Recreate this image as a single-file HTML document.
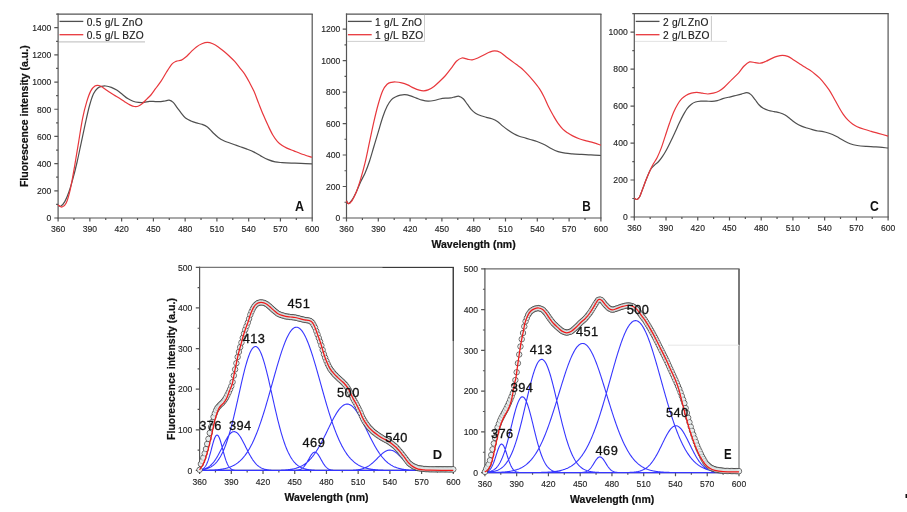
<!DOCTYPE html>
<html><head><meta charset="utf-8"><style>
html,body{margin:0;padding:0;background:#fff;}
svg{display:block;font-family:"Liberation Sans",sans-serif;filter:blur(0.3px);}
</style></head><body>
<svg width="907" height="512" viewBox="0 0 907 512">
<rect width="907" height="512" fill="#fff"/>
<path d="M57.5,14.1H312.8" stroke="#555" stroke-width="1.2"/>
<path d="M312.2,14.1V218" stroke="#555" stroke-width="1.2"/>
<path d="M58.1,13.5V218.6" stroke="#555" stroke-width="1.2"/>
<path d="M57.5,218H312.8" stroke="#555" stroke-width="1.2"/>
<path d="M58.1,218v3.6M73.98,218v2.1M89.86,218v3.6M105.74,218v2.1M121.62,218v3.6M137.51,218v2.1M153.39,218v3.6M169.27,218v2.1M185.15,218v3.6M201.03,218v2.1M216.91,218v3.6M232.79,218v2.1M248.68,218v3.6M264.56,218v2.1M280.44,218v3.6M296.32,218v2.1M312.2,218v3.6M58.1,218h-3.8M58.1,204.41h-2M58.1,190.81h-3.8M58.1,177.22h-2M58.1,163.63h-3.8M58.1,150.03h-2M58.1,136.44h-3.8M58.1,122.85h-2M58.1,109.25h-3.8M58.1,95.66h-2M58.1,82.07h-3.8M58.1,68.47h-2M58.1,54.88h-3.8M58.1,41.29h-2M58.1,27.69h-3.8M58.1,14.1h-2" stroke="#555" stroke-width="1.2"/>
<g font-size="9.4" fill="#262626" stroke="#262626" stroke-width="0.15"><text transform="translate(58.1,231.9) scale(0.915,1)" text-anchor="middle">360</text><text transform="translate(89.86,231.9) scale(0.915,1)" text-anchor="middle">390</text><text transform="translate(121.62,231.9) scale(0.915,1)" text-anchor="middle">420</text><text transform="translate(153.39,231.9) scale(0.915,1)" text-anchor="middle">450</text><text transform="translate(185.15,231.9) scale(0.915,1)" text-anchor="middle">480</text><text transform="translate(216.91,231.9) scale(0.915,1)" text-anchor="middle">510</text><text transform="translate(248.68,231.9) scale(0.915,1)" text-anchor="middle">540</text><text transform="translate(280.44,231.9) scale(0.915,1)" text-anchor="middle">570</text><text transform="translate(312.2,231.9) scale(0.915,1)" text-anchor="middle">600</text><text transform="translate(51.4,221.3) scale(0.915,1)" text-anchor="end">0</text><text transform="translate(51.4,194.11) scale(0.915,1)" text-anchor="end">200</text><text transform="translate(51.4,166.93) scale(0.915,1)" text-anchor="end">400</text><text transform="translate(51.4,139.74) scale(0.915,1)" text-anchor="end">600</text><text transform="translate(51.4,112.55) scale(0.915,1)" text-anchor="end">800</text><text transform="translate(51.4,85.37) scale(0.915,1)" text-anchor="end">1000</text><text transform="translate(51.4,58.18) scale(0.915,1)" text-anchor="end">1200</text><text transform="translate(51.4,30.99) scale(0.915,1)" text-anchor="end">1400</text></g>
<path d="M345.9,14.1H601.5" stroke="#555" stroke-width="1.2"/>
<path d="M600.9,14.1V218" stroke="#555" stroke-width="1.2"/>
<path d="M346.5,13.5V218.6" stroke="#555" stroke-width="1.2"/>
<path d="M345.9,218H601.5" stroke="#555" stroke-width="1.2"/>
<path d="M346.5,218v3.6M362.4,218v2.1M378.3,218v3.6M394.2,218v2.1M410.1,218v3.6M426,218v2.1M441.9,218v3.6M457.8,218v2.1M473.7,218v3.6M489.6,218v2.1M505.5,218v3.6M521.4,218v2.1M537.3,218v3.6M553.2,218v2.1M569.1,218v3.6M585,218v2.1M600.9,218v3.6M346.5,218h-3.8M346.5,202.25h-2M346.5,186.51h-3.8M346.5,170.76h-2M346.5,155.02h-3.8M346.5,139.27h-2M346.5,123.53h-3.8M346.5,107.78h-2M346.5,92.04h-3.8M346.5,76.29h-2M346.5,60.55h-3.8M346.5,44.8h-2M346.5,29.06h-3.8" stroke="#555" stroke-width="1.2"/>
<g font-size="9.4" fill="#262626" stroke="#262626" stroke-width="0.15"><text transform="translate(346.5,231.9) scale(0.915,1)" text-anchor="middle">360</text><text transform="translate(378.3,231.9) scale(0.915,1)" text-anchor="middle">390</text><text transform="translate(410.1,231.9) scale(0.915,1)" text-anchor="middle">420</text><text transform="translate(441.9,231.9) scale(0.915,1)" text-anchor="middle">450</text><text transform="translate(473.7,231.9) scale(0.915,1)" text-anchor="middle">480</text><text transform="translate(505.5,231.9) scale(0.915,1)" text-anchor="middle">510</text><text transform="translate(537.3,231.9) scale(0.915,1)" text-anchor="middle">540</text><text transform="translate(569.1,231.9) scale(0.915,1)" text-anchor="middle">570</text><text transform="translate(600.9,231.9) scale(0.915,1)" text-anchor="middle">600</text><text transform="translate(340.3,221.3) scale(0.915,1)" text-anchor="end">0</text><text transform="translate(340.3,189.81) scale(0.915,1)" text-anchor="end">200</text><text transform="translate(340.3,158.32) scale(0.915,1)" text-anchor="end">400</text><text transform="translate(340.3,126.83) scale(0.915,1)" text-anchor="end">600</text><text transform="translate(340.3,95.34) scale(0.915,1)" text-anchor="end">800</text><text transform="translate(340.3,63.85) scale(0.915,1)" text-anchor="end">1000</text><text transform="translate(340.3,32.36) scale(0.915,1)" text-anchor="end">1200</text></g>
<path d="M633.7,13.6H888.7" stroke="#555" stroke-width="1.2"/>
<path d="M888.1,13.6V217" stroke="#555" stroke-width="1.2"/>
<path d="M634.3,13V217.6" stroke="#555" stroke-width="1.2"/>
<path d="M633.7,217H888.7" stroke="#555" stroke-width="1.2"/>
<path d="M634.3,217v3.6M650.16,217v2.1M666.02,217v3.6M681.89,217v2.1M697.75,217v3.6M713.61,217v2.1M729.48,217v3.6M745.34,217v2.1M761.2,217v3.6M777.06,217v2.1M792.92,217v3.6M808.79,217v2.1M824.65,217v3.6M840.51,217v2.1M856.38,217v3.6M872.24,217v2.1M888.1,217v3.6M634.3,217h-3.8M634.3,198.51h-2M634.3,180.02h-3.8M634.3,161.53h-2M634.3,143.04h-3.8M634.3,124.55h-2M634.3,106.05h-3.8M634.3,87.56h-2M634.3,69.07h-3.8M634.3,50.58h-2M634.3,32.09h-3.8M634.3,13.6h-2" stroke="#555" stroke-width="1.2"/>
<g font-size="9.4" fill="#262626" stroke="#262626" stroke-width="0.15"><text transform="translate(634.3,230.9) scale(0.915,1)" text-anchor="middle">360</text><text transform="translate(666.02,230.9) scale(0.915,1)" text-anchor="middle">390</text><text transform="translate(697.75,230.9) scale(0.915,1)" text-anchor="middle">420</text><text transform="translate(729.48,230.9) scale(0.915,1)" text-anchor="middle">450</text><text transform="translate(761.2,230.9) scale(0.915,1)" text-anchor="middle">480</text><text transform="translate(792.92,230.9) scale(0.915,1)" text-anchor="middle">510</text><text transform="translate(824.65,230.9) scale(0.915,1)" text-anchor="middle">540</text><text transform="translate(856.38,230.9) scale(0.915,1)" text-anchor="middle">570</text><text transform="translate(888.1,230.9) scale(0.915,1)" text-anchor="middle">600</text><text transform="translate(627.7,220.3) scale(0.915,1)" text-anchor="end">0</text><text transform="translate(627.7,183.32) scale(0.915,1)" text-anchor="end">200</text><text transform="translate(627.7,146.34) scale(0.915,1)" text-anchor="end">400</text><text transform="translate(627.7,109.35) scale(0.915,1)" text-anchor="end">600</text><text transform="translate(627.7,72.37) scale(0.915,1)" text-anchor="end">800</text><text transform="translate(627.7,35.39) scale(0.915,1)" text-anchor="end">1000</text></g>
<path d="M199,267.3H453.9" stroke="#777" stroke-width="1.2"/>
<path d="M453.3,267.3V470.4" stroke="#6e6e6e" stroke-width="1.2"/>
<path d="M199.6,266.7V471" stroke="#555" stroke-width="1.2"/>
<path d="M199,470.4H453.9" stroke="#555" stroke-width="1.2"/>
<path d="M199.6,470.4v3.6M215.46,470.4v2.1M231.31,470.4v3.6M247.17,470.4v2.1M263.02,470.4v3.6M278.88,470.4v2.1M294.74,470.4v3.6M310.59,470.4v2.1M326.45,470.4v3.6M342.31,470.4v2.1M358.16,470.4v3.6M374.02,470.4v2.1M389.88,470.4v3.6M405.73,470.4v2.1M421.59,470.4v3.6M437.44,470.4v2.1M453.3,470.4v3.6M199.6,470.4h-3.8M199.6,450.09h-2M199.6,429.78h-3.8M199.6,409.47h-2M199.6,389.16h-3.8M199.6,368.85h-2M199.6,348.54h-3.8M199.6,328.23h-2M199.6,307.92h-3.8M199.6,287.61h-2M199.6,267.3h-3.8" stroke="#555" stroke-width="1.2"/>
<g font-size="9.4" fill="#262626" stroke="#262626" stroke-width="0.15"><text transform="translate(199.6,484.8) scale(0.915,1)" text-anchor="middle">360</text><text transform="translate(231.31,484.8) scale(0.915,1)" text-anchor="middle">390</text><text transform="translate(263.02,484.8) scale(0.915,1)" text-anchor="middle">420</text><text transform="translate(294.74,484.8) scale(0.915,1)" text-anchor="middle">450</text><text transform="translate(326.45,484.8) scale(0.915,1)" text-anchor="middle">480</text><text transform="translate(358.16,484.8) scale(0.915,1)" text-anchor="middle">510</text><text transform="translate(389.88,484.8) scale(0.915,1)" text-anchor="middle">540</text><text transform="translate(421.59,484.8) scale(0.915,1)" text-anchor="middle">570</text><text transform="translate(453.3,484.8) scale(0.915,1)" text-anchor="middle">600</text><text transform="translate(192.4,473.7) scale(0.915,1)" text-anchor="end">0</text><text transform="translate(192.4,433.08) scale(0.915,1)" text-anchor="end">100</text><text transform="translate(192.4,392.46) scale(0.915,1)" text-anchor="end">200</text><text transform="translate(192.4,351.84) scale(0.915,1)" text-anchor="end">300</text><text transform="translate(192.4,311.22) scale(0.915,1)" text-anchor="end">400</text><text transform="translate(192.4,270.6) scale(0.915,1)" text-anchor="end">500</text></g>
<path d="M382.5,267.5H453.9" stroke="#3a3a3a" stroke-width="1.2"/>
<path d="M453.3,267.3V341" stroke="#3a3a3a" stroke-width="1.2"/>
<path d="M484.3,268.9H739.6" stroke="#6a6a6a" stroke-width="1.2"/>
<path d="M739,268.9V472.6" stroke="#7a7a7a" stroke-width="1.2"/>
<path d="M484.9,268.3V473.2" stroke="#555" stroke-width="1.2"/>
<path d="M484.3,472.6H739.6" stroke="#555" stroke-width="1.2"/>
<path d="M484.9,472.6v3.6M500.78,472.6v2.1M516.66,472.6v3.6M532.54,472.6v2.1M548.42,472.6v3.6M564.31,472.6v2.1M580.19,472.6v3.6M596.07,472.6v2.1M611.95,472.6v3.6M627.83,472.6v2.1M643.71,472.6v3.6M659.59,472.6v2.1M675.48,472.6v3.6M691.36,472.6v2.1M707.24,472.6v3.6M723.12,472.6v2.1M739,472.6v3.6M484.9,472.6h-3.8M484.9,452.23h-2M484.9,431.86h-3.8M484.9,411.49h-2M484.9,391.12h-3.8M484.9,370.75h-2M484.9,350.38h-3.8M484.9,330.01h-2M484.9,309.64h-3.8M484.9,289.27h-2M484.9,268.9h-3.8" stroke="#555" stroke-width="1.2"/>
<g font-size="9.4" fill="#262626" stroke="#262626" stroke-width="0.15"><text transform="translate(484.9,486.9) scale(0.915,1)" text-anchor="middle">360</text><text transform="translate(516.66,486.9) scale(0.915,1)" text-anchor="middle">390</text><text transform="translate(548.42,486.9) scale(0.915,1)" text-anchor="middle">420</text><text transform="translate(580.19,486.9) scale(0.915,1)" text-anchor="middle">450</text><text transform="translate(611.95,486.9) scale(0.915,1)" text-anchor="middle">480</text><text transform="translate(643.71,486.9) scale(0.915,1)" text-anchor="middle">510</text><text transform="translate(675.48,486.9) scale(0.915,1)" text-anchor="middle">540</text><text transform="translate(707.24,486.9) scale(0.915,1)" text-anchor="middle">570</text><text transform="translate(739,486.9) scale(0.915,1)" text-anchor="middle">600</text><text transform="translate(478,475.9) scale(0.915,1)" text-anchor="end">0</text><text transform="translate(478,435.16) scale(0.915,1)" text-anchor="end">100</text><text transform="translate(478,394.42) scale(0.915,1)" text-anchor="end">200</text><text transform="translate(478,353.68) scale(0.915,1)" text-anchor="end">300</text><text transform="translate(478,312.94) scale(0.915,1)" text-anchor="end">400</text><text transform="translate(478,272.2) scale(0.915,1)" text-anchor="end">500</text></g>
<path d="M739,268.9V345" stroke="#5e5e5e" stroke-width="1.3"/>
<path d="M59,41.9H145" stroke="#c8c8c8" stroke-width="1.3"/>
<path d="M59.5,21.4H83.3" stroke="#4f4f4f" stroke-width="1.3"/>
<path d="M59.5,34.7H83.3" stroke="#e8373c" stroke-width="1.3"/>
<g font-size="10.2" letter-spacing="0.25" fill="#1a1a1a" stroke="#1a1a1a" stroke-width="0.15"><text x="86.7" y="25.9">0.5 g/L ZnO</text><text x="86.7" y="38.6">0.5 g/L BZO</text></g>
<path d="M347,41.4H424.5V14.8" fill="none" stroke="#cfcfcf" stroke-width="1"/>
<path d="M347.9,21.4H371.7" stroke="#4f4f4f" stroke-width="1.3"/>
<path d="M347.9,34.7H371.7" stroke="#e8373c" stroke-width="1.3"/>
<g font-size="10.2" letter-spacing="0.25" fill="#1a1a1a" stroke="#1a1a1a" stroke-width="0.15"><text x="375.1" y="25.9">1 g/L ZnO</text><text x="375.1" y="38.6">1 g/L BZO</text></g>
<path d="M635,41.4H727" stroke="#e4e4e4" stroke-width="1"/>
<path d="M711.4,16V40.8" stroke="#c8c8c8" stroke-width="1"/>
<path d="M635.7,21.4H659.5" stroke="#4f4f4f" stroke-width="1.3"/>
<path d="M635.7,34.7H659.5" stroke="#e8373c" stroke-width="1.3"/>
<g font-size="10.2" letter-spacing="0.25" fill="#1a1a1a" stroke="#1a1a1a" stroke-width="0.15"><text x="662.9" y="25.9">2 g/L<tspan dx="-1.5"> </tspan>ZnO</text><text x="662.9" y="38.6">2 g/L<tspan dx="-1.5"> </tspan>BZO</text></g>
<path d="M58,205.1C58.45,205.28 59.57,206.78 60.7,206.2C61.83,205.62 63.43,203.97 64.8,201.6C66.17,199.23 67.53,195.87 68.9,192C70.27,188.13 71.63,183.4 73,178.4C74.37,173.4 75.73,167.93 77.1,162C78.47,156.07 79.83,149.18 81.2,142.8C82.57,136.42 83.93,129.83 85.3,123.7C86.67,117.57 88.03,111 89.4,106C90.77,101 92.13,96.67 93.5,93.7C94.87,90.73 96.23,89.43 97.6,88.2C98.97,86.97 100.33,86.67 101.7,86.3C103.07,85.93 104.2,85.82 105.8,86C107.4,86.18 109.48,86.72 111.3,87.4C113.12,88.08 114.88,88.97 116.7,90.1C118.52,91.23 120.37,92.78 122.2,94.2C124.03,95.62 125.88,97.42 127.7,98.6C129.52,99.78 131.28,100.67 133.1,101.3C134.92,101.93 136.77,102.22 138.6,102.4C140.43,102.58 142.28,102.58 144.1,102.4C145.92,102.22 147.6,101.43 149.5,101.3C151.4,101.17 153.6,101.55 155.5,101.6C157.4,101.65 159.32,101.7 160.9,101.6C162.48,101.5 163.63,101.23 165,101C166.37,100.77 167.73,99.97 169.1,100.2C170.47,100.43 171.83,101.12 173.2,102.4C174.57,103.68 175.93,106.08 177.3,107.9C178.67,109.72 180.03,111.62 181.4,113.3C182.77,114.98 183.9,116.72 185.5,118C187.1,119.28 189.18,120.18 191,121C192.82,121.82 194.58,122.35 196.4,122.9C198.22,123.45 200.07,123.62 201.9,124.3C203.73,124.98 205.58,125.63 207.4,127C209.22,128.37 210.98,130.77 212.8,132.5C214.62,134.23 216.47,136.03 218.3,137.4C220.13,138.77 221.98,139.8 223.8,140.7C225.62,141.6 227.38,142.12 229.2,142.8C231.02,143.48 232.87,144.15 234.7,144.8C236.53,145.45 238.15,145.98 240.2,146.7C242.25,147.42 244.68,148.2 247,149.1C249.32,150 251.75,150.93 254.1,152.1C256.45,153.27 258.77,154.85 261.1,156.1C263.43,157.35 265.75,158.63 268.1,159.6C270.45,160.57 272.85,161.4 275.2,161.9C277.55,162.4 279.47,162.4 282.2,162.6C284.93,162.8 288.48,162.97 291.6,163.1C294.72,163.23 297.5,163.28 300.9,163.4C304.3,163.52 310.15,163.73 312,163.8" fill="none" stroke="#4f4f4f" stroke-width="1.2" stroke-linejoin="round"/>
<path d="M58,205.1C58.68,205.42 60.73,207.35 62.1,207C63.47,206.65 64.83,205.95 66.2,203C67.57,200.05 68.93,195.23 70.3,189.3C71.67,183.37 73.03,175.15 74.4,167.4C75.77,159.65 77.13,150.98 78.5,142.8C79.87,134.62 81.23,125.12 82.6,118.3C83.97,111.48 85.33,106.47 86.7,101.9C88.07,97.33 89.43,93.55 90.8,90.9C92.17,88.25 93.53,86.9 94.9,86C96.27,85.1 97.63,85.22 99,85.5C100.37,85.78 101.52,86.7 103.1,87.7C104.68,88.7 106.68,90.28 108.5,91.5C110.32,92.72 112.17,93.87 114,95C115.83,96.13 117.68,97.15 119.5,98.3C121.32,99.45 123.08,100.77 124.9,101.9C126.72,103.03 128.8,104.33 130.4,105.1C132,105.87 133.13,106.35 134.5,106.5C135.87,106.65 137.23,106.55 138.6,106C139.97,105.45 141.33,104.35 142.7,103.2C144.07,102.05 145.43,100.47 146.8,99.1C148.17,97.73 149.45,96.73 150.9,95C152.35,93.27 153.83,90.97 155.5,88.7C157.17,86.43 159.08,84.13 160.9,81.4C162.72,78.67 164.57,75.17 166.4,72.3C168.23,69.43 170.3,66.02 171.9,64.2C173.5,62.38 174.42,62.08 176,61.4C177.58,60.72 179.82,60.78 181.4,60.1C182.98,59.42 183.9,58.67 185.5,57.3C187.1,55.93 189.18,53.63 191,51.9C192.82,50.17 194.58,48.27 196.4,46.9C198.22,45.53 200.07,44.47 201.9,43.7C203.73,42.93 205.58,42.3 207.4,42.3C209.22,42.3 210.98,42.93 212.8,43.7C214.62,44.47 216.47,45.63 218.3,46.9C220.13,48.17 221.98,49.78 223.8,51.3C225.62,52.82 227.38,54.32 229.2,56C231.02,57.68 232.87,59.35 234.7,61.4C236.53,63.45 238.53,66.18 240.2,68.3C241.87,70.42 243.17,71.77 244.7,74.1C246.23,76.43 247.83,79.38 249.4,82.3C250.97,85.22 252.55,88.08 254.1,91.6C255.65,95.12 257.15,99.48 258.7,103.4C260.25,107.32 261.83,111.4 263.4,115.1C264.97,118.8 266.53,122.28 268.1,125.6C269.67,128.92 271.23,132.33 272.8,135C274.37,137.67 275.93,139.85 277.5,141.6C279.07,143.35 280.63,144.42 282.2,145.5C283.77,146.58 284.95,147.2 286.9,148.1C288.85,149 291.57,149.97 293.9,150.9C296.23,151.83 297.88,152.63 300.9,153.7C303.92,154.77 310.15,156.7 312,157.3" fill="none" stroke="#e8373c" stroke-width="1.2" stroke-linejoin="round"/>
<path d="M346.5,200.8C346.8,201.28 347.4,203.8 348.3,203.7C349.2,203.6 350.57,202.15 351.9,200.2C353.23,198.25 354.83,195.08 356.3,192C357.77,188.92 359.23,184.88 360.7,181.7C362.17,178.52 363.63,176.32 365.1,172.9C366.57,169.48 368.03,165.6 369.5,161.2C370.97,156.8 372.43,151.4 373.9,146.5C375.37,141.6 376.83,136.68 378.3,131.8C379.77,126.92 381.23,121.45 382.7,117.2C384.17,112.95 385.63,109.23 387.1,106.3C388.57,103.37 390.03,101.2 391.5,99.6C392.97,98 394.43,97.43 395.9,96.7C397.37,95.97 398.83,95.55 400.3,95.2C401.77,94.85 403,94.5 404.7,94.6C406.4,94.7 408.55,95.22 410.5,95.8C412.45,96.38 414.45,97.37 416.4,98.1C418.35,98.83 420.25,99.7 422.2,100.2C424.15,100.7 426.13,101.05 428.1,101.1C430.07,101.15 432.05,100.85 434,100.5C435.95,100.15 437.88,99.38 439.8,99C441.72,98.62 443.65,98.38 445.5,98.2C447.35,98.02 449.32,98.13 450.9,97.9C452.48,97.67 453.63,97.07 455,96.8C456.37,96.53 457.73,95.98 459.1,96.3C460.47,96.62 461.83,97.38 463.2,98.7C464.57,100.02 465.93,102.37 467.3,104.2C468.67,106.03 470.03,108.2 471.4,109.7C472.77,111.2 473.9,112.2 475.5,113.2C477.1,114.2 479.18,115.02 481,115.7C482.82,116.38 484.58,116.8 486.4,117.3C488.22,117.8 490.07,118.02 491.9,118.7C493.73,119.38 495.58,120.17 497.4,121.4C499.22,122.63 500.98,124.63 502.8,126.1C504.62,127.57 506.47,128.93 508.3,130.2C510.13,131.47 511.98,132.7 513.8,133.7C515.62,134.7 517.38,135.52 519.2,136.2C521.02,136.88 522.87,137.25 524.7,137.8C526.53,138.35 528.15,138.88 530.2,139.5C532.25,140.12 534.68,140.67 537,141.5C539.32,142.33 541.75,143.33 544.1,144.5C546.45,145.67 548.77,147.32 551.1,148.5C553.43,149.68 555.75,150.82 558.1,151.6C560.45,152.38 562.85,152.82 565.2,153.2C567.55,153.58 569.47,153.7 572.2,153.9C574.93,154.1 578.48,154.25 581.6,154.4C584.72,154.55 587.68,154.62 590.9,154.8C594.12,154.98 599.23,155.38 600.9,155.5" fill="none" stroke="#4f4f4f" stroke-width="1.2" stroke-linejoin="round"/>
<path d="M346.5,200.8C346.8,201.28 347.4,203.7 348.3,203.7C349.2,203.7 350.57,202.75 351.9,200.8C353.23,198.85 354.83,195.67 356.3,192C357.77,188.33 359.23,183.7 360.7,178.8C362.17,173.9 363.63,168.72 365.1,162.6C366.57,156.48 368.03,148.93 369.5,142.1C370.97,135.27 372.43,127.95 373.9,121.6C375.37,115.25 376.83,109.13 378.3,104C379.77,98.87 381.23,94.08 382.7,90.8C384.17,87.52 385.63,85.72 387.1,84.3C388.57,82.88 390.03,82.68 391.5,82.3C392.97,81.92 394.2,81.9 395.9,82C397.6,82.1 399.75,82.42 401.7,82.9C403.65,83.38 405.65,84.07 407.6,84.9C409.55,85.73 411.45,87.02 413.4,87.9C415.35,88.78 417.58,89.72 419.3,90.2C421.02,90.68 422.23,90.85 423.7,90.8C425.17,90.75 426.38,90.63 428.1,89.9C429.82,89.17 432.02,87.88 434,86.4C435.98,84.92 438.08,82.82 440,81C441.92,79.18 443.68,77.55 445.5,75.5C447.32,73.45 449.08,71.07 450.9,68.7C452.72,66.33 454.57,63.08 456.4,61.3C458.23,59.52 460.08,58.37 461.9,58C463.72,57.63 465.58,58.78 467.3,59.1C469.02,59.42 470.37,60.12 472.2,59.9C474.03,59.68 476.38,58.62 478.3,57.8C480.22,56.98 481.88,55.92 483.7,55C485.52,54.08 487.38,52.98 489.2,52.3C491.02,51.62 492.78,50.9 494.6,50.9C496.42,50.9 498.27,51.38 500.1,52.3C501.93,53.22 503.78,55.03 505.6,56.4C507.42,57.77 509.18,59.13 511,60.5C512.82,61.87 514.67,63.23 516.5,64.6C518.33,65.97 520.18,67.1 522,68.7C523.82,70.3 525.58,72.25 527.4,74.2C529.22,76.15 530.9,77.98 532.9,80.4C534.9,82.82 537.53,85.93 539.4,88.7C541.27,91.47 542.55,93.95 544.1,97C545.65,100.05 547.15,103.88 548.7,107C550.25,110.12 551.83,112.97 553.4,115.7C554.97,118.43 556.53,121.17 558.1,123.4C559.67,125.63 561.23,127.53 562.8,129.1C564.37,130.67 565.93,131.72 567.5,132.8C569.07,133.88 570.25,134.62 572.2,135.6C574.15,136.58 576.87,137.83 579.2,138.7C581.53,139.57 583.85,140.13 586.2,140.8C588.55,141.47 590.85,141.97 593.3,142.7C595.75,143.43 599.63,144.78 600.9,145.2" fill="none" stroke="#e8373c" stroke-width="1.2" stroke-linejoin="round"/>
<path d="M634.3,197.9C634.7,198.17 635.83,199.65 636.7,199.5C637.57,199.35 638.58,198.55 639.5,197C640.42,195.45 641.07,193.15 642.2,190.2C643.33,187.25 644.93,182.72 646.3,179.3C647.67,175.88 649.03,172.07 650.4,169.7C651.77,167.33 653.13,166.47 654.5,165.1C655.87,163.73 657.23,163 658.6,161.5C659.97,160 661.33,158.15 662.7,156.1C664.07,154.05 665.43,151.72 666.8,149.2C668.17,146.68 669.53,143.82 670.9,141C672.27,138.18 673.63,135.25 675,132.3C676.37,129.35 677.73,126.17 679.1,123.3C680.47,120.43 681.83,117.6 683.2,115.1C684.57,112.6 685.93,110.12 687.3,108.3C688.67,106.48 690.03,105.25 691.4,104.2C692.77,103.15 693.92,102.52 695.5,102C697.08,101.48 699.08,101.25 700.9,101.1C702.72,100.95 704.57,101.05 706.4,101.1C708.23,101.15 710.08,101.48 711.9,101.4C713.72,101.32 715.48,101.05 717.3,100.6C719.12,100.15 720.6,99.33 722.8,98.7C725,98.07 728.32,97.33 730.5,96.8C732.68,96.27 734.08,95.95 735.9,95.5C737.72,95.05 739.57,94.57 741.4,94.1C743.23,93.63 745.3,92.62 746.9,92.7C748.5,92.78 749.63,93.45 751,94.6C752.37,95.75 753.73,97.87 755.1,99.6C756.47,101.33 757.83,103.55 759.2,105C760.57,106.45 761.72,107.38 763.3,108.3C764.88,109.22 766.88,109.95 768.7,110.5C770.52,111.05 772.38,111.23 774.2,111.6C776.02,111.97 777.78,112.12 779.6,112.7C781.42,113.28 783.27,114.02 785.1,115.1C786.93,116.18 788.78,117.83 790.6,119.2C792.42,120.57 794.18,122.15 796,123.3C797.82,124.45 799.67,125.32 801.5,126.1C803.33,126.88 805.18,127.42 807,128C808.82,128.58 810.58,129.1 812.4,129.6C814.22,130.1 816.3,130.7 817.9,131C819.5,131.3 820.13,131.02 822,131.4C823.87,131.78 826.75,132.48 829.1,133.3C831.45,134.12 833.77,135.13 836.1,136.3C838.43,137.47 840.75,139.05 843.1,140.3C845.45,141.55 847.85,142.93 850.2,143.8C852.55,144.67 854.47,145.07 857.2,145.5C859.93,145.93 863.48,146.17 866.6,146.4C869.72,146.63 872.32,146.63 875.9,146.9C879.48,147.17 886.07,147.82 888.1,148" fill="none" stroke="#4f4f4f" stroke-width="1.2" stroke-linejoin="round"/>
<path d="M634.3,197.9C634.7,198.17 635.83,199.65 636.7,199.5C637.57,199.35 638.58,198.55 639.5,197C640.42,195.45 641.07,193.15 642.2,190.2C643.33,187.25 644.93,182.72 646.3,179.3C647.67,175.88 649.27,172.2 650.4,169.7C651.53,167.2 651.97,166.35 653.1,164.3C654.23,162.25 655.83,160.13 657.2,157.4C658.57,154.67 659.93,151.53 661.3,147.9C662.67,144.27 664.03,139.7 665.4,135.6C666.77,131.5 668.13,127.18 669.5,123.3C670.87,119.42 672.23,115.48 673.6,112.3C674.97,109.12 676.33,106.47 677.7,104.2C679.07,101.93 680.43,100.17 681.8,98.7C683.17,97.23 684.3,96.32 685.9,95.4C687.5,94.48 689.58,93.7 691.4,93.2C693.22,92.7 694.98,92.4 696.8,92.4C698.62,92.4 700.47,92.93 702.3,93.2C704.13,93.47 705.98,94 707.8,94C709.62,94 711.38,93.65 713.2,93.2C715.02,92.75 716.87,92.3 718.7,91.3C720.53,90.3 722.02,89.15 724.2,87.2C726.38,85.25 729.38,82 731.8,79.6C734.22,77.2 736.65,75.07 738.7,72.8C740.75,70.53 742.28,67.82 744.1,66C745.92,64.18 747.77,62.45 749.6,61.9C751.43,61.35 753.28,62.48 755.1,62.7C756.92,62.92 758.68,63.43 760.5,63.2C762.32,62.97 764.18,62.07 766,61.3C767.82,60.53 769.58,59.42 771.4,58.6C773.22,57.78 775.07,56.95 776.9,56.4C778.73,55.85 780.58,55.3 782.4,55.3C784.22,55.3 785.98,55.67 787.8,56.4C789.62,57.13 791.47,58.57 793.3,59.7C795.13,60.83 796.98,62.02 798.8,63.2C800.62,64.38 802.38,65.65 804.2,66.8C806.02,67.95 807.87,68.87 809.7,70.1C811.53,71.33 813.53,72.85 815.2,74.2C816.87,75.55 818.17,76.63 819.7,78.2C821.23,79.77 822.83,81.65 824.4,83.6C825.97,85.55 827.55,87.55 829.1,89.9C830.65,92.25 832.15,94.97 833.7,97.7C835.25,100.43 836.83,103.57 838.4,106.3C839.97,109.03 841.53,111.83 843.1,114.1C844.67,116.37 846.23,118.27 847.8,119.9C849.37,121.53 850.93,122.77 852.5,123.9C854.07,125.03 855.25,125.8 857.2,126.7C859.15,127.6 861.87,128.52 864.2,129.3C866.53,130.08 868.85,130.73 871.2,131.4C873.55,132.07 875.48,132.52 878.3,133.3C881.12,134.08 886.47,135.63 888.1,136.1" fill="none" stroke="#e8373c" stroke-width="1.2" stroke-linejoin="round"/>
<path d="M199.6,470.12 L200.13,470.03 L200.66,469.91 L201.19,469.76 L201.71,469.56 L202.24,469.32 L202.77,469.02 L203.3,468.65 L203.83,468.21 L204.36,467.68 L204.89,467.04 L205.41,466.3 L205.94,465.43 L206.47,464.44 L207,463.31 L207.53,462.04 L208.06,460.63 L208.59,459.09 L209.11,457.42 L209.64,455.63 L210.17,453.74 L210.7,451.78 L211.23,449.77 L211.76,447.75 L212.28,445.76 L212.81,443.82 L213.34,441.98 L213.87,440.29 L214.4,438.78 L214.93,437.49 L215.46,436.45 L215.98,435.68 L216.51,435.22 L217.04,435.06 L217.57,435.22 L218.1,435.68 L218.63,436.45 L219.16,437.49 L219.68,438.78 L220.21,440.29 L220.74,441.98 L221.27,443.82 L221.8,445.76 L222.33,447.75 L222.86,449.77 L223.38,451.78 L223.91,453.74 L224.44,455.63 L224.97,457.42 L225.5,459.09 L226.03,460.63 L226.56,462.04 L227.08,463.31 L227.61,464.44 L228.14,465.43 L228.67,466.3 L229.2,467.04 L229.73,467.68 L230.26,468.21 L230.78,468.65 L231.31,469.02 L231.84,469.32 L232.37,469.56 L232.9,469.76 L233.43,469.91 L233.96,470.03 L234.48,470.12 L235.01,470.19 L235.54,470.25 L236.07,470.29 L236.6,470.32 L237.13,470.34 L237.66,470.36 L238.18,470.37 L238.71,470.38 L239.24,470.39 L239.77,470.39 L240.3,470.39 L240.83,470.4 L241.35,470.4 L241.88,470.4 L242.41,470.4 L242.94,470.4 L243.47,470.4 L244,470.4 L244.53,470.4 L245.05,470.4 L245.58,470.4 L246.11,470.4 L246.64,470.4 L247.17,470.4 L247.7,470.4 L248.23,470.4 L248.75,470.4 L249.28,470.4 L249.81,470.4 L250.34,470.4 L250.87,470.4 L251.4,470.4 L251.93,470.4 L252.45,470.4 L252.98,470.4 L253.51,470.4 L254.04,470.4 L254.57,470.4 L255.1,470.4 L255.63,470.4 L256.15,470.4 L256.68,470.4 L257.21,470.4 L257.74,470.4 L258.27,470.4 L258.8,470.4 L259.33,470.4 L259.85,470.4 L260.38,470.4 L260.91,470.4 L261.44,470.4 L261.97,470.4 L262.5,470.4 L263.02,470.4 L263.55,470.4 L264.08,470.4 L264.61,470.4 L265.14,470.4 L265.67,470.4 L266.2,470.4 L266.72,470.4 L267.25,470.4 L267.78,470.4 L268.31,470.4 L268.84,470.4 L269.37,470.4 L269.9,470.4 L270.42,470.4 L270.95,470.4 L271.48,470.4 L272.01,470.4 L272.54,470.4 L273.07,470.4 L273.6,470.4 L274.12,470.4 L274.65,470.4 L275.18,470.4 L275.71,470.4 L276.24,470.4 L276.77,470.4 L277.3,470.4 L277.82,470.4 L278.35,470.4 L278.88,470.4 L279.41,470.4 L279.94,470.4 L280.47,470.4 L281,470.4 L281.52,470.4 L282.05,470.4 L282.58,470.4 L283.11,470.4 L283.64,470.4 L284.17,470.4 L284.7,470.4 L285.22,470.4 L285.75,470.4 L286.28,470.4 L286.81,470.4 L287.34,470.4 L287.87,470.4 L288.39,470.4 L288.92,470.4 L289.45,470.4 L289.98,470.4 L290.51,470.4 L291.04,470.4 L291.57,470.4 L292.09,470.4 L292.62,470.4 L293.15,470.4 L293.68,470.4 L294.21,470.4 L294.74,470.4 L295.27,470.4 L295.79,470.4 L296.32,470.4 L296.85,470.4 L297.38,470.4 L297.91,470.4 L298.44,470.4 L298.97,470.4 L299.49,470.4 L300.02,470.4 L300.55,470.4 L301.08,470.4 L301.61,470.4 L302.14,470.4 L302.67,470.4 L303.19,470.4 L303.72,470.4 L304.25,470.4 L304.78,470.4 L305.31,470.4 L305.84,470.4 L306.37,470.4 L306.89,470.4 L307.42,470.4 L307.95,470.4 L308.48,470.4 L309.01,470.4 L309.54,470.4 L310.07,470.4 L310.59,470.4 L311.12,470.4 L311.65,470.4 L312.18,470.4 L312.71,470.4 L313.24,470.4 L313.76,470.4 L314.29,470.4 L314.82,470.4 L315.35,470.4 L315.88,470.4 L316.41,470.4 L316.94,470.4 L317.46,470.4 L317.99,470.4 L318.52,470.4 L319.05,470.4 L319.58,470.4 L320.11,470.4 L320.64,470.4 L321.16,470.4 L321.69,470.4 L322.22,470.4 L322.75,470.4 L323.28,470.4 L323.81,470.4 L324.34,470.4 L324.86,470.4 L325.39,470.4 L325.92,470.4 L326.45,470.4 L326.98,470.4 L327.51,470.4 L328.04,470.4 L328.56,470.4 L329.09,470.4 L329.62,470.4 L330.15,470.4 L330.68,470.4 L331.21,470.4 L331.74,470.4 L332.26,470.4 L332.79,470.4 L333.32,470.4 L333.85,470.4 L334.38,470.4 L334.91,470.4 L335.44,470.4 L335.96,470.4 L336.49,470.4 L337.02,470.4 L337.55,470.4 L338.08,470.4 L338.61,470.4 L339.13,470.4 L339.66,470.4 L340.19,470.4 L340.72,470.4 L341.25,470.4 L341.78,470.4 L342.31,470.4 L342.83,470.4 L343.36,470.4 L343.89,470.4 L344.42,470.4 L344.95,470.4 L345.48,470.4 L346.01,470.4 L346.53,470.4 L347.06,470.4 L347.59,470.4 L348.12,470.4 L348.65,470.4 L349.18,470.4 L349.71,470.4 L350.23,470.4 L350.76,470.4 L351.29,470.4 L351.82,470.4 L352.35,470.4 L352.88,470.4 L353.41,470.4 L353.93,470.4 L354.46,470.4 L354.99,470.4 L355.52,470.4 L356.05,470.4 L356.58,470.4 L357.11,470.4 L357.63,470.4 L358.16,470.4 L358.69,470.4 L359.22,470.4 L359.75,470.4 L360.28,470.4 L360.81,470.4 L361.33,470.4 L361.86,470.4 L362.39,470.4 L362.92,470.4 L363.45,470.4 L363.98,470.4 L364.5,470.4 L365.03,470.4 L365.56,470.4 L366.09,470.4 L366.62,470.4 L367.15,470.4 L367.68,470.4 L368.2,470.4 L368.73,470.4 L369.26,470.4 L369.79,470.4 L370.32,470.4 L370.85,470.4 L371.38,470.4 L371.9,470.4 L372.43,470.4 L372.96,470.4 L373.49,470.4 L374.02,470.4 L374.55,470.4 L375.08,470.4 L375.6,470.4 L376.13,470.4 L376.66,470.4 L377.19,470.4 L377.72,470.4 L378.25,470.4 L378.78,470.4 L379.3,470.4 L379.83,470.4 L380.36,470.4 L380.89,470.4 L381.42,470.4 L381.95,470.4 L382.48,470.4 L383,470.4 L383.53,470.4 L384.06,470.4 L384.59,470.4 L385.12,470.4 L385.65,470.4 L386.18,470.4 L386.7,470.4 L387.23,470.4 L387.76,470.4 L388.29,470.4 L388.82,470.4 L389.35,470.4 L389.88,470.4 L390.4,470.4 L390.93,470.4 L391.46,470.4 L391.99,470.4 L392.52,470.4 L393.05,470.4 L393.57,470.4 L394.1,470.4 L394.63,470.4 L395.16,470.4 L395.69,470.4 L396.22,470.4 L396.75,470.4 L397.27,470.4 L397.8,470.4 L398.33,470.4 L398.86,470.4 L399.39,470.4 L399.92,470.4 L400.45,470.4 L400.97,470.4 L401.5,470.4 L402.03,470.4 L402.56,470.4 L403.09,470.4 L403.62,470.4 L404.15,470.4 L404.67,470.4 L405.2,470.4 L405.73,470.4 L406.26,470.4 L406.79,470.4 L407.32,470.4 L407.85,470.4 L408.37,470.4 L408.9,470.4 L409.43,470.4 L409.96,470.4 L410.49,470.4 L411.02,470.4 L411.55,470.4 L412.07,470.4 L412.6,470.4 L413.13,470.4 L413.66,470.4 L414.19,470.4 L414.72,470.4 L415.25,470.4 L415.77,470.4 L416.3,470.4 L416.83,470.4 L417.36,470.4 L417.89,470.4 L418.42,470.4 L418.94,470.4 L419.47,470.4 L420,470.4 L420.53,470.4 L421.06,470.4 L421.59,470.4 L422.12,470.4 L422.64,470.4 L423.17,470.4 L423.7,470.4 L424.23,470.4 L424.76,470.4 L425.29,470.4 L425.82,470.4 L426.34,470.4 L426.87,470.4 L427.4,470.4 L427.93,470.4 L428.46,470.4 L428.99,470.4 L429.52,470.4 L430.04,470.4 L430.57,470.4 L431.1,470.4 L431.63,470.4 L432.16,470.4 L432.69,470.4 L433.22,470.4 L433.74,470.4 L434.27,470.4 L434.8,470.4 L435.33,470.4 L435.86,470.4 L436.39,470.4 L436.92,470.4 L437.44,470.4 L437.97,470.4 L438.5,470.4 L439.03,470.4 L439.56,470.4 L440.09,470.4 L440.62,470.4 L441.14,470.4 L441.67,470.4 L442.2,470.4 L442.73,470.4 L443.26,470.4 L443.79,470.4 L444.31,470.4 L444.84,470.4 L445.37,470.4 L445.9,470.4 L446.43,470.4 L446.96,470.4 L447.49,470.4 L448.01,470.4 L448.54,470.4 L449.07,470.4 L449.6,470.4 L450.13,470.4 L450.66,470.4 L451.19,470.4 L451.71,470.4 L452.24,470.4 L452.77,470.4 L453.3,470.4M199.6,469.92 L200.13,469.85 L200.66,469.77 L201.19,469.69 L201.71,469.59 L202.24,469.48 L202.77,469.36 L203.3,469.23 L203.83,469.08 L204.36,468.92 L204.89,468.73 L205.41,468.53 L205.94,468.32 L206.47,468.08 L207,467.81 L207.53,467.53 L208.06,467.22 L208.59,466.88 L209.11,466.52 L209.64,466.12 L210.17,465.7 L210.7,465.24 L211.23,464.76 L211.76,464.24 L212.28,463.68 L212.81,463.09 L213.34,462.47 L213.87,461.81 L214.4,461.11 L214.93,460.38 L215.46,459.61 L215.98,458.81 L216.51,457.98 L217.04,457.11 L217.57,456.21 L218.1,455.28 L218.63,454.32 L219.16,453.34 L219.68,452.34 L220.21,451.31 L220.74,450.27 L221.27,449.22 L221.8,448.15 L222.33,447.09 L222.86,446.02 L223.38,444.95 L223.91,443.89 L224.44,442.85 L224.97,441.82 L225.5,440.82 L226.03,439.84 L226.56,438.9 L227.08,438 L227.61,437.14 L228.14,436.32 L228.67,435.56 L229.2,434.86 L229.73,434.21 L230.26,433.63 L230.78,433.12 L231.31,432.68 L231.84,432.31 L232.37,432.02 L232.9,431.8 L233.43,431.67 L233.96,431.61 L234.48,431.63 L235.01,431.74 L235.54,431.92 L236.07,432.18 L236.6,432.52 L237.13,432.93 L237.66,433.42 L238.18,433.97 L238.71,434.59 L239.24,435.27 L239.77,436.01 L240.3,436.81 L240.83,437.65 L241.35,438.54 L241.88,439.46 L242.41,440.43 L242.94,441.42 L243.47,442.44 L244,443.47 L244.53,444.53 L245.05,445.59 L245.58,446.66 L246.11,447.73 L246.64,448.79 L247.17,449.85 L247.7,450.9 L248.23,451.93 L248.75,452.94 L249.28,453.93 L249.81,454.9 L250.34,455.84 L250.87,456.75 L251.4,457.63 L251.93,458.48 L252.45,459.3 L252.98,460.08 L253.51,460.82 L254.04,461.53 L254.57,462.21 L255.1,462.85 L255.63,463.45 L256.15,464.02 L256.68,464.55 L257.21,465.05 L257.74,465.52 L258.27,465.96 L258.8,466.36 L259.33,466.74 L259.85,467.09 L260.38,467.41 L260.91,467.7 L261.44,467.97 L261.97,468.22 L262.5,468.45 L263.02,468.66 L263.55,468.84 L264.08,469.02 L264.61,469.17 L265.14,469.31 L265.67,469.44 L266.2,469.55 L266.72,469.65 L267.25,469.74 L267.78,469.82 L268.31,469.89 L268.84,469.96 L269.37,470.01 L269.9,470.06 L270.42,470.11 L270.95,470.15 L271.48,470.18 L272.01,470.21 L272.54,470.24 L273.07,470.26 L273.6,470.28 L274.12,470.3 L274.65,470.31 L275.18,470.33 L275.71,470.34 L276.24,470.35 L276.77,470.35 L277.3,470.36 L277.82,470.37 L278.35,470.37 L278.88,470.38 L279.41,470.38 L279.94,470.38 L280.47,470.39 L281,470.39 L281.52,470.39 L282.05,470.39 L282.58,470.39 L283.11,470.39 L283.64,470.4 L284.17,470.4 L284.7,470.4 L285.22,470.4 L285.75,470.4 L286.28,470.4 L286.81,470.4 L287.34,470.4 L287.87,470.4 L288.39,470.4 L288.92,470.4 L289.45,470.4 L289.98,470.4 L290.51,470.4 L291.04,470.4 L291.57,470.4 L292.09,470.4 L292.62,470.4 L293.15,470.4 L293.68,470.4 L294.21,470.4 L294.74,470.4 L295.27,470.4 L295.79,470.4 L296.32,470.4 L296.85,470.4 L297.38,470.4 L297.91,470.4 L298.44,470.4 L298.97,470.4 L299.49,470.4 L300.02,470.4 L300.55,470.4 L301.08,470.4 L301.61,470.4 L302.14,470.4 L302.67,470.4 L303.19,470.4 L303.72,470.4 L304.25,470.4 L304.78,470.4 L305.31,470.4 L305.84,470.4 L306.37,470.4 L306.89,470.4 L307.42,470.4 L307.95,470.4 L308.48,470.4 L309.01,470.4 L309.54,470.4 L310.07,470.4 L310.59,470.4 L311.12,470.4 L311.65,470.4 L312.18,470.4 L312.71,470.4 L313.24,470.4 L313.76,470.4 L314.29,470.4 L314.82,470.4 L315.35,470.4 L315.88,470.4 L316.41,470.4 L316.94,470.4 L317.46,470.4 L317.99,470.4 L318.52,470.4 L319.05,470.4 L319.58,470.4 L320.11,470.4 L320.64,470.4 L321.16,470.4 L321.69,470.4 L322.22,470.4 L322.75,470.4 L323.28,470.4 L323.81,470.4 L324.34,470.4 L324.86,470.4 L325.39,470.4 L325.92,470.4 L326.45,470.4 L326.98,470.4 L327.51,470.4 L328.04,470.4 L328.56,470.4 L329.09,470.4 L329.62,470.4 L330.15,470.4 L330.68,470.4 L331.21,470.4 L331.74,470.4 L332.26,470.4 L332.79,470.4 L333.32,470.4 L333.85,470.4 L334.38,470.4 L334.91,470.4 L335.44,470.4 L335.96,470.4 L336.49,470.4 L337.02,470.4 L337.55,470.4 L338.08,470.4 L338.61,470.4 L339.13,470.4 L339.66,470.4 L340.19,470.4 L340.72,470.4 L341.25,470.4 L341.78,470.4 L342.31,470.4 L342.83,470.4 L343.36,470.4 L343.89,470.4 L344.42,470.4 L344.95,470.4 L345.48,470.4 L346.01,470.4 L346.53,470.4 L347.06,470.4 L347.59,470.4 L348.12,470.4 L348.65,470.4 L349.18,470.4 L349.71,470.4 L350.23,470.4 L350.76,470.4 L351.29,470.4 L351.82,470.4 L352.35,470.4 L352.88,470.4 L353.41,470.4 L353.93,470.4 L354.46,470.4 L354.99,470.4 L355.52,470.4 L356.05,470.4 L356.58,470.4 L357.11,470.4 L357.63,470.4 L358.16,470.4 L358.69,470.4 L359.22,470.4 L359.75,470.4 L360.28,470.4 L360.81,470.4 L361.33,470.4 L361.86,470.4 L362.39,470.4 L362.92,470.4 L363.45,470.4 L363.98,470.4 L364.5,470.4 L365.03,470.4 L365.56,470.4 L366.09,470.4 L366.62,470.4 L367.15,470.4 L367.68,470.4 L368.2,470.4 L368.73,470.4 L369.26,470.4 L369.79,470.4 L370.32,470.4 L370.85,470.4 L371.38,470.4 L371.9,470.4 L372.43,470.4 L372.96,470.4 L373.49,470.4 L374.02,470.4 L374.55,470.4 L375.08,470.4 L375.6,470.4 L376.13,470.4 L376.66,470.4 L377.19,470.4 L377.72,470.4 L378.25,470.4 L378.78,470.4 L379.3,470.4 L379.83,470.4 L380.36,470.4 L380.89,470.4 L381.42,470.4 L381.95,470.4 L382.48,470.4 L383,470.4 L383.53,470.4 L384.06,470.4 L384.59,470.4 L385.12,470.4 L385.65,470.4 L386.18,470.4 L386.7,470.4 L387.23,470.4 L387.76,470.4 L388.29,470.4 L388.82,470.4 L389.35,470.4 L389.88,470.4 L390.4,470.4 L390.93,470.4 L391.46,470.4 L391.99,470.4 L392.52,470.4 L393.05,470.4 L393.57,470.4 L394.1,470.4 L394.63,470.4 L395.16,470.4 L395.69,470.4 L396.22,470.4 L396.75,470.4 L397.27,470.4 L397.8,470.4 L398.33,470.4 L398.86,470.4 L399.39,470.4 L399.92,470.4 L400.45,470.4 L400.97,470.4 L401.5,470.4 L402.03,470.4 L402.56,470.4 L403.09,470.4 L403.62,470.4 L404.15,470.4 L404.67,470.4 L405.2,470.4 L405.73,470.4 L406.26,470.4 L406.79,470.4 L407.32,470.4 L407.85,470.4 L408.37,470.4 L408.9,470.4 L409.43,470.4 L409.96,470.4 L410.49,470.4 L411.02,470.4 L411.55,470.4 L412.07,470.4 L412.6,470.4 L413.13,470.4 L413.66,470.4 L414.19,470.4 L414.72,470.4 L415.25,470.4 L415.77,470.4 L416.3,470.4 L416.83,470.4 L417.36,470.4 L417.89,470.4 L418.42,470.4 L418.94,470.4 L419.47,470.4 L420,470.4 L420.53,470.4 L421.06,470.4 L421.59,470.4 L422.12,470.4 L422.64,470.4 L423.17,470.4 L423.7,470.4 L424.23,470.4 L424.76,470.4 L425.29,470.4 L425.82,470.4 L426.34,470.4 L426.87,470.4 L427.4,470.4 L427.93,470.4 L428.46,470.4 L428.99,470.4 L429.52,470.4 L430.04,470.4 L430.57,470.4 L431.1,470.4 L431.63,470.4 L432.16,470.4 L432.69,470.4 L433.22,470.4 L433.74,470.4 L434.27,470.4 L434.8,470.4 L435.33,470.4 L435.86,470.4 L436.39,470.4 L436.92,470.4 L437.44,470.4 L437.97,470.4 L438.5,470.4 L439.03,470.4 L439.56,470.4 L440.09,470.4 L440.62,470.4 L441.14,470.4 L441.67,470.4 L442.2,470.4 L442.73,470.4 L443.26,470.4 L443.79,470.4 L444.31,470.4 L444.84,470.4 L445.37,470.4 L445.9,470.4 L446.43,470.4 L446.96,470.4 L447.49,470.4 L448.01,470.4 L448.54,470.4 L449.07,470.4 L449.6,470.4 L450.13,470.4 L450.66,470.4 L451.19,470.4 L451.71,470.4 L452.24,470.4 L452.77,470.4 L453.3,470.4M199.6,469.93 L200.13,469.88 L200.66,469.83 L201.19,469.76 L201.71,469.69 L202.24,469.62 L202.77,469.54 L203.3,469.45 L203.83,469.35 L204.36,469.24 L204.89,469.12 L205.41,469 L205.94,468.86 L206.47,468.71 L207,468.54 L207.53,468.37 L208.06,468.18 L208.59,467.97 L209.11,467.74 L209.64,467.5 L210.17,467.24 L210.7,466.96 L211.23,466.66 L211.76,466.33 L212.28,465.98 L212.81,465.61 L213.34,465.21 L213.87,464.78 L214.4,464.33 L214.93,463.84 L215.46,463.32 L215.98,462.76 L216.51,462.18 L217.04,461.55 L217.57,460.89 L218.1,460.19 L218.63,459.44 L219.16,458.66 L219.68,457.83 L220.21,456.96 L220.74,456.04 L221.27,455.07 L221.8,454.05 L222.33,452.99 L222.86,451.87 L223.38,450.7 L223.91,449.48 L224.44,448.2 L224.97,446.87 L225.5,445.49 L226.03,444.05 L226.56,442.55 L227.08,441 L227.61,439.4 L228.14,437.74 L228.67,436.02 L229.2,434.25 L229.73,432.43 L230.26,430.56 L230.78,428.64 L231.31,426.66 L231.84,424.64 L232.37,422.57 L232.9,420.47 L233.43,418.32 L233.96,416.13 L234.48,413.9 L235.01,411.65 L235.54,409.36 L236.07,407.05 L236.6,404.72 L237.13,402.37 L237.66,400.01 L238.18,397.63 L238.71,395.26 L239.24,392.88 L239.77,390.51 L240.3,388.14 L240.83,385.8 L241.35,383.47 L241.88,381.17 L242.41,378.9 L242.94,376.66 L243.47,374.47 L244,372.32 L244.53,370.23 L245.05,368.19 L245.58,366.21 L246.11,364.31 L246.64,362.48 L247.17,360.72 L247.7,359.05 L248.23,357.47 L248.75,355.98 L249.28,354.58 L249.81,353.29 L250.34,352.1 L250.87,351.01 L251.4,350.04 L251.93,349.18 L252.45,348.44 L252.98,347.81 L253.51,347.31 L254.04,346.93 L254.57,346.67 L255.1,346.53 L255.63,346.52 L256.15,346.63 L256.68,346.87 L257.21,347.22 L257.74,347.7 L258.27,348.3 L258.8,349.02 L259.33,349.86 L259.85,350.81 L260.38,351.87 L260.91,353.04 L261.44,354.31 L261.97,355.69 L262.5,357.16 L263.02,358.73 L263.55,360.38 L264.08,362.12 L264.61,363.94 L265.14,365.83 L265.67,367.79 L266.2,369.81 L266.72,371.9 L267.25,374.03 L267.78,376.22 L268.31,378.45 L268.84,380.71 L269.37,383.01 L269.9,385.33 L270.42,387.67 L270.95,390.03 L271.48,392.4 L272.01,394.78 L272.54,397.16 L273.07,399.53 L273.6,401.9 L274.12,404.25 L274.65,406.59 L275.18,408.9 L275.71,411.19 L276.24,413.45 L276.77,415.68 L277.3,417.88 L277.82,420.04 L278.35,422.16 L278.88,424.23 L279.41,426.26 L279.94,428.24 L280.47,430.18 L281,432.06 L281.52,433.89 L282.05,435.67 L282.58,437.4 L283.11,439.07 L283.64,440.69 L284.17,442.25 L284.7,443.75 L285.22,445.21 L285.75,446.6 L286.28,447.94 L286.81,449.23 L287.34,450.46 L287.87,451.64 L288.39,452.77 L288.92,453.84 L289.45,454.87 L289.98,455.85 L290.51,456.78 L291.04,457.66 L291.57,458.5 L292.09,459.29 L292.62,460.04 L293.15,460.75 L293.68,461.42 L294.21,462.05 L294.74,462.65 L295.27,463.21 L295.79,463.74 L296.32,464.23 L296.85,464.69 L297.38,465.13 L297.91,465.53 L298.44,465.91 L298.97,466.26 L299.49,466.59 L300.02,466.9 L300.55,467.19 L301.08,467.45 L301.61,467.7 L302.14,467.92 L302.67,468.14 L303.19,468.33 L303.72,468.51 L304.25,468.68 L304.78,468.83 L305.31,468.97 L305.84,469.1 L306.37,469.22 L306.89,469.33 L307.42,469.43 L307.95,469.52 L308.48,469.6 L309.01,469.68 L309.54,469.75 L310.07,469.81 L310.59,469.87 L311.12,469.92 L311.65,469.97 L312.18,470.02 L312.71,470.06 L313.24,470.09 L313.76,470.12 L314.29,470.15 L314.82,470.18 L315.35,470.2 L315.88,470.22 L316.41,470.24 L316.94,470.26 L317.46,470.28 L317.99,470.29 L318.52,470.3 L319.05,470.31 L319.58,470.32 L320.11,470.33 L320.64,470.34 L321.16,470.35 L321.69,470.35 L322.22,470.36 L322.75,470.36 L323.28,470.37 L323.81,470.37 L324.34,470.38 L324.86,470.38 L325.39,470.38 L325.92,470.38 L326.45,470.39 L326.98,470.39 L327.51,470.39 L328.04,470.39 L328.56,470.39 L329.09,470.39 L329.62,470.39 L330.15,470.39 L330.68,470.4 L331.21,470.4 L331.74,470.4 L332.26,470.4 L332.79,470.4 L333.32,470.4 L333.85,470.4 L334.38,470.4 L334.91,470.4 L335.44,470.4 L335.96,470.4 L336.49,470.4 L337.02,470.4 L337.55,470.4 L338.08,470.4 L338.61,470.4 L339.13,470.4 L339.66,470.4 L340.19,470.4 L340.72,470.4 L341.25,470.4 L341.78,470.4 L342.31,470.4 L342.83,470.4 L343.36,470.4 L343.89,470.4 L344.42,470.4 L344.95,470.4 L345.48,470.4 L346.01,470.4 L346.53,470.4 L347.06,470.4 L347.59,470.4 L348.12,470.4 L348.65,470.4 L349.18,470.4 L349.71,470.4 L350.23,470.4 L350.76,470.4 L351.29,470.4 L351.82,470.4 L352.35,470.4 L352.88,470.4 L353.41,470.4 L353.93,470.4 L354.46,470.4 L354.99,470.4 L355.52,470.4 L356.05,470.4 L356.58,470.4 L357.11,470.4 L357.63,470.4 L358.16,470.4 L358.69,470.4 L359.22,470.4 L359.75,470.4 L360.28,470.4 L360.81,470.4 L361.33,470.4 L361.86,470.4 L362.39,470.4 L362.92,470.4 L363.45,470.4 L363.98,470.4 L364.5,470.4 L365.03,470.4 L365.56,470.4 L366.09,470.4 L366.62,470.4 L367.15,470.4 L367.68,470.4 L368.2,470.4 L368.73,470.4 L369.26,470.4 L369.79,470.4 L370.32,470.4 L370.85,470.4 L371.38,470.4 L371.9,470.4 L372.43,470.4 L372.96,470.4 L373.49,470.4 L374.02,470.4 L374.55,470.4 L375.08,470.4 L375.6,470.4 L376.13,470.4 L376.66,470.4 L377.19,470.4 L377.72,470.4 L378.25,470.4 L378.78,470.4 L379.3,470.4 L379.83,470.4 L380.36,470.4 L380.89,470.4 L381.42,470.4 L381.95,470.4 L382.48,470.4 L383,470.4 L383.53,470.4 L384.06,470.4 L384.59,470.4 L385.12,470.4 L385.65,470.4 L386.18,470.4 L386.7,470.4 L387.23,470.4 L387.76,470.4 L388.29,470.4 L388.82,470.4 L389.35,470.4 L389.88,470.4 L390.4,470.4 L390.93,470.4 L391.46,470.4 L391.99,470.4 L392.52,470.4 L393.05,470.4 L393.57,470.4 L394.1,470.4 L394.63,470.4 L395.16,470.4 L395.69,470.4 L396.22,470.4 L396.75,470.4 L397.27,470.4 L397.8,470.4 L398.33,470.4 L398.86,470.4 L399.39,470.4 L399.92,470.4 L400.45,470.4 L400.97,470.4 L401.5,470.4 L402.03,470.4 L402.56,470.4 L403.09,470.4 L403.62,470.4 L404.15,470.4 L404.67,470.4 L405.2,470.4 L405.73,470.4 L406.26,470.4 L406.79,470.4 L407.32,470.4 L407.85,470.4 L408.37,470.4 L408.9,470.4 L409.43,470.4 L409.96,470.4 L410.49,470.4 L411.02,470.4 L411.55,470.4 L412.07,470.4 L412.6,470.4 L413.13,470.4 L413.66,470.4 L414.19,470.4 L414.72,470.4 L415.25,470.4 L415.77,470.4 L416.3,470.4 L416.83,470.4 L417.36,470.4 L417.89,470.4 L418.42,470.4 L418.94,470.4 L419.47,470.4 L420,470.4 L420.53,470.4 L421.06,470.4 L421.59,470.4 L422.12,470.4 L422.64,470.4 L423.17,470.4 L423.7,470.4 L424.23,470.4 L424.76,470.4 L425.29,470.4 L425.82,470.4 L426.34,470.4 L426.87,470.4 L427.4,470.4 L427.93,470.4 L428.46,470.4 L428.99,470.4 L429.52,470.4 L430.04,470.4 L430.57,470.4 L431.1,470.4 L431.63,470.4 L432.16,470.4 L432.69,470.4 L433.22,470.4 L433.74,470.4 L434.27,470.4 L434.8,470.4 L435.33,470.4 L435.86,470.4 L436.39,470.4 L436.92,470.4 L437.44,470.4 L437.97,470.4 L438.5,470.4 L439.03,470.4 L439.56,470.4 L440.09,470.4 L440.62,470.4 L441.14,470.4 L441.67,470.4 L442.2,470.4 L442.73,470.4 L443.26,470.4 L443.79,470.4 L444.31,470.4 L444.84,470.4 L445.37,470.4 L445.9,470.4 L446.43,470.4 L446.96,470.4 L447.49,470.4 L448.01,470.4 L448.54,470.4 L449.07,470.4 L449.6,470.4 L450.13,470.4 L450.66,470.4 L451.19,470.4 L451.71,470.4 L452.24,470.4 L452.77,470.4 L453.3,470.4M199.6,470.35 L200.13,470.35 L200.66,470.34 L201.19,470.34 L201.71,470.33 L202.24,470.33 L202.77,470.32 L203.3,470.31 L203.83,470.3 L204.36,470.3 L204.89,470.29 L205.41,470.28 L205.94,470.27 L206.47,470.26 L207,470.24 L207.53,470.23 L208.06,470.22 L208.59,470.2 L209.11,470.19 L209.64,470.17 L210.17,470.15 L210.7,470.13 L211.23,470.11 L211.76,470.08 L212.28,470.06 L212.81,470.03 L213.34,470 L213.87,469.97 L214.4,469.94 L214.93,469.91 L215.46,469.87 L215.98,469.83 L216.51,469.78 L217.04,469.74 L217.57,469.69 L218.1,469.64 L218.63,469.58 L219.16,469.52 L219.68,469.46 L220.21,469.39 L220.74,469.32 L221.27,469.24 L221.8,469.16 L222.33,469.08 L222.86,468.99 L223.38,468.89 L223.91,468.79 L224.44,468.68 L224.97,468.56 L225.5,468.44 L226.03,468.31 L226.56,468.18 L227.08,468.03 L227.61,467.88 L228.14,467.72 L228.67,467.55 L229.2,467.37 L229.73,467.18 L230.26,466.99 L230.78,466.78 L231.31,466.56 L231.84,466.33 L232.37,466.08 L232.9,465.83 L233.43,465.56 L233.96,465.28 L234.48,464.98 L235.01,464.67 L235.54,464.35 L236.07,464.01 L236.6,463.65 L237.13,463.28 L237.66,462.89 L238.18,462.48 L238.71,462.05 L239.24,461.61 L239.77,461.15 L240.3,460.66 L240.83,460.16 L241.35,459.64 L241.88,459.09 L242.41,458.52 L242.94,457.93 L243.47,457.32 L244,456.68 L244.53,456.02 L245.05,455.34 L245.58,454.63 L246.11,453.89 L246.64,453.13 L247.17,452.34 L247.7,451.52 L248.23,450.68 L248.75,449.81 L249.28,448.91 L249.81,447.98 L250.34,447.03 L250.87,446.04 L251.4,445.02 L251.93,443.98 L252.45,442.9 L252.98,441.8 L253.51,440.66 L254.04,439.49 L254.57,438.3 L255.1,437.07 L255.63,435.81 L256.15,434.52 L256.68,433.2 L257.21,431.86 L257.74,430.48 L258.27,429.07 L258.8,427.63 L259.33,426.17 L259.85,424.67 L260.38,423.15 L260.91,421.6 L261.44,420.02 L261.97,418.42 L262.5,416.79 L263.02,415.14 L263.55,413.46 L264.08,411.76 L264.61,410.04 L265.14,408.3 L265.67,406.54 L266.2,404.76 L266.72,402.96 L267.25,401.14 L267.78,399.31 L268.31,397.47 L268.84,395.61 L269.37,393.75 L269.9,391.87 L270.42,389.99 L270.95,388.1 L271.48,386.21 L272.01,384.31 L272.54,382.42 L273.07,380.52 L273.6,378.63 L274.12,376.74 L274.65,374.86 L275.18,372.99 L275.71,371.13 L276.24,369.28 L276.77,367.45 L277.3,365.63 L277.82,363.83 L278.35,362.05 L278.88,360.3 L279.41,358.57 L279.94,356.87 L280.47,355.19 L281,353.55 L281.52,351.94 L282.05,350.36 L282.58,348.83 L283.11,347.33 L283.64,345.87 L284.17,344.46 L284.7,343.08 L285.22,341.76 L285.75,340.49 L286.28,339.26 L286.81,338.08 L287.34,336.96 L287.87,335.9 L288.39,334.89 L288.92,333.93 L289.45,333.04 L289.98,332.21 L290.51,331.43 L291.04,330.72 L291.57,330.07 L292.09,329.49 L292.62,328.97 L293.15,328.52 L293.68,328.13 L294.21,327.82 L294.74,327.56 L295.27,327.38 L295.79,327.26 L296.32,327.22 L296.85,327.24 L297.38,327.33 L297.91,327.48 L298.44,327.71 L298.97,328 L299.49,328.36 L300.02,328.78 L300.55,329.28 L301.08,329.83 L301.61,330.46 L302.14,331.14 L302.67,331.89 L303.19,332.7 L303.72,333.57 L304.25,334.5 L304.78,335.49 L305.31,336.53 L305.84,337.63 L306.37,338.78 L306.89,339.99 L307.42,341.24 L307.95,342.55 L308.48,343.9 L309.01,345.3 L309.54,346.74 L310.07,348.22 L310.59,349.74 L311.12,351.3 L311.65,352.9 L312.18,354.53 L312.71,356.19 L313.24,357.88 L313.76,359.6 L314.29,361.35 L314.82,363.12 L315.35,364.91 L315.88,366.72 L316.41,368.54 L316.94,370.39 L317.46,372.24 L317.99,374.11 L318.52,375.99 L319.05,377.87 L319.58,379.76 L320.11,381.66 L320.64,383.55 L321.16,385.45 L321.69,387.34 L322.22,389.23 L322.75,391.12 L323.28,393 L323.81,394.87 L324.34,396.73 L324.86,398.58 L325.39,400.41 L325.92,402.23 L326.45,404.04 L326.98,405.83 L327.51,407.6 L328.04,409.35 L328.56,411.08 L329.09,412.79 L329.62,414.47 L330.15,416.13 L330.68,417.77 L331.21,419.39 L331.74,420.97 L332.26,422.53 L332.79,424.07 L333.32,425.57 L333.85,427.05 L334.38,428.5 L334.91,429.92 L335.44,431.31 L335.96,432.67 L336.49,434 L337.02,435.3 L337.55,436.57 L338.08,437.81 L338.61,439.02 L339.13,440.2 L339.66,441.34 L340.19,442.46 L340.72,443.55 L341.25,444.61 L341.78,445.64 L342.31,446.63 L342.83,447.6 L343.36,448.54 L343.89,449.45 L344.42,450.34 L344.95,451.19 L345.48,452.02 L346.01,452.82 L346.53,453.59 L347.06,454.34 L347.59,455.06 L348.12,455.75 L348.65,456.42 L349.18,457.07 L349.71,457.69 L350.23,458.29 L350.76,458.87 L351.29,459.42 L351.82,459.95 L352.35,460.47 L352.88,460.96 L353.41,461.43 L353.93,461.88 L354.46,462.31 L354.99,462.73 L355.52,463.12 L356.05,463.5 L356.58,463.86 L357.11,464.21 L357.63,464.54 L358.16,464.86 L358.69,465.16 L359.22,465.45 L359.75,465.72 L360.28,465.98 L360.81,466.23 L361.33,466.47 L361.86,466.69 L362.39,466.9 L362.92,467.11 L363.45,467.3 L363.98,467.48 L364.5,467.65 L365.03,467.82 L365.56,467.97 L366.09,468.12 L366.62,468.26 L367.15,468.39 L367.68,468.52 L368.2,468.63 L368.73,468.75 L369.26,468.85 L369.79,468.95 L370.32,469.04 L370.85,469.13 L371.38,469.21 L371.9,469.29 L372.43,469.36 L372.96,469.43 L373.49,469.5 L374.02,469.56 L374.55,469.62 L375.08,469.67 L375.6,469.72 L376.13,469.77 L376.66,469.81 L377.19,469.85 L377.72,469.89 L378.25,469.93 L378.78,469.96 L379.3,469.99 L379.83,470.02 L380.36,470.05 L380.89,470.07 L381.42,470.1 L381.95,470.12 L382.48,470.14 L383,470.16 L383.53,470.18 L384.06,470.2 L384.59,470.21 L385.12,470.23 L385.65,470.24 L386.18,470.25 L386.7,470.26 L387.23,470.27 L387.76,470.28 L388.29,470.29 L388.82,470.3 L389.35,470.31 L389.88,470.32 L390.4,470.32 L390.93,470.33 L391.46,470.34 L391.99,470.34 L392.52,470.35 L393.05,470.35 L393.57,470.35 L394.1,470.36 L394.63,470.36 L395.16,470.37 L395.69,470.37 L396.22,470.37 L396.75,470.37 L397.27,470.38 L397.8,470.38 L398.33,470.38 L398.86,470.38 L399.39,470.38 L399.92,470.38 L400.45,470.39 L400.97,470.39 L401.5,470.39 L402.03,470.39 L402.56,470.39 L403.09,470.39 L403.62,470.39 L404.15,470.39 L404.67,470.39 L405.2,470.39 L405.73,470.39 L406.26,470.4 L406.79,470.4 L407.32,470.4 L407.85,470.4 L408.37,470.4 L408.9,470.4 L409.43,470.4 L409.96,470.4 L410.49,470.4 L411.02,470.4 L411.55,470.4 L412.07,470.4 L412.6,470.4 L413.13,470.4 L413.66,470.4 L414.19,470.4 L414.72,470.4 L415.25,470.4 L415.77,470.4 L416.3,470.4 L416.83,470.4 L417.36,470.4 L417.89,470.4 L418.42,470.4 L418.94,470.4 L419.47,470.4 L420,470.4 L420.53,470.4 L421.06,470.4 L421.59,470.4 L422.12,470.4 L422.64,470.4 L423.17,470.4 L423.7,470.4 L424.23,470.4 L424.76,470.4 L425.29,470.4 L425.82,470.4 L426.34,470.4 L426.87,470.4 L427.4,470.4 L427.93,470.4 L428.46,470.4 L428.99,470.4 L429.52,470.4 L430.04,470.4 L430.57,470.4 L431.1,470.4 L431.63,470.4 L432.16,470.4 L432.69,470.4 L433.22,470.4 L433.74,470.4 L434.27,470.4 L434.8,470.4 L435.33,470.4 L435.86,470.4 L436.39,470.4 L436.92,470.4 L437.44,470.4 L437.97,470.4 L438.5,470.4 L439.03,470.4 L439.56,470.4 L440.09,470.4 L440.62,470.4 L441.14,470.4 L441.67,470.4 L442.2,470.4 L442.73,470.4 L443.26,470.4 L443.79,470.4 L444.31,470.4 L444.84,470.4 L445.37,470.4 L445.9,470.4 L446.43,470.4 L446.96,470.4 L447.49,470.4 L448.01,470.4 L448.54,470.4 L449.07,470.4 L449.6,470.4 L450.13,470.4 L450.66,470.4 L451.19,470.4 L451.71,470.4 L452.24,470.4 L452.77,470.4 L453.3,470.4M199.6,470.4 L200.13,470.4 L200.66,470.4 L201.19,470.4 L201.71,470.4 L202.24,470.4 L202.77,470.4 L203.3,470.4 L203.83,470.4 L204.36,470.4 L204.89,470.4 L205.41,470.4 L205.94,470.4 L206.47,470.4 L207,470.4 L207.53,470.4 L208.06,470.4 L208.59,470.4 L209.11,470.4 L209.64,470.4 L210.17,470.4 L210.7,470.4 L211.23,470.4 L211.76,470.4 L212.28,470.4 L212.81,470.4 L213.34,470.4 L213.87,470.4 L214.4,470.4 L214.93,470.4 L215.46,470.4 L215.98,470.4 L216.51,470.4 L217.04,470.4 L217.57,470.4 L218.1,470.4 L218.63,470.4 L219.16,470.4 L219.68,470.4 L220.21,470.4 L220.74,470.4 L221.27,470.4 L221.8,470.4 L222.33,470.4 L222.86,470.4 L223.38,470.4 L223.91,470.4 L224.44,470.4 L224.97,470.4 L225.5,470.4 L226.03,470.4 L226.56,470.4 L227.08,470.4 L227.61,470.4 L228.14,470.4 L228.67,470.4 L229.2,470.4 L229.73,470.4 L230.26,470.4 L230.78,470.4 L231.31,470.4 L231.84,470.4 L232.37,470.4 L232.9,470.4 L233.43,470.4 L233.96,470.4 L234.48,470.4 L235.01,470.4 L235.54,470.4 L236.07,470.4 L236.6,470.4 L237.13,470.4 L237.66,470.4 L238.18,470.4 L238.71,470.4 L239.24,470.4 L239.77,470.4 L240.3,470.4 L240.83,470.4 L241.35,470.4 L241.88,470.4 L242.41,470.4 L242.94,470.4 L243.47,470.4 L244,470.4 L244.53,470.4 L245.05,470.4 L245.58,470.4 L246.11,470.4 L246.64,470.4 L247.17,470.4 L247.7,470.4 L248.23,470.4 L248.75,470.4 L249.28,470.4 L249.81,470.4 L250.34,470.4 L250.87,470.4 L251.4,470.4 L251.93,470.4 L252.45,470.4 L252.98,470.4 L253.51,470.4 L254.04,470.4 L254.57,470.4 L255.1,470.4 L255.63,470.4 L256.15,470.4 L256.68,470.4 L257.21,470.4 L257.74,470.4 L258.27,470.4 L258.8,470.4 L259.33,470.4 L259.85,470.4 L260.38,470.4 L260.91,470.4 L261.44,470.4 L261.97,470.4 L262.5,470.4 L263.02,470.4 L263.55,470.4 L264.08,470.4 L264.61,470.4 L265.14,470.4 L265.67,470.4 L266.2,470.4 L266.72,470.4 L267.25,470.4 L267.78,470.4 L268.31,470.4 L268.84,470.4 L269.37,470.4 L269.9,470.4 L270.42,470.4 L270.95,470.4 L271.48,470.4 L272.01,470.4 L272.54,470.4 L273.07,470.4 L273.6,470.4 L274.12,470.4 L274.65,470.4 L275.18,470.4 L275.71,470.4 L276.24,470.4 L276.77,470.4 L277.3,470.4 L277.82,470.4 L278.35,470.4 L278.88,470.4 L279.41,470.4 L279.94,470.4 L280.47,470.4 L281,470.4 L281.52,470.4 L282.05,470.4 L282.58,470.4 L283.11,470.4 L283.64,470.4 L284.17,470.4 L284.7,470.4 L285.22,470.4 L285.75,470.4 L286.28,470.4 L286.81,470.4 L287.34,470.4 L287.87,470.4 L288.39,470.4 L288.92,470.4 L289.45,470.4 L289.98,470.4 L290.51,470.39 L291.04,470.39 L291.57,470.39 L292.09,470.38 L292.62,470.37 L293.15,470.36 L293.68,470.35 L294.21,470.34 L294.74,470.31 L295.27,470.29 L295.79,470.25 L296.32,470.21 L296.85,470.15 L297.38,470.08 L297.91,469.99 L298.44,469.89 L298.97,469.75 L299.49,469.6 L300.02,469.41 L300.55,469.18 L301.08,468.92 L301.61,468.61 L302.14,468.25 L302.67,467.84 L303.19,467.37 L303.72,466.85 L304.25,466.27 L304.78,465.62 L305.31,464.92 L305.84,464.15 L306.37,463.34 L306.89,462.48 L307.42,461.58 L307.95,460.64 L308.48,459.7 L309.01,458.74 L309.54,457.79 L310.07,456.87 L310.59,455.99 L311.12,455.16 L311.65,454.41 L312.18,453.74 L312.71,453.18 L313.24,452.72 L313.76,452.39 L314.29,452.19 L314.82,452.12 L315.35,452.19 L315.88,452.39 L316.41,452.72 L316.94,453.18 L317.46,453.74 L317.99,454.41 L318.52,455.16 L319.05,455.99 L319.58,456.87 L320.11,457.79 L320.64,458.74 L321.16,459.7 L321.69,460.64 L322.22,461.58 L322.75,462.48 L323.28,463.34 L323.81,464.15 L324.34,464.92 L324.86,465.62 L325.39,466.27 L325.92,466.85 L326.45,467.37 L326.98,467.84 L327.51,468.25 L328.04,468.61 L328.56,468.92 L329.09,469.18 L329.62,469.41 L330.15,469.6 L330.68,469.75 L331.21,469.89 L331.74,469.99 L332.26,470.08 L332.79,470.15 L333.32,470.21 L333.85,470.25 L334.38,470.29 L334.91,470.31 L335.44,470.34 L335.96,470.35 L336.49,470.36 L337.02,470.37 L337.55,470.38 L338.08,470.39 L338.61,470.39 L339.13,470.39 L339.66,470.4 L340.19,470.4 L340.72,470.4 L341.25,470.4 L341.78,470.4 L342.31,470.4 L342.83,470.4 L343.36,470.4 L343.89,470.4 L344.42,470.4 L344.95,470.4 L345.48,470.4 L346.01,470.4 L346.53,470.4 L347.06,470.4 L347.59,470.4 L348.12,470.4 L348.65,470.4 L349.18,470.4 L349.71,470.4 L350.23,470.4 L350.76,470.4 L351.29,470.4 L351.82,470.4 L352.35,470.4 L352.88,470.4 L353.41,470.4 L353.93,470.4 L354.46,470.4 L354.99,470.4 L355.52,470.4 L356.05,470.4 L356.58,470.4 L357.11,470.4 L357.63,470.4 L358.16,470.4 L358.69,470.4 L359.22,470.4 L359.75,470.4 L360.28,470.4 L360.81,470.4 L361.33,470.4 L361.86,470.4 L362.39,470.4 L362.92,470.4 L363.45,470.4 L363.98,470.4 L364.5,470.4 L365.03,470.4 L365.56,470.4 L366.09,470.4 L366.62,470.4 L367.15,470.4 L367.68,470.4 L368.2,470.4 L368.73,470.4 L369.26,470.4 L369.79,470.4 L370.32,470.4 L370.85,470.4 L371.38,470.4 L371.9,470.4 L372.43,470.4 L372.96,470.4 L373.49,470.4 L374.02,470.4 L374.55,470.4 L375.08,470.4 L375.6,470.4 L376.13,470.4 L376.66,470.4 L377.19,470.4 L377.72,470.4 L378.25,470.4 L378.78,470.4 L379.3,470.4 L379.83,470.4 L380.36,470.4 L380.89,470.4 L381.42,470.4 L381.95,470.4 L382.48,470.4 L383,470.4 L383.53,470.4 L384.06,470.4 L384.59,470.4 L385.12,470.4 L385.65,470.4 L386.18,470.4 L386.7,470.4 L387.23,470.4 L387.76,470.4 L388.29,470.4 L388.82,470.4 L389.35,470.4 L389.88,470.4 L390.4,470.4 L390.93,470.4 L391.46,470.4 L391.99,470.4 L392.52,470.4 L393.05,470.4 L393.57,470.4 L394.1,470.4 L394.63,470.4 L395.16,470.4 L395.69,470.4 L396.22,470.4 L396.75,470.4 L397.27,470.4 L397.8,470.4 L398.33,470.4 L398.86,470.4 L399.39,470.4 L399.92,470.4 L400.45,470.4 L400.97,470.4 L401.5,470.4 L402.03,470.4 L402.56,470.4 L403.09,470.4 L403.62,470.4 L404.15,470.4 L404.67,470.4 L405.2,470.4 L405.73,470.4 L406.26,470.4 L406.79,470.4 L407.32,470.4 L407.85,470.4 L408.37,470.4 L408.9,470.4 L409.43,470.4 L409.96,470.4 L410.49,470.4 L411.02,470.4 L411.55,470.4 L412.07,470.4 L412.6,470.4 L413.13,470.4 L413.66,470.4 L414.19,470.4 L414.72,470.4 L415.25,470.4 L415.77,470.4 L416.3,470.4 L416.83,470.4 L417.36,470.4 L417.89,470.4 L418.42,470.4 L418.94,470.4 L419.47,470.4 L420,470.4 L420.53,470.4 L421.06,470.4 L421.59,470.4 L422.12,470.4 L422.64,470.4 L423.17,470.4 L423.7,470.4 L424.23,470.4 L424.76,470.4 L425.29,470.4 L425.82,470.4 L426.34,470.4 L426.87,470.4 L427.4,470.4 L427.93,470.4 L428.46,470.4 L428.99,470.4 L429.52,470.4 L430.04,470.4 L430.57,470.4 L431.1,470.4 L431.63,470.4 L432.16,470.4 L432.69,470.4 L433.22,470.4 L433.74,470.4 L434.27,470.4 L434.8,470.4 L435.33,470.4 L435.86,470.4 L436.39,470.4 L436.92,470.4 L437.44,470.4 L437.97,470.4 L438.5,470.4 L439.03,470.4 L439.56,470.4 L440.09,470.4 L440.62,470.4 L441.14,470.4 L441.67,470.4 L442.2,470.4 L442.73,470.4 L443.26,470.4 L443.79,470.4 L444.31,470.4 L444.84,470.4 L445.37,470.4 L445.9,470.4 L446.43,470.4 L446.96,470.4 L447.49,470.4 L448.01,470.4 L448.54,470.4 L449.07,470.4 L449.6,470.4 L450.13,470.4 L450.66,470.4 L451.19,470.4 L451.71,470.4 L452.24,470.4 L452.77,470.4 L453.3,470.4M199.6,470.4 L200.13,470.4 L200.66,470.4 L201.19,470.4 L201.71,470.4 L202.24,470.4 L202.77,470.4 L203.3,470.4 L203.83,470.4 L204.36,470.4 L204.89,470.4 L205.41,470.4 L205.94,470.4 L206.47,470.4 L207,470.4 L207.53,470.4 L208.06,470.4 L208.59,470.4 L209.11,470.4 L209.64,470.4 L210.17,470.4 L210.7,470.4 L211.23,470.4 L211.76,470.4 L212.28,470.4 L212.81,470.4 L213.34,470.4 L213.87,470.4 L214.4,470.4 L214.93,470.4 L215.46,470.4 L215.98,470.4 L216.51,470.4 L217.04,470.4 L217.57,470.4 L218.1,470.4 L218.63,470.4 L219.16,470.4 L219.68,470.4 L220.21,470.4 L220.74,470.4 L221.27,470.4 L221.8,470.4 L222.33,470.4 L222.86,470.4 L223.38,470.4 L223.91,470.4 L224.44,470.4 L224.97,470.4 L225.5,470.4 L226.03,470.4 L226.56,470.4 L227.08,470.4 L227.61,470.4 L228.14,470.4 L228.67,470.4 L229.2,470.4 L229.73,470.4 L230.26,470.4 L230.78,470.4 L231.31,470.4 L231.84,470.4 L232.37,470.4 L232.9,470.4 L233.43,470.4 L233.96,470.4 L234.48,470.4 L235.01,470.4 L235.54,470.4 L236.07,470.4 L236.6,470.4 L237.13,470.4 L237.66,470.4 L238.18,470.4 L238.71,470.4 L239.24,470.4 L239.77,470.4 L240.3,470.4 L240.83,470.4 L241.35,470.4 L241.88,470.4 L242.41,470.4 L242.94,470.4 L243.47,470.4 L244,470.4 L244.53,470.4 L245.05,470.4 L245.58,470.4 L246.11,470.4 L246.64,470.4 L247.17,470.4 L247.7,470.4 L248.23,470.4 L248.75,470.4 L249.28,470.4 L249.81,470.4 L250.34,470.4 L250.87,470.4 L251.4,470.4 L251.93,470.4 L252.45,470.4 L252.98,470.4 L253.51,470.4 L254.04,470.4 L254.57,470.4 L255.1,470.4 L255.63,470.4 L256.15,470.4 L256.68,470.4 L257.21,470.4 L257.74,470.4 L258.27,470.4 L258.8,470.4 L259.33,470.4 L259.85,470.4 L260.38,470.4 L260.91,470.4 L261.44,470.4 L261.97,470.39 L262.5,470.39 L263.02,470.39 L263.55,470.39 L264.08,470.39 L264.61,470.39 L265.14,470.39 L265.67,470.39 L266.2,470.39 L266.72,470.39 L267.25,470.38 L267.78,470.38 L268.31,470.38 L268.84,470.38 L269.37,470.38 L269.9,470.37 L270.42,470.37 L270.95,470.37 L271.48,470.36 L272.01,470.36 L272.54,470.35 L273.07,470.35 L273.6,470.34 L274.12,470.34 L274.65,470.33 L275.18,470.32 L275.71,470.32 L276.24,470.31 L276.77,470.3 L277.3,470.29 L277.82,470.28 L278.35,470.26 L278.88,470.25 L279.41,470.24 L279.94,470.22 L280.47,470.2 L281,470.18 L281.52,470.16 L282.05,470.14 L282.58,470.12 L283.11,470.09 L283.64,470.06 L284.17,470.03 L284.7,470 L285.22,469.96 L285.75,469.92 L286.28,469.88 L286.81,469.83 L287.34,469.78 L287.87,469.73 L288.39,469.67 L288.92,469.61 L289.45,469.55 L289.98,469.48 L290.51,469.4 L291.04,469.32 L291.57,469.24 L292.09,469.14 L292.62,469.04 L293.15,468.94 L293.68,468.83 L294.21,468.7 L294.74,468.58 L295.27,468.44 L295.79,468.3 L296.32,468.14 L296.85,467.98 L297.38,467.8 L297.91,467.62 L298.44,467.43 L298.97,467.22 L299.49,467 L300.02,466.77 L300.55,466.53 L301.08,466.27 L301.61,466 L302.14,465.72 L302.67,465.42 L303.19,465.11 L303.72,464.78 L304.25,464.43 L304.78,464.07 L305.31,463.69 L305.84,463.29 L306.37,462.88 L306.89,462.44 L307.42,461.99 L307.95,461.52 L308.48,461.03 L309.01,460.52 L309.54,459.99 L310.07,459.43 L310.59,458.86 L311.12,458.27 L311.65,457.65 L312.18,457.02 L312.71,456.36 L313.24,455.68 L313.76,454.98 L314.29,454.25 L314.82,453.51 L315.35,452.74 L315.88,451.96 L316.41,451.15 L316.94,450.32 L317.46,449.47 L317.99,448.6 L318.52,447.71 L319.05,446.81 L319.58,445.88 L320.11,444.94 L320.64,443.98 L321.16,443 L321.69,442.01 L322.22,441 L322.75,439.98 L323.28,438.95 L323.81,437.9 L324.34,436.85 L324.86,435.79 L325.39,434.72 L325.92,433.64 L326.45,432.56 L326.98,431.47 L327.51,430.38 L328.04,429.3 L328.56,428.21 L329.09,427.13 L329.62,426.05 L330.15,424.98 L330.68,423.91 L331.21,422.86 L331.74,421.82 L332.26,420.79 L332.79,419.77 L333.32,418.78 L333.85,417.8 L334.38,416.84 L334.91,415.91 L335.44,414.99 L335.96,414.11 L336.49,413.25 L337.02,412.42 L337.55,411.63 L338.08,410.86 L338.61,410.13 L339.13,409.44 L339.66,408.78 L340.19,408.16 L340.72,407.58 L341.25,407.04 L341.78,406.54 L342.31,406.09 L342.83,405.68 L343.36,405.31 L343.89,404.99 L344.42,404.72 L344.95,404.49 L345.48,404.32 L346.01,404.18 L346.53,404.1 L347.06,404.07 L347.59,404.08 L348.12,404.15 L348.65,404.26 L349.18,404.42 L349.71,404.62 L350.23,404.88 L350.76,405.18 L351.29,405.53 L351.82,405.92 L352.35,406.35 L352.88,406.83 L353.41,407.36 L353.93,407.92 L354.46,408.52 L354.99,409.17 L355.52,409.85 L356.05,410.56 L356.58,411.32 L357.11,412.1 L357.63,412.92 L358.16,413.76 L358.69,414.64 L359.22,415.54 L359.75,416.46 L360.28,417.41 L360.81,418.38 L361.33,419.37 L361.86,420.38 L362.39,421.4 L362.92,422.44 L363.45,423.49 L363.98,424.55 L364.5,425.62 L365.03,426.7 L365.56,427.78 L366.09,428.86 L366.62,429.95 L367.15,431.04 L367.68,432.12 L368.2,433.21 L368.73,434.29 L369.26,435.36 L369.79,436.42 L370.32,437.48 L370.85,438.53 L371.38,439.57 L371.9,440.59 L372.43,441.61 L372.96,442.6 L373.49,443.59 L374.02,444.55 L374.55,445.5 L375.08,446.44 L375.6,447.35 L376.13,448.25 L376.66,449.13 L377.19,449.98 L377.72,450.82 L378.25,451.64 L378.78,452.43 L379.3,453.21 L379.83,453.96 L380.36,454.69 L380.89,455.4 L381.42,456.09 L381.95,456.76 L382.48,457.4 L383,458.02 L383.53,458.63 L384.06,459.21 L384.59,459.77 L385.12,460.31 L385.65,460.83 L386.18,461.33 L386.7,461.8 L387.23,462.26 L387.76,462.71 L388.29,463.13 L388.82,463.53 L389.35,463.92 L389.88,464.29 L390.4,464.64 L390.93,464.98 L391.46,465.3 L391.99,465.6 L392.52,465.89 L393.05,466.17 L393.57,466.43 L394.1,466.68 L394.63,466.91 L395.16,467.13 L395.69,467.34 L396.22,467.54 L396.75,467.73 L397.27,467.91 L397.8,468.08 L398.33,468.24 L398.86,468.38 L399.39,468.52 L399.92,468.65 L400.45,468.78 L400.97,468.89 L401.5,469 L402.03,469.1 L402.56,469.2 L403.09,469.29 L403.62,469.37 L404.15,469.45 L404.67,469.52 L405.2,469.59 L405.73,469.65 L406.26,469.71 L406.79,469.76 L407.32,469.81 L407.85,469.86 L408.37,469.9 L408.9,469.95 L409.43,469.98 L409.96,470.02 L410.49,470.05 L411.02,470.08 L411.55,470.11 L412.07,470.13 L412.6,470.15 L413.13,470.18 L413.66,470.2 L414.19,470.21 L414.72,470.23 L415.25,470.24 L415.77,470.26 L416.3,470.27 L416.83,470.28 L417.36,470.29 L417.89,470.3 L418.42,470.31 L418.94,470.32 L419.47,470.33 L420,470.34 L420.53,470.34 L421.06,470.35 L421.59,470.35 L422.12,470.36 L422.64,470.36 L423.17,470.37 L423.7,470.37 L424.23,470.37 L424.76,470.37 L425.29,470.38 L425.82,470.38 L426.34,470.38 L426.87,470.38 L427.4,470.39 L427.93,470.39 L428.46,470.39 L428.99,470.39 L429.52,470.39 L430.04,470.39 L430.57,470.39 L431.1,470.39 L431.63,470.39 L432.16,470.39 L432.69,470.4 L433.22,470.4 L433.74,470.4 L434.27,470.4 L434.8,470.4 L435.33,470.4 L435.86,470.4 L436.39,470.4 L436.92,470.4 L437.44,470.4 L437.97,470.4 L438.5,470.4 L439.03,470.4 L439.56,470.4 L440.09,470.4 L440.62,470.4 L441.14,470.4 L441.67,470.4 L442.2,470.4 L442.73,470.4 L443.26,470.4 L443.79,470.4 L444.31,470.4 L444.84,470.4 L445.37,470.4 L445.9,470.4 L446.43,470.4 L446.96,470.4 L447.49,470.4 L448.01,470.4 L448.54,470.4 L449.07,470.4 L449.6,470.4 L450.13,470.4 L450.66,470.4 L451.19,470.4 L451.71,470.4 L452.24,470.4 L452.77,470.4 L453.3,470.4M199.6,470.4 L200.13,470.4 L200.66,470.4 L201.19,470.4 L201.71,470.4 L202.24,470.4 L202.77,470.4 L203.3,470.4 L203.83,470.4 L204.36,470.4 L204.89,470.4 L205.41,470.4 L205.94,470.4 L206.47,470.4 L207,470.4 L207.53,470.4 L208.06,470.4 L208.59,470.4 L209.11,470.4 L209.64,470.4 L210.17,470.4 L210.7,470.4 L211.23,470.4 L211.76,470.4 L212.28,470.4 L212.81,470.4 L213.34,470.4 L213.87,470.4 L214.4,470.4 L214.93,470.4 L215.46,470.4 L215.98,470.4 L216.51,470.4 L217.04,470.4 L217.57,470.4 L218.1,470.4 L218.63,470.4 L219.16,470.4 L219.68,470.4 L220.21,470.4 L220.74,470.4 L221.27,470.4 L221.8,470.4 L222.33,470.4 L222.86,470.4 L223.38,470.4 L223.91,470.4 L224.44,470.4 L224.97,470.4 L225.5,470.4 L226.03,470.4 L226.56,470.4 L227.08,470.4 L227.61,470.4 L228.14,470.4 L228.67,470.4 L229.2,470.4 L229.73,470.4 L230.26,470.4 L230.78,470.4 L231.31,470.4 L231.84,470.4 L232.37,470.4 L232.9,470.4 L233.43,470.4 L233.96,470.4 L234.48,470.4 L235.01,470.4 L235.54,470.4 L236.07,470.4 L236.6,470.4 L237.13,470.4 L237.66,470.4 L238.18,470.4 L238.71,470.4 L239.24,470.4 L239.77,470.4 L240.3,470.4 L240.83,470.4 L241.35,470.4 L241.88,470.4 L242.41,470.4 L242.94,470.4 L243.47,470.4 L244,470.4 L244.53,470.4 L245.05,470.4 L245.58,470.4 L246.11,470.4 L246.64,470.4 L247.17,470.4 L247.7,470.4 L248.23,470.4 L248.75,470.4 L249.28,470.4 L249.81,470.4 L250.34,470.4 L250.87,470.4 L251.4,470.4 L251.93,470.4 L252.45,470.4 L252.98,470.4 L253.51,470.4 L254.04,470.4 L254.57,470.4 L255.1,470.4 L255.63,470.4 L256.15,470.4 L256.68,470.4 L257.21,470.4 L257.74,470.4 L258.27,470.4 L258.8,470.4 L259.33,470.4 L259.85,470.4 L260.38,470.4 L260.91,470.4 L261.44,470.4 L261.97,470.4 L262.5,470.4 L263.02,470.4 L263.55,470.4 L264.08,470.4 L264.61,470.4 L265.14,470.4 L265.67,470.4 L266.2,470.4 L266.72,470.4 L267.25,470.4 L267.78,470.4 L268.31,470.4 L268.84,470.4 L269.37,470.4 L269.9,470.4 L270.42,470.4 L270.95,470.4 L271.48,470.4 L272.01,470.4 L272.54,470.4 L273.07,470.4 L273.6,470.4 L274.12,470.4 L274.65,470.4 L275.18,470.4 L275.71,470.4 L276.24,470.4 L276.77,470.4 L277.3,470.4 L277.82,470.4 L278.35,470.4 L278.88,470.4 L279.41,470.4 L279.94,470.4 L280.47,470.4 L281,470.4 L281.52,470.4 L282.05,470.4 L282.58,470.4 L283.11,470.4 L283.64,470.4 L284.17,470.4 L284.7,470.4 L285.22,470.4 L285.75,470.4 L286.28,470.4 L286.81,470.4 L287.34,470.4 L287.87,470.4 L288.39,470.4 L288.92,470.4 L289.45,470.4 L289.98,470.4 L290.51,470.4 L291.04,470.4 L291.57,470.4 L292.09,470.4 L292.62,470.4 L293.15,470.4 L293.68,470.4 L294.21,470.4 L294.74,470.4 L295.27,470.4 L295.79,470.4 L296.32,470.4 L296.85,470.4 L297.38,470.4 L297.91,470.4 L298.44,470.4 L298.97,470.4 L299.49,470.4 L300.02,470.4 L300.55,470.4 L301.08,470.4 L301.61,470.4 L302.14,470.4 L302.67,470.4 L303.19,470.4 L303.72,470.4 L304.25,470.4 L304.78,470.4 L305.31,470.4 L305.84,470.4 L306.37,470.4 L306.89,470.4 L307.42,470.4 L307.95,470.4 L308.48,470.4 L309.01,470.4 L309.54,470.4 L310.07,470.4 L310.59,470.4 L311.12,470.4 L311.65,470.4 L312.18,470.4 L312.71,470.4 L313.24,470.4 L313.76,470.4 L314.29,470.4 L314.82,470.4 L315.35,470.4 L315.88,470.4 L316.41,470.4 L316.94,470.4 L317.46,470.4 L317.99,470.4 L318.52,470.4 L319.05,470.4 L319.58,470.4 L320.11,470.4 L320.64,470.4 L321.16,470.4 L321.69,470.4 L322.22,470.4 L322.75,470.4 L323.28,470.4 L323.81,470.4 L324.34,470.4 L324.86,470.4 L325.39,470.4 L325.92,470.4 L326.45,470.4 L326.98,470.4 L327.51,470.4 L328.04,470.4 L328.56,470.4 L329.09,470.4 L329.62,470.4 L330.15,470.4 L330.68,470.4 L331.21,470.4 L331.74,470.4 L332.26,470.4 L332.79,470.4 L333.32,470.4 L333.85,470.4 L334.38,470.4 L334.91,470.4 L335.44,470.4 L335.96,470.4 L336.49,470.4 L337.02,470.4 L337.55,470.4 L338.08,470.4 L338.61,470.4 L339.13,470.4 L339.66,470.4 L340.19,470.4 L340.72,470.39 L341.25,470.39 L341.78,470.39 L342.31,470.39 L342.83,470.39 L343.36,470.39 L343.89,470.38 L344.42,470.38 L344.95,470.38 L345.48,470.37 L346.01,470.37 L346.53,470.36 L347.06,470.36 L347.59,470.35 L348.12,470.34 L348.65,470.33 L349.18,470.32 L349.71,470.31 L350.23,470.3 L350.76,470.28 L351.29,470.26 L351.82,470.24 L352.35,470.22 L352.88,470.2 L353.41,470.17 L353.93,470.14 L354.46,470.1 L354.99,470.06 L355.52,470.02 L356.05,469.97 L356.58,469.91 L357.11,469.85 L357.63,469.78 L358.16,469.71 L358.69,469.63 L359.22,469.54 L359.75,469.44 L360.28,469.33 L360.81,469.21 L361.33,469.08 L361.86,468.94 L362.39,468.79 L362.92,468.63 L363.45,468.45 L363.98,468.26 L364.5,468.06 L365.03,467.84 L365.56,467.6 L366.09,467.35 L366.62,467.09 L367.15,466.8 L367.68,466.51 L368.2,466.19 L368.73,465.86 L369.26,465.51 L369.79,465.14 L370.32,464.75 L370.85,464.35 L371.38,463.93 L371.9,463.5 L372.43,463.05 L372.96,462.59 L373.49,462.11 L374.02,461.63 L374.55,461.13 L375.08,460.62 L375.6,460.1 L376.13,459.57 L376.66,459.04 L377.19,458.51 L377.72,457.97 L378.25,457.44 L378.78,456.91 L379.3,456.38 L379.83,455.86 L380.36,455.35 L380.89,454.85 L381.42,454.36 L381.95,453.89 L382.48,453.44 L383,453 L383.53,452.59 L384.06,452.21 L384.59,451.85 L385.12,451.52 L385.65,451.22 L386.18,450.96 L386.7,450.73 L387.23,450.53 L387.76,450.37 L388.29,450.24 L388.82,450.15 L389.35,450.1 L389.88,450.09 L390.4,450.12 L390.93,450.18 L391.46,450.29 L391.99,450.43 L392.52,450.6 L393.05,450.81 L393.57,451.06 L394.1,451.34 L394.63,451.65 L395.16,451.99 L395.69,452.36 L396.22,452.76 L396.75,453.17 L397.27,453.61 L397.8,454.07 L398.33,454.55 L398.86,455.04 L399.39,455.55 L399.92,456.07 L400.45,456.59 L400.97,457.12 L401.5,457.65 L402.03,458.19 L402.56,458.72 L403.09,459.26 L403.62,459.78 L404.15,460.31 L404.67,460.82 L405.2,461.33 L405.73,461.82 L406.26,462.31 L406.79,462.78 L407.32,463.23 L407.85,463.68 L408.37,464.1 L408.9,464.51 L409.43,464.91 L409.96,465.29 L410.49,465.65 L411.02,465.99 L411.55,466.32 L412.07,466.63 L412.6,466.92 L413.13,467.2 L413.66,467.46 L414.19,467.7 L414.72,467.93 L415.25,468.14 L415.77,468.34 L416.3,468.52 L416.83,468.7 L417.36,468.85 L417.89,469 L418.42,469.14 L418.94,469.26 L419.47,469.37 L420,469.48 L420.53,469.57 L421.06,469.66 L421.59,469.74 L422.12,469.81 L422.64,469.88 L423.17,469.93 L423.7,469.99 L424.23,470.03 L424.76,470.08 L425.29,470.12 L425.82,470.15 L426.34,470.18 L426.87,470.21 L427.4,470.23 L427.93,470.25 L428.46,470.27 L428.99,470.29 L429.52,470.3 L430.04,470.32 L430.57,470.33 L431.1,470.34 L431.63,470.35 L432.16,470.35 L432.69,470.36 L433.22,470.37 L433.74,470.37 L434.27,470.38 L434.8,470.38 L435.33,470.38 L435.86,470.38 L436.39,470.39 L436.92,470.39 L437.44,470.39 L437.97,470.39 L438.5,470.39 L439.03,470.39 L439.56,470.4 L440.09,470.4 L440.62,470.4 L441.14,470.4 L441.67,470.4 L442.2,470.4 L442.73,470.4 L443.26,470.4 L443.79,470.4 L444.31,470.4 L444.84,470.4 L445.37,470.4 L445.9,470.4 L446.43,470.4 L446.96,470.4 L447.49,470.4 L448.01,470.4 L448.54,470.4 L449.07,470.4 L449.6,470.4 L450.13,470.4 L450.66,470.4 L451.19,470.4 L451.71,470.4 L452.24,470.4 L452.77,470.4 L453.3,470.4" fill="none" stroke="#3636ff" stroke-width="1.1"/>
<g fill="#fff" stroke="#2a2a2a" stroke-width="0.7"><circle cx="199.6" cy="469.8" r="2.7"/><circle cx="200.87" cy="463.97" r="2.7"/><circle cx="202.14" cy="461.01" r="2.7"/><circle cx="203.41" cy="457.65" r="2.7"/><circle cx="204.67" cy="453.42" r="2.7"/><circle cx="205.94" cy="449.03" r="2.7"/><circle cx="207.21" cy="443.96" r="2.7"/><circle cx="208.48" cy="438.83" r="2.7"/><circle cx="209.75" cy="432.96" r="2.7"/><circle cx="211.02" cy="427.09" r="2.7"/><circle cx="212.28" cy="421.96" r="2.7"/><circle cx="213.55" cy="416.89" r="2.7"/><circle cx="214.82" cy="413.4" r="2.7"/><circle cx="216.09" cy="410.29" r="2.7"/><circle cx="217.36" cy="407.98" r="2.7"/><circle cx="218.63" cy="406.49" r="2.7"/><circle cx="219.9" cy="405.03" r="2.7"/><circle cx="221.16" cy="403.88" r="2.7"/><circle cx="222.43" cy="402.73" r="2.7"/><circle cx="223.7" cy="401.14" r="2.7"/><circle cx="224.97" cy="399.38" r="2.7"/><circle cx="226.24" cy="397.42" r="2.7"/><circle cx="227.51" cy="394.78" r="2.7"/><circle cx="228.78" cy="392.14" r="2.7"/><circle cx="230.04" cy="389.27" r="2.7"/><circle cx="231.31" cy="386.17" r="2.7"/><circle cx="232.58" cy="382.05" r="2.7"/><circle cx="233.85" cy="375.56" r="2.7"/><circle cx="235.12" cy="369.4" r="2.7"/><circle cx="236.39" cy="363.23" r="2.7"/><circle cx="237.65" cy="357.02" r="2.7"/><circle cx="238.92" cy="351.91" r="2.7"/><circle cx="240.19" cy="347.15" r="2.7"/><circle cx="241.46" cy="342.58" r="2.7"/><circle cx="242.73" cy="337.9" r="2.7"/><circle cx="244" cy="333.6" r="2.7"/><circle cx="245.27" cy="329.61" r="2.7"/><circle cx="246.53" cy="326.17" r="2.7"/><circle cx="247.8" cy="322.69" r="2.7"/><circle cx="249.07" cy="318.84" r="2.7"/><circle cx="250.34" cy="314.7" r="2.7"/><circle cx="251.61" cy="311.49" r="2.7"/><circle cx="252.88" cy="308.79" r="2.7"/><circle cx="254.15" cy="306.64" r="2.7"/><circle cx="255.41" cy="305.11" r="2.7"/><circle cx="256.68" cy="303.93" r="2.7"/><circle cx="257.95" cy="303.04" r="2.7"/><circle cx="259.22" cy="302.64" r="2.7"/><circle cx="260.49" cy="302.41" r="2.7"/><circle cx="261.76" cy="302.42" r="2.7"/><circle cx="263.02" cy="302.64" r="2.7"/><circle cx="264.29" cy="302.99" r="2.7"/><circle cx="265.56" cy="303.6" r="2.7"/><circle cx="266.83" cy="304.23" r="2.7"/><circle cx="268.1" cy="305.27" r="2.7"/><circle cx="269.37" cy="306.31" r="2.7"/><circle cx="270.64" cy="307.46" r="2.7"/><circle cx="271.9" cy="308.64" r="2.7"/><circle cx="273.17" cy="309.76" r="2.7"/><circle cx="274.44" cy="310.85" r="2.7"/><circle cx="275.71" cy="311.92" r="2.7"/><circle cx="276.98" cy="312.96" r="2.7"/><circle cx="278.25" cy="313.9" r="2.7"/><circle cx="279.52" cy="314.41" r="2.7"/><circle cx="280.78" cy="314.91" r="2.7"/><circle cx="282.05" cy="315.31" r="2.7"/><circle cx="283.32" cy="315.69" r="2.7"/><circle cx="284.59" cy="316.07" r="2.7"/><circle cx="285.86" cy="316.42" r="2.7"/><circle cx="287.13" cy="316.58" r="2.7"/><circle cx="288.39" cy="316.74" r="2.7"/><circle cx="289.66" cy="316.91" r="2.7"/><circle cx="290.93" cy="317.06" r="2.7"/><circle cx="292.2" cy="317.19" r="2.7"/><circle cx="293.47" cy="317.33" r="2.7"/><circle cx="294.74" cy="317.46" r="2.7"/><circle cx="296.01" cy="317.73" r="2.7"/><circle cx="297.27" cy="318.06" r="2.7"/><circle cx="298.54" cy="318.38" r="2.7"/><circle cx="299.81" cy="318.7" r="2.7"/><circle cx="301.08" cy="319.03" r="2.7"/><circle cx="302.35" cy="319.35" r="2.7"/><circle cx="303.62" cy="319.67" r="2.7"/><circle cx="304.89" cy="319.95" r="2.7"/><circle cx="306.15" cy="320.11" r="2.7"/><circle cx="307.42" cy="320.27" r="2.7"/><circle cx="308.69" cy="320.44" r="2.7"/><circle cx="309.96" cy="320.95" r="2.7"/><circle cx="311.23" cy="321.69" r="2.7"/><circle cx="312.5" cy="322.92" r="2.7"/><circle cx="313.76" cy="325.24" r="2.7"/><circle cx="315.03" cy="327.59" r="2.7"/><circle cx="316.3" cy="331.06" r="2.7"/><circle cx="317.57" cy="334.53" r="2.7"/><circle cx="318.84" cy="338.07" r="2.7"/><circle cx="320.11" cy="341.66" r="2.7"/><circle cx="321.38" cy="345.55" r="2.7"/><circle cx="322.64" cy="349.95" r="2.7"/><circle cx="323.91" cy="354.21" r="2.7"/><circle cx="325.18" cy="357.77" r="2.7"/><circle cx="326.45" cy="361" r="2.7"/><circle cx="327.72" cy="364.04" r="2.7"/><circle cx="328.99" cy="366.57" r="2.7"/><circle cx="330.26" cy="368.93" r="2.7"/><circle cx="331.52" cy="370.59" r="2.7"/><circle cx="332.79" cy="372.25" r="2.7"/><circle cx="334.06" cy="373.86" r="2.7"/><circle cx="335.33" cy="375.13" r="2.7"/><circle cx="336.6" cy="376.4" r="2.7"/><circle cx="337.87" cy="377.66" r="2.7"/><circle cx="339.13" cy="378.8" r="2.7"/><circle cx="340.4" cy="379.94" r="2.7"/><circle cx="341.67" cy="381.07" r="2.7"/><circle cx="342.94" cy="382.34" r="2.7"/><circle cx="344.21" cy="383.61" r="2.7"/><circle cx="345.48" cy="384.88" r="2.7"/><circle cx="346.75" cy="386.68" r="2.7"/><circle cx="348.01" cy="388.55" r="2.7"/><circle cx="349.28" cy="390.69" r="2.7"/><circle cx="350.55" cy="393.28" r="2.7"/><circle cx="351.82" cy="395.87" r="2.7"/><circle cx="353.09" cy="398.46" r="2.7"/><circle cx="354.36" cy="400.73" r="2.7"/><circle cx="355.63" cy="402.89" r="2.7"/><circle cx="356.89" cy="405.25" r="2.7"/><circle cx="358.16" cy="407.73" r="2.7"/><circle cx="359.43" cy="410.38" r="2.7"/><circle cx="360.7" cy="413.2" r="2.7"/><circle cx="361.97" cy="416.26" r="2.7"/><circle cx="363.24" cy="418.81" r="2.7"/><circle cx="364.5" cy="421.09" r="2.7"/><circle cx="365.77" cy="423.19" r="2.7"/><circle cx="367.04" cy="424.87" r="2.7"/><circle cx="368.31" cy="426.55" r="2.7"/><circle cx="369.58" cy="428.08" r="2.7"/><circle cx="370.85" cy="429.35" r="2.7"/><circle cx="372.12" cy="430.62" r="2.7"/><circle cx="373.38" cy="431.86" r="2.7"/><circle cx="374.65" cy="432.79" r="2.7"/><circle cx="375.92" cy="433.73" r="2.7"/><circle cx="377.19" cy="434.66" r="2.7"/><circle cx="378.46" cy="435.57" r="2.7"/><circle cx="379.73" cy="436.39" r="2.7"/><circle cx="381" cy="437.21" r="2.7"/><circle cx="382.26" cy="438.02" r="2.7"/><circle cx="383.53" cy="438.77" r="2.7"/><circle cx="384.8" cy="439.4" r="2.7"/><circle cx="386.07" cy="440.03" r="2.7"/><circle cx="387.34" cy="440.67" r="2.7"/><circle cx="388.61" cy="441.46" r="2.7"/><circle cx="389.87" cy="442.35" r="2.7"/><circle cx="391.14" cy="443.23" r="2.7"/><circle cx="392.41" cy="444.17" r="2.7"/><circle cx="393.68" cy="445.25" r="2.7"/><circle cx="394.95" cy="446.34" r="2.7"/><circle cx="396.22" cy="447.43" r="2.7"/><circle cx="397.49" cy="448.85" r="2.7"/><circle cx="398.75" cy="450.3" r="2.7"/><circle cx="400.02" cy="451.74" r="2.7"/><circle cx="401.29" cy="453.29" r="2.7"/><circle cx="402.56" cy="454.92" r="2.7"/><circle cx="403.83" cy="456.55" r="2.7"/><circle cx="405.1" cy="458.19" r="2.7"/><circle cx="406.37" cy="459.85" r="2.7"/><circle cx="407.63" cy="461.51" r="2.7"/><circle cx="408.9" cy="463.17" r="2.7"/><circle cx="410.17" cy="464.12" r="2.7"/><circle cx="411.44" cy="465" r="2.7"/><circle cx="412.71" cy="465.89" r="2.7"/><circle cx="413.98" cy="466.57" r="2.7"/><circle cx="415.24" cy="467.07" r="2.7"/><circle cx="416.51" cy="467.57" r="2.7"/><circle cx="417.78" cy="468.07" r="2.7"/><circle cx="419.05" cy="468.32" r="2.7"/><circle cx="420.32" cy="468.49" r="2.7"/><circle cx="421.59" cy="468.66" r="2.7"/><circle cx="422.86" cy="468.82" r="2.7"/><circle cx="424.12" cy="468.99" r="2.7"/><circle cx="425.39" cy="469.06" r="2.7"/><circle cx="426.66" cy="469.13" r="2.7"/><circle cx="427.93" cy="469.19" r="2.7"/><circle cx="429.2" cy="469.26" r="2.7"/><circle cx="430.47" cy="469.3" r="2.7"/><circle cx="431.74" cy="469.31" r="2.7"/><circle cx="433" cy="469.31" r="2.7"/><circle cx="434.27" cy="469.32" r="2.7"/><circle cx="435.54" cy="469.32" r="2.7"/><circle cx="436.81" cy="469.33" r="2.7"/><circle cx="438.08" cy="469.33" r="2.7"/><circle cx="439.35" cy="469.34" r="2.7"/><circle cx="440.61" cy="469.35" r="2.7"/><circle cx="441.88" cy="469.35" r="2.7"/><circle cx="443.15" cy="469.36" r="2.7"/><circle cx="444.42" cy="469.36" r="2.7"/><circle cx="445.69" cy="469.37" r="2.7"/><circle cx="446.96" cy="469.37" r="2.7"/><circle cx="448.23" cy="469.38" r="2.7"/><circle cx="449.49" cy="469.38" r="2.7"/><circle cx="450.76" cy="469.39" r="2.7"/><circle cx="452.03" cy="469.39" r="2.7"/><circle cx="453.3" cy="469.4" r="2.7"/></g>
<g fill="#dde6e6" fill-opacity="0.7"><circle cx="199.6" cy="469.8" r="2.1"/><circle cx="200.87" cy="463.97" r="2.1"/><circle cx="202.14" cy="461.01" r="2.1"/><circle cx="203.41" cy="457.65" r="2.1"/><circle cx="204.67" cy="453.42" r="2.1"/><circle cx="205.94" cy="449.03" r="2.1"/><circle cx="207.21" cy="443.96" r="2.1"/><circle cx="208.48" cy="438.83" r="2.1"/><circle cx="209.75" cy="432.96" r="2.1"/><circle cx="211.02" cy="427.09" r="2.1"/><circle cx="212.28" cy="421.96" r="2.1"/><circle cx="213.55" cy="416.89" r="2.1"/><circle cx="214.82" cy="413.4" r="2.1"/><circle cx="216.09" cy="410.29" r="2.1"/><circle cx="217.36" cy="407.98" r="2.1"/><circle cx="218.63" cy="406.49" r="2.1"/><circle cx="219.9" cy="405.03" r="2.1"/><circle cx="221.16" cy="403.88" r="2.1"/><circle cx="222.43" cy="402.73" r="2.1"/><circle cx="223.7" cy="401.14" r="2.1"/><circle cx="224.97" cy="399.38" r="2.1"/><circle cx="226.24" cy="397.42" r="2.1"/><circle cx="227.51" cy="394.78" r="2.1"/><circle cx="228.78" cy="392.14" r="2.1"/><circle cx="230.04" cy="389.27" r="2.1"/><circle cx="231.31" cy="386.17" r="2.1"/><circle cx="232.58" cy="382.05" r="2.1"/><circle cx="233.85" cy="375.56" r="2.1"/><circle cx="235.12" cy="369.4" r="2.1"/><circle cx="236.39" cy="363.23" r="2.1"/><circle cx="237.65" cy="357.02" r="2.1"/><circle cx="238.92" cy="351.91" r="2.1"/><circle cx="240.19" cy="347.15" r="2.1"/><circle cx="241.46" cy="342.58" r="2.1"/><circle cx="242.73" cy="337.9" r="2.1"/><circle cx="244" cy="333.6" r="2.1"/><circle cx="245.27" cy="329.61" r="2.1"/><circle cx="246.53" cy="326.17" r="2.1"/><circle cx="247.8" cy="322.69" r="2.1"/><circle cx="249.07" cy="318.84" r="2.1"/><circle cx="250.34" cy="314.7" r="2.1"/><circle cx="251.61" cy="311.49" r="2.1"/><circle cx="252.88" cy="308.79" r="2.1"/><circle cx="254.15" cy="306.64" r="2.1"/><circle cx="255.41" cy="305.11" r="2.1"/><circle cx="256.68" cy="303.93" r="2.1"/><circle cx="257.95" cy="303.04" r="2.1"/><circle cx="259.22" cy="302.64" r="2.1"/><circle cx="260.49" cy="302.41" r="2.1"/><circle cx="261.76" cy="302.42" r="2.1"/><circle cx="263.02" cy="302.64" r="2.1"/><circle cx="264.29" cy="302.99" r="2.1"/><circle cx="265.56" cy="303.6" r="2.1"/><circle cx="266.83" cy="304.23" r="2.1"/><circle cx="268.1" cy="305.27" r="2.1"/><circle cx="269.37" cy="306.31" r="2.1"/><circle cx="270.64" cy="307.46" r="2.1"/><circle cx="271.9" cy="308.64" r="2.1"/><circle cx="273.17" cy="309.76" r="2.1"/><circle cx="274.44" cy="310.85" r="2.1"/><circle cx="275.71" cy="311.92" r="2.1"/><circle cx="276.98" cy="312.96" r="2.1"/><circle cx="278.25" cy="313.9" r="2.1"/><circle cx="279.52" cy="314.41" r="2.1"/><circle cx="280.78" cy="314.91" r="2.1"/><circle cx="282.05" cy="315.31" r="2.1"/><circle cx="283.32" cy="315.69" r="2.1"/><circle cx="284.59" cy="316.07" r="2.1"/><circle cx="285.86" cy="316.42" r="2.1"/><circle cx="287.13" cy="316.58" r="2.1"/><circle cx="288.39" cy="316.74" r="2.1"/><circle cx="289.66" cy="316.91" r="2.1"/><circle cx="290.93" cy="317.06" r="2.1"/><circle cx="292.2" cy="317.19" r="2.1"/><circle cx="293.47" cy="317.33" r="2.1"/><circle cx="294.74" cy="317.46" r="2.1"/><circle cx="296.01" cy="317.73" r="2.1"/><circle cx="297.27" cy="318.06" r="2.1"/><circle cx="298.54" cy="318.38" r="2.1"/><circle cx="299.81" cy="318.7" r="2.1"/><circle cx="301.08" cy="319.03" r="2.1"/><circle cx="302.35" cy="319.35" r="2.1"/><circle cx="303.62" cy="319.67" r="2.1"/><circle cx="304.89" cy="319.95" r="2.1"/><circle cx="306.15" cy="320.11" r="2.1"/><circle cx="307.42" cy="320.27" r="2.1"/><circle cx="308.69" cy="320.44" r="2.1"/><circle cx="309.96" cy="320.95" r="2.1"/><circle cx="311.23" cy="321.69" r="2.1"/><circle cx="312.5" cy="322.92" r="2.1"/><circle cx="313.76" cy="325.24" r="2.1"/><circle cx="315.03" cy="327.59" r="2.1"/><circle cx="316.3" cy="331.06" r="2.1"/><circle cx="317.57" cy="334.53" r="2.1"/><circle cx="318.84" cy="338.07" r="2.1"/><circle cx="320.11" cy="341.66" r="2.1"/><circle cx="321.38" cy="345.55" r="2.1"/><circle cx="322.64" cy="349.95" r="2.1"/><circle cx="323.91" cy="354.21" r="2.1"/><circle cx="325.18" cy="357.77" r="2.1"/><circle cx="326.45" cy="361" r="2.1"/><circle cx="327.72" cy="364.04" r="2.1"/><circle cx="328.99" cy="366.57" r="2.1"/><circle cx="330.26" cy="368.93" r="2.1"/><circle cx="331.52" cy="370.59" r="2.1"/><circle cx="332.79" cy="372.25" r="2.1"/><circle cx="334.06" cy="373.86" r="2.1"/><circle cx="335.33" cy="375.13" r="2.1"/><circle cx="336.6" cy="376.4" r="2.1"/><circle cx="337.87" cy="377.66" r="2.1"/><circle cx="339.13" cy="378.8" r="2.1"/><circle cx="340.4" cy="379.94" r="2.1"/><circle cx="341.67" cy="381.07" r="2.1"/><circle cx="342.94" cy="382.34" r="2.1"/><circle cx="344.21" cy="383.61" r="2.1"/><circle cx="345.48" cy="384.88" r="2.1"/><circle cx="346.75" cy="386.68" r="2.1"/><circle cx="348.01" cy="388.55" r="2.1"/><circle cx="349.28" cy="390.69" r="2.1"/><circle cx="350.55" cy="393.28" r="2.1"/><circle cx="351.82" cy="395.87" r="2.1"/><circle cx="353.09" cy="398.46" r="2.1"/><circle cx="354.36" cy="400.73" r="2.1"/><circle cx="355.63" cy="402.89" r="2.1"/><circle cx="356.89" cy="405.25" r="2.1"/><circle cx="358.16" cy="407.73" r="2.1"/><circle cx="359.43" cy="410.38" r="2.1"/><circle cx="360.7" cy="413.2" r="2.1"/><circle cx="361.97" cy="416.26" r="2.1"/><circle cx="363.24" cy="418.81" r="2.1"/><circle cx="364.5" cy="421.09" r="2.1"/><circle cx="365.77" cy="423.19" r="2.1"/><circle cx="367.04" cy="424.87" r="2.1"/><circle cx="368.31" cy="426.55" r="2.1"/><circle cx="369.58" cy="428.08" r="2.1"/><circle cx="370.85" cy="429.35" r="2.1"/><circle cx="372.12" cy="430.62" r="2.1"/><circle cx="373.38" cy="431.86" r="2.1"/><circle cx="374.65" cy="432.79" r="2.1"/><circle cx="375.92" cy="433.73" r="2.1"/><circle cx="377.19" cy="434.66" r="2.1"/><circle cx="378.46" cy="435.57" r="2.1"/><circle cx="379.73" cy="436.39" r="2.1"/><circle cx="381" cy="437.21" r="2.1"/><circle cx="382.26" cy="438.02" r="2.1"/><circle cx="383.53" cy="438.77" r="2.1"/><circle cx="384.8" cy="439.4" r="2.1"/><circle cx="386.07" cy="440.03" r="2.1"/><circle cx="387.34" cy="440.67" r="2.1"/><circle cx="388.61" cy="441.46" r="2.1"/><circle cx="389.87" cy="442.35" r="2.1"/><circle cx="391.14" cy="443.23" r="2.1"/><circle cx="392.41" cy="444.17" r="2.1"/><circle cx="393.68" cy="445.25" r="2.1"/><circle cx="394.95" cy="446.34" r="2.1"/><circle cx="396.22" cy="447.43" r="2.1"/><circle cx="397.49" cy="448.85" r="2.1"/><circle cx="398.75" cy="450.3" r="2.1"/><circle cx="400.02" cy="451.74" r="2.1"/><circle cx="401.29" cy="453.29" r="2.1"/><circle cx="402.56" cy="454.92" r="2.1"/><circle cx="403.83" cy="456.55" r="2.1"/><circle cx="405.1" cy="458.19" r="2.1"/><circle cx="406.37" cy="459.85" r="2.1"/><circle cx="407.63" cy="461.51" r="2.1"/><circle cx="408.9" cy="463.17" r="2.1"/><circle cx="410.17" cy="464.12" r="2.1"/><circle cx="411.44" cy="465" r="2.1"/><circle cx="412.71" cy="465.89" r="2.1"/><circle cx="413.98" cy="466.57" r="2.1"/><circle cx="415.24" cy="467.07" r="2.1"/><circle cx="416.51" cy="467.57" r="2.1"/><circle cx="417.78" cy="468.07" r="2.1"/><circle cx="419.05" cy="468.32" r="2.1"/><circle cx="420.32" cy="468.49" r="2.1"/><circle cx="421.59" cy="468.66" r="2.1"/><circle cx="422.86" cy="468.82" r="2.1"/><circle cx="424.12" cy="468.99" r="2.1"/><circle cx="425.39" cy="469.06" r="2.1"/><circle cx="426.66" cy="469.13" r="2.1"/><circle cx="427.93" cy="469.19" r="2.1"/><circle cx="429.2" cy="469.26" r="2.1"/><circle cx="430.47" cy="469.3" r="2.1"/><circle cx="431.74" cy="469.31" r="2.1"/><circle cx="433" cy="469.31" r="2.1"/><circle cx="434.27" cy="469.32" r="2.1"/><circle cx="435.54" cy="469.32" r="2.1"/><circle cx="436.81" cy="469.33" r="2.1"/><circle cx="438.08" cy="469.33" r="2.1"/><circle cx="439.35" cy="469.34" r="2.1"/><circle cx="440.61" cy="469.35" r="2.1"/><circle cx="441.88" cy="469.35" r="2.1"/><circle cx="443.15" cy="469.36" r="2.1"/><circle cx="444.42" cy="469.36" r="2.1"/><circle cx="445.69" cy="469.37" r="2.1"/><circle cx="446.96" cy="469.37" r="2.1"/><circle cx="448.23" cy="469.38" r="2.1"/><circle cx="449.49" cy="469.38" r="2.1"/><circle cx="450.76" cy="469.39" r="2.1"/><circle cx="452.03" cy="469.39" r="2.1"/><circle cx="453.3" cy="469.4" r="2.1"/></g>
<path d="M199.6,469.8C200.1,469.05 201.65,467.1 202.6,465.3C203.55,463.5 204.4,461.55 205.3,459C206.2,456.45 207.1,453.3 208,450C208.9,446.7 209.8,443.08 210.7,439.2C211.6,435.32 212.5,430.58 213.4,426.7C214.3,422.82 215.22,418.9 216.1,415.9C216.98,412.9 217.82,410.5 218.7,408.7C219.58,406.9 220.5,406.15 221.4,405.1C222.3,404.05 223.2,403.58 224.1,402.4C225,401.22 225.9,399.93 226.8,398C227.7,396.07 228.6,393.13 229.5,390.8C230.4,388.47 231.47,386.58 232.2,384C232.93,381.42 233.3,378.28 233.9,375.3C234.5,372.32 235.17,369.18 235.8,366.1C236.43,363.02 237.1,359.48 237.7,356.8C238.3,354.12 238.78,352.33 239.4,350C240.02,347.67 240.75,345.17 241.4,342.8C242.05,340.43 242.65,338.02 243.3,335.8C243.95,333.58 244.58,331.58 245.3,329.5C246.02,327.42 247,324.98 247.6,323.3C248.2,321.62 248.45,320.82 248.9,319.4C249.35,317.98 249.82,316.2 250.3,314.8C250.78,313.4 251.25,312.25 251.8,311C252.35,309.75 252.9,308.4 253.6,307.3C254.3,306.2 255.22,305.15 256,304.4C256.78,303.65 257.45,303.15 258.3,302.8C259.15,302.45 260.17,302.3 261.1,302.3C262.03,302.3 262.95,302.48 263.9,302.8C264.85,303.12 265.85,303.58 266.8,304.2C267.75,304.82 268.67,305.68 269.6,306.5C270.53,307.32 271.47,308.27 272.4,309.1C273.33,309.93 274.27,310.72 275.2,311.5C276.13,312.28 277.03,313.22 278,313.8C278.97,314.38 279.72,314.57 281,315C282.28,315.43 284.13,316.07 285.7,316.4C287.27,316.73 288.83,316.82 290.4,317C291.97,317.18 293.53,317.22 295.1,317.5C296.67,317.78 298.23,318.3 299.8,318.7C301.37,319.1 302.93,319.6 304.5,319.9C306.07,320.2 307.93,320.12 309.2,320.5C310.47,320.88 311.13,321.03 312.1,322.2C313.07,323.37 314.02,325.25 315,327.5C315.98,329.75 317.02,332.97 318,335.7C318.98,338.43 320.13,341.55 320.9,343.9C321.67,346.25 322.08,348.03 322.6,349.8C323.12,351.57 323.48,352.93 324,354.5C324.52,356.07 325.08,357.62 325.7,359.2C326.32,360.78 326.98,362.43 327.7,364C328.42,365.57 328.97,366.98 330,368.6C331.03,370.22 332.6,372.2 333.9,373.7C335.2,375.2 336.5,376.37 337.8,377.6C339.1,378.83 340.4,379.87 341.7,381.1C343,382.33 344.42,383.57 345.6,385C346.78,386.43 347.88,388.13 348.8,389.7C349.72,391.27 350.33,392.83 351.1,394.4C351.87,395.97 352.57,397.55 353.4,399.1C354.23,400.65 355.28,402.22 356.1,403.7C356.92,405.18 357.62,406.62 358.3,408C358.98,409.38 359.52,410.45 360.2,412C360.88,413.55 361.53,415.52 362.4,417.3C363.27,419.08 364.28,420.98 365.4,422.7C366.52,424.42 367.78,426.08 369.1,427.6C370.42,429.12 371.78,430.5 373.3,431.8C374.82,433.1 376.58,434.28 378.2,435.4C379.82,436.52 381.4,437.58 383,438.5C384.6,439.42 386.28,440 387.8,440.9C389.32,441.8 390.68,442.8 392.1,443.9C393.52,445 394.88,446.08 396.3,447.5C397.72,448.92 399.18,450.68 400.6,452.4C402.02,454.12 403.4,455.98 404.8,457.8C406.2,459.62 407.58,461.78 409,463.3C410.42,464.82 411.78,465.93 413.3,466.9C414.82,467.87 416.28,468.6 418.1,469.1C419.92,469.6 422.22,469.72 424.2,469.9C426.18,470.08 425.15,470.13 430,470.2C434.85,470.27 449.42,470.28 453.3,470.3" fill="none" stroke="#f01818" stroke-width="1.25" stroke-linejoin="round"/>
<path d="M484.9,472.32 L485.43,472.22 L485.96,472.1 L486.49,471.95 L487.02,471.76 L487.55,471.52 L488.08,471.22 L488.61,470.86 L489.13,470.43 L489.66,469.91 L490.19,469.3 L490.72,468.59 L491.25,467.77 L491.78,466.84 L492.31,465.79 L492.84,464.62 L493.37,463.34 L493.9,461.95 L494.43,460.47 L494.96,458.91 L495.49,457.29 L496.02,455.64 L496.55,453.98 L497.08,452.34 L497.6,450.76 L498.13,449.28 L498.66,447.93 L499.19,446.74 L499.72,445.74 L500.25,444.96 L500.78,444.42 L501.31,444.13 L501.84,444.1 L502.37,444.34 L502.9,444.83 L503.43,445.57 L503.96,446.52 L504.49,447.68 L505.02,449 L505.55,450.46 L506.07,452.02 L506.6,453.65 L507.13,455.3 L507.66,456.96 L508.19,458.59 L508.72,460.17 L509.25,461.67 L509.78,463.07 L510.31,464.37 L510.84,465.56 L511.37,466.64 L511.9,467.59 L512.43,468.43 L512.96,469.17 L513.49,469.8 L514.02,470.33 L514.54,470.78 L515.07,471.16 L515.6,471.46 L516.13,471.71 L516.66,471.91 L517.19,472.08 L517.72,472.2 L518.25,472.3 L518.78,472.38 L519.31,472.44 L519.84,472.48 L520.37,472.51 L520.9,472.54 L521.43,472.56 L521.96,472.57 L522.49,472.58 L523.01,472.58 L523.54,472.59 L524.07,472.59 L524.6,472.6 L525.13,472.6 L525.66,472.6 L526.19,472.6 L526.72,472.6 L527.25,472.6 L527.78,472.6 L528.31,472.6 L528.84,472.6 L529.37,472.6 L529.9,472.6 L530.43,472.6 L530.96,472.6 L531.49,472.6 L532.01,472.6 L532.54,472.6 L533.07,472.6 L533.6,472.6 L534.13,472.6 L534.66,472.6 L535.19,472.6 L535.72,472.6 L536.25,472.6 L536.78,472.6 L537.31,472.6 L537.84,472.6 L538.37,472.6 L538.9,472.6 L539.43,472.6 L539.95,472.6 L540.48,472.6 L541.01,472.6 L541.54,472.6 L542.07,472.6 L542.6,472.6 L543.13,472.6 L543.66,472.6 L544.19,472.6 L544.72,472.6 L545.25,472.6 L545.78,472.6 L546.31,472.6 L546.84,472.6 L547.37,472.6 L547.9,472.6 L548.42,472.6 L548.95,472.6 L549.48,472.6 L550.01,472.6 L550.54,472.6 L551.07,472.6 L551.6,472.6 L552.13,472.6 L552.66,472.6 L553.19,472.6 L553.72,472.6 L554.25,472.6 L554.78,472.6 L555.31,472.6 L555.84,472.6 L556.37,472.6 L556.89,472.6 L557.42,472.6 L557.95,472.6 L558.48,472.6 L559.01,472.6 L559.54,472.6 L560.07,472.6 L560.6,472.6 L561.13,472.6 L561.66,472.6 L562.19,472.6 L562.72,472.6 L563.25,472.6 L563.78,472.6 L564.31,472.6 L564.84,472.6 L565.37,472.6 L565.89,472.6 L566.42,472.6 L566.95,472.6 L567.48,472.6 L568.01,472.6 L568.54,472.6 L569.07,472.6 L569.6,472.6 L570.13,472.6 L570.66,472.6 L571.19,472.6 L571.72,472.6 L572.25,472.6 L572.78,472.6 L573.31,472.6 L573.84,472.6 L574.36,472.6 L574.89,472.6 L575.42,472.6 L575.95,472.6 L576.48,472.6 L577.01,472.6 L577.54,472.6 L578.07,472.6 L578.6,472.6 L579.13,472.6 L579.66,472.6 L580.19,472.6 L580.72,472.6 L581.25,472.6 L581.78,472.6 L582.3,472.6 L582.83,472.6 L583.36,472.6 L583.89,472.6 L584.42,472.6 L584.95,472.6 L585.48,472.6 L586.01,472.6 L586.54,472.6 L587.07,472.6 L587.6,472.6 L588.13,472.6 L588.66,472.6 L589.19,472.6 L589.72,472.6 L590.25,472.6 L590.77,472.6 L591.3,472.6 L591.83,472.6 L592.36,472.6 L592.89,472.6 L593.42,472.6 L593.95,472.6 L594.48,472.6 L595.01,472.6 L595.54,472.6 L596.07,472.6 L596.6,472.6 L597.13,472.6 L597.66,472.6 L598.19,472.6 L598.72,472.6 L599.25,472.6 L599.77,472.6 L600.3,472.6 L600.83,472.6 L601.36,472.6 L601.89,472.6 L602.42,472.6 L602.95,472.6 L603.48,472.6 L604.01,472.6 L604.54,472.6 L605.07,472.6 L605.6,472.6 L606.13,472.6 L606.66,472.6 L607.19,472.6 L607.72,472.6 L608.24,472.6 L608.77,472.6 L609.3,472.6 L609.83,472.6 L610.36,472.6 L610.89,472.6 L611.42,472.6 L611.95,472.6 L612.48,472.6 L613.01,472.6 L613.54,472.6 L614.07,472.6 L614.6,472.6 L615.13,472.6 L615.66,472.6 L616.18,472.6 L616.71,472.6 L617.24,472.6 L617.77,472.6 L618.3,472.6 L618.83,472.6 L619.36,472.6 L619.89,472.6 L620.42,472.6 L620.95,472.6 L621.48,472.6 L622.01,472.6 L622.54,472.6 L623.07,472.6 L623.6,472.6 L624.13,472.6 L624.65,472.6 L625.18,472.6 L625.71,472.6 L626.24,472.6 L626.77,472.6 L627.3,472.6 L627.83,472.6 L628.36,472.6 L628.89,472.6 L629.42,472.6 L629.95,472.6 L630.48,472.6 L631.01,472.6 L631.54,472.6 L632.07,472.6 L632.6,472.6 L633.12,472.6 L633.65,472.6 L634.18,472.6 L634.71,472.6 L635.24,472.6 L635.77,472.6 L636.3,472.6 L636.83,472.6 L637.36,472.6 L637.89,472.6 L638.42,472.6 L638.95,472.6 L639.48,472.6 L640.01,472.6 L640.54,472.6 L641.07,472.6 L641.6,472.6 L642.12,472.6 L642.65,472.6 L643.18,472.6 L643.71,472.6 L644.24,472.6 L644.77,472.6 L645.3,472.6 L645.83,472.6 L646.36,472.6 L646.89,472.6 L647.42,472.6 L647.95,472.6 L648.48,472.6 L649.01,472.6 L649.54,472.6 L650.07,472.6 L650.59,472.6 L651.12,472.6 L651.65,472.6 L652.18,472.6 L652.71,472.6 L653.24,472.6 L653.77,472.6 L654.3,472.6 L654.83,472.6 L655.36,472.6 L655.89,472.6 L656.42,472.6 L656.95,472.6 L657.48,472.6 L658.01,472.6 L658.53,472.6 L659.06,472.6 L659.59,472.6 L660.12,472.6 L660.65,472.6 L661.18,472.6 L661.71,472.6 L662.24,472.6 L662.77,472.6 L663.3,472.6 L663.83,472.6 L664.36,472.6 L664.89,472.6 L665.42,472.6 L665.95,472.6 L666.48,472.6 L667,472.6 L667.53,472.6 L668.06,472.6 L668.59,472.6 L669.12,472.6 L669.65,472.6 L670.18,472.6 L670.71,472.6 L671.24,472.6 L671.77,472.6 L672.3,472.6 L672.83,472.6 L673.36,472.6 L673.89,472.6 L674.42,472.6 L674.95,472.6 L675.48,472.6 L676,472.6 L676.53,472.6 L677.06,472.6 L677.59,472.6 L678.12,472.6 L678.65,472.6 L679.18,472.6 L679.71,472.6 L680.24,472.6 L680.77,472.6 L681.3,472.6 L681.83,472.6 L682.36,472.6 L682.89,472.6 L683.42,472.6 L683.94,472.6 L684.47,472.6 L685,472.6 L685.53,472.6 L686.06,472.6 L686.59,472.6 L687.12,472.6 L687.65,472.6 L688.18,472.6 L688.71,472.6 L689.24,472.6 L689.77,472.6 L690.3,472.6 L690.83,472.6 L691.36,472.6 L691.89,472.6 L692.41,472.6 L692.94,472.6 L693.47,472.6 L694,472.6 L694.53,472.6 L695.06,472.6 L695.59,472.6 L696.12,472.6 L696.65,472.6 L697.18,472.6 L697.71,472.6 L698.24,472.6 L698.77,472.6 L699.3,472.6 L699.83,472.6 L700.36,472.6 L700.88,472.6 L701.41,472.6 L701.94,472.6 L702.47,472.6 L703,472.6 L703.53,472.6 L704.06,472.6 L704.59,472.6 L705.12,472.6 L705.65,472.6 L706.18,472.6 L706.71,472.6 L707.24,472.6 L707.77,472.6 L708.3,472.6 L708.83,472.6 L709.36,472.6 L709.88,472.6 L710.41,472.6 L710.94,472.6 L711.47,472.6 L712,472.6 L712.53,472.6 L713.06,472.6 L713.59,472.6 L714.12,472.6 L714.65,472.6 L715.18,472.6 L715.71,472.6 L716.24,472.6 L716.77,472.6 L717.3,472.6 L717.83,472.6 L718.35,472.6 L718.88,472.6 L719.41,472.6 L719.94,472.6 L720.47,472.6 L721,472.6 L721.53,472.6 L722.06,472.6 L722.59,472.6 L723.12,472.6 L723.65,472.6 L724.18,472.6 L724.71,472.6 L725.24,472.6 L725.77,472.6 L726.29,472.6 L726.82,472.6 L727.35,472.6 L727.88,472.6 L728.41,472.6 L728.94,472.6 L729.47,472.6 L730,472.6 L730.53,472.6 L731.06,472.6 L731.59,472.6 L732.12,472.6 L732.65,472.6 L733.18,472.6 L733.71,472.6 L734.24,472.6 L734.76,472.6 L735.29,472.6 L735.82,472.6 L736.35,472.6 L736.88,472.6 L737.41,472.6 L737.94,472.6 L738.47,472.6 L739,472.6M484.9,472.34 L485.43,472.3 L485.96,472.25 L486.49,472.19 L487.02,472.12 L487.55,472.04 L488.08,471.95 L488.61,471.85 L489.13,471.73 L489.66,471.6 L490.19,471.45 L490.72,471.29 L491.25,471.1 L491.78,470.88 L492.31,470.65 L492.84,470.38 L493.37,470.08 L493.9,469.75 L494.43,469.39 L494.96,468.98 L495.49,468.54 L496.02,468.05 L496.55,467.51 L497.08,466.92 L497.6,466.27 L498.13,465.57 L498.66,464.81 L499.19,463.99 L499.72,463.1 L500.25,462.15 L500.78,461.12 L501.31,460.02 L501.84,458.85 L502.37,457.6 L502.9,456.28 L503.43,454.88 L503.96,453.4 L504.49,451.85 L505.02,450.22 L505.55,448.52 L506.07,446.75 L506.6,444.91 L507.13,443.01 L507.66,441.05 L508.19,439.04 L508.72,436.97 L509.25,434.87 L509.78,432.73 L510.31,430.57 L510.84,428.39 L511.37,426.2 L511.9,424.02 L512.43,421.84 L512.96,419.69 L513.49,417.58 L514.02,415.5 L514.54,413.49 L515.07,411.54 L515.6,409.67 L516.13,407.89 L516.66,406.21 L517.19,404.64 L517.72,403.19 L518.25,401.87 L518.78,400.69 L519.31,399.66 L519.84,398.78 L520.37,398.05 L520.9,397.49 L521.43,397.1 L521.96,396.88 L522.49,396.83 L523.01,396.95 L523.54,397.24 L524.07,397.7 L524.6,398.32 L525.13,399.11 L525.66,400.06 L526.19,401.15 L526.72,402.39 L527.25,403.76 L527.78,405.26 L528.31,406.87 L528.84,408.59 L529.37,410.41 L529.9,412.31 L530.43,414.29 L530.96,416.33 L531.49,418.42 L532.01,420.55 L532.54,422.71 L533.07,424.89 L533.6,427.08 L534.13,429.26 L534.66,431.44 L535.19,433.59 L535.72,435.72 L536.25,437.8 L536.78,439.85 L537.31,441.84 L537.84,443.78 L538.37,445.66 L538.9,447.47 L539.43,449.21 L539.95,450.88 L540.48,452.48 L541.01,454 L541.54,455.45 L542.07,456.82 L542.6,458.11 L543.13,459.33 L543.66,460.47 L544.19,461.54 L544.72,462.54 L545.25,463.47 L545.78,464.33 L546.31,465.13 L546.84,465.86 L547.37,466.54 L547.9,467.16 L548.42,467.73 L548.95,468.25 L549.48,468.72 L550.01,469.15 L550.54,469.54 L551.07,469.89 L551.6,470.21 L552.13,470.49 L552.66,470.74 L553.19,470.97 L553.72,471.17 L554.25,471.36 L554.78,471.52 L555.31,471.66 L555.84,471.78 L556.37,471.89 L556.89,471.99 L557.42,472.07 L557.95,472.15 L558.48,472.21 L559.01,472.27 L559.54,472.32 L560.07,472.36 L560.6,472.39 L561.13,472.43 L561.66,472.45 L562.19,472.48 L562.72,472.5 L563.25,472.51 L563.78,472.53 L564.31,472.54 L564.84,472.55 L565.37,472.56 L565.89,472.56 L566.42,472.57 L566.95,472.58 L567.48,472.58 L568.01,472.58 L568.54,472.59 L569.07,472.59 L569.6,472.59 L570.13,472.59 L570.66,472.59 L571.19,472.6 L571.72,472.6 L572.25,472.6 L572.78,472.6 L573.31,472.6 L573.84,472.6 L574.36,472.6 L574.89,472.6 L575.42,472.6 L575.95,472.6 L576.48,472.6 L577.01,472.6 L577.54,472.6 L578.07,472.6 L578.6,472.6 L579.13,472.6 L579.66,472.6 L580.19,472.6 L580.72,472.6 L581.25,472.6 L581.78,472.6 L582.3,472.6 L582.83,472.6 L583.36,472.6 L583.89,472.6 L584.42,472.6 L584.95,472.6 L585.48,472.6 L586.01,472.6 L586.54,472.6 L587.07,472.6 L587.6,472.6 L588.13,472.6 L588.66,472.6 L589.19,472.6 L589.72,472.6 L590.25,472.6 L590.77,472.6 L591.3,472.6 L591.83,472.6 L592.36,472.6 L592.89,472.6 L593.42,472.6 L593.95,472.6 L594.48,472.6 L595.01,472.6 L595.54,472.6 L596.07,472.6 L596.6,472.6 L597.13,472.6 L597.66,472.6 L598.19,472.6 L598.72,472.6 L599.25,472.6 L599.77,472.6 L600.3,472.6 L600.83,472.6 L601.36,472.6 L601.89,472.6 L602.42,472.6 L602.95,472.6 L603.48,472.6 L604.01,472.6 L604.54,472.6 L605.07,472.6 L605.6,472.6 L606.13,472.6 L606.66,472.6 L607.19,472.6 L607.72,472.6 L608.24,472.6 L608.77,472.6 L609.3,472.6 L609.83,472.6 L610.36,472.6 L610.89,472.6 L611.42,472.6 L611.95,472.6 L612.48,472.6 L613.01,472.6 L613.54,472.6 L614.07,472.6 L614.6,472.6 L615.13,472.6 L615.66,472.6 L616.18,472.6 L616.71,472.6 L617.24,472.6 L617.77,472.6 L618.3,472.6 L618.83,472.6 L619.36,472.6 L619.89,472.6 L620.42,472.6 L620.95,472.6 L621.48,472.6 L622.01,472.6 L622.54,472.6 L623.07,472.6 L623.6,472.6 L624.13,472.6 L624.65,472.6 L625.18,472.6 L625.71,472.6 L626.24,472.6 L626.77,472.6 L627.3,472.6 L627.83,472.6 L628.36,472.6 L628.89,472.6 L629.42,472.6 L629.95,472.6 L630.48,472.6 L631.01,472.6 L631.54,472.6 L632.07,472.6 L632.6,472.6 L633.12,472.6 L633.65,472.6 L634.18,472.6 L634.71,472.6 L635.24,472.6 L635.77,472.6 L636.3,472.6 L636.83,472.6 L637.36,472.6 L637.89,472.6 L638.42,472.6 L638.95,472.6 L639.48,472.6 L640.01,472.6 L640.54,472.6 L641.07,472.6 L641.6,472.6 L642.12,472.6 L642.65,472.6 L643.18,472.6 L643.71,472.6 L644.24,472.6 L644.77,472.6 L645.3,472.6 L645.83,472.6 L646.36,472.6 L646.89,472.6 L647.42,472.6 L647.95,472.6 L648.48,472.6 L649.01,472.6 L649.54,472.6 L650.07,472.6 L650.59,472.6 L651.12,472.6 L651.65,472.6 L652.18,472.6 L652.71,472.6 L653.24,472.6 L653.77,472.6 L654.3,472.6 L654.83,472.6 L655.36,472.6 L655.89,472.6 L656.42,472.6 L656.95,472.6 L657.48,472.6 L658.01,472.6 L658.53,472.6 L659.06,472.6 L659.59,472.6 L660.12,472.6 L660.65,472.6 L661.18,472.6 L661.71,472.6 L662.24,472.6 L662.77,472.6 L663.3,472.6 L663.83,472.6 L664.36,472.6 L664.89,472.6 L665.42,472.6 L665.95,472.6 L666.48,472.6 L667,472.6 L667.53,472.6 L668.06,472.6 L668.59,472.6 L669.12,472.6 L669.65,472.6 L670.18,472.6 L670.71,472.6 L671.24,472.6 L671.77,472.6 L672.3,472.6 L672.83,472.6 L673.36,472.6 L673.89,472.6 L674.42,472.6 L674.95,472.6 L675.48,472.6 L676,472.6 L676.53,472.6 L677.06,472.6 L677.59,472.6 L678.12,472.6 L678.65,472.6 L679.18,472.6 L679.71,472.6 L680.24,472.6 L680.77,472.6 L681.3,472.6 L681.83,472.6 L682.36,472.6 L682.89,472.6 L683.42,472.6 L683.94,472.6 L684.47,472.6 L685,472.6 L685.53,472.6 L686.06,472.6 L686.59,472.6 L687.12,472.6 L687.65,472.6 L688.18,472.6 L688.71,472.6 L689.24,472.6 L689.77,472.6 L690.3,472.6 L690.83,472.6 L691.36,472.6 L691.89,472.6 L692.41,472.6 L692.94,472.6 L693.47,472.6 L694,472.6 L694.53,472.6 L695.06,472.6 L695.59,472.6 L696.12,472.6 L696.65,472.6 L697.18,472.6 L697.71,472.6 L698.24,472.6 L698.77,472.6 L699.3,472.6 L699.83,472.6 L700.36,472.6 L700.88,472.6 L701.41,472.6 L701.94,472.6 L702.47,472.6 L703,472.6 L703.53,472.6 L704.06,472.6 L704.59,472.6 L705.12,472.6 L705.65,472.6 L706.18,472.6 L706.71,472.6 L707.24,472.6 L707.77,472.6 L708.3,472.6 L708.83,472.6 L709.36,472.6 L709.88,472.6 L710.41,472.6 L710.94,472.6 L711.47,472.6 L712,472.6 L712.53,472.6 L713.06,472.6 L713.59,472.6 L714.12,472.6 L714.65,472.6 L715.18,472.6 L715.71,472.6 L716.24,472.6 L716.77,472.6 L717.3,472.6 L717.83,472.6 L718.35,472.6 L718.88,472.6 L719.41,472.6 L719.94,472.6 L720.47,472.6 L721,472.6 L721.53,472.6 L722.06,472.6 L722.59,472.6 L723.12,472.6 L723.65,472.6 L724.18,472.6 L724.71,472.6 L725.24,472.6 L725.77,472.6 L726.29,472.6 L726.82,472.6 L727.35,472.6 L727.88,472.6 L728.41,472.6 L728.94,472.6 L729.47,472.6 L730,472.6 L730.53,472.6 L731.06,472.6 L731.59,472.6 L732.12,472.6 L732.65,472.6 L733.18,472.6 L733.71,472.6 L734.24,472.6 L734.76,472.6 L735.29,472.6 L735.82,472.6 L736.35,472.6 L736.88,472.6 L737.41,472.6 L737.94,472.6 L738.47,472.6 L739,472.6M484.9,472.41 L485.43,472.38 L485.96,472.36 L486.49,472.33 L487.02,472.29 L487.55,472.26 L488.08,472.22 L488.61,472.17 L489.13,472.12 L489.66,472.07 L490.19,472 L490.72,471.94 L491.25,471.86 L491.78,471.78 L492.31,471.69 L492.84,471.59 L493.37,471.48 L493.9,471.37 L494.43,471.24 L494.96,471.1 L495.49,470.94 L496.02,470.77 L496.55,470.59 L497.08,470.39 L497.6,470.18 L498.13,469.95 L498.66,469.69 L499.19,469.42 L499.72,469.13 L500.25,468.81 L500.78,468.47 L501.31,468.1 L501.84,467.71 L502.37,467.28 L502.9,466.83 L503.43,466.34 L503.96,465.82 L504.49,465.27 L505.02,464.68 L505.55,464.05 L506.07,463.38 L506.6,462.68 L507.13,461.92 L507.66,461.13 L508.19,460.29 L508.72,459.4 L509.25,458.46 L509.78,457.48 L510.31,456.44 L510.84,455.35 L511.37,454.21 L511.9,453.01 L512.43,451.76 L512.96,450.45 L513.49,449.09 L514.02,447.68 L514.54,446.2 L515.07,444.67 L515.6,443.09 L516.13,441.45 L516.66,439.75 L517.19,438 L517.72,436.2 L518.25,434.34 L518.78,432.44 L519.31,430.49 L519.84,428.49 L520.37,426.45 L520.9,424.37 L521.43,422.25 L521.96,420.1 L522.49,417.91 L523.01,415.7 L523.54,413.46 L524.07,411.21 L524.6,408.93 L525.13,406.65 L525.66,404.36 L526.19,402.07 L526.72,399.79 L527.25,397.51 L527.78,395.25 L528.31,393.01 L528.84,390.8 L529.37,388.61 L529.9,386.47 L530.43,384.37 L530.96,382.31 L531.49,380.32 L532.01,378.38 L532.54,376.51 L533.07,374.71 L533.6,372.99 L534.13,371.35 L534.66,369.79 L535.19,368.33 L535.72,366.97 L536.25,365.7 L536.78,364.55 L537.31,363.5 L537.84,362.56 L538.37,361.74 L538.9,361.03 L539.43,360.45 L539.95,359.99 L540.48,359.65 L541.01,359.43 L541.54,359.35 L542.07,359.38 L542.6,359.55 L543.13,359.84 L543.66,360.25 L544.19,360.78 L544.72,361.44 L545.25,362.22 L545.78,363.11 L546.31,364.11 L546.84,365.23 L547.37,366.45 L547.9,367.77 L548.42,369.2 L548.95,370.71 L549.48,372.32 L550.01,374.01 L550.54,375.78 L551.07,377.62 L551.6,379.53 L552.13,381.51 L552.66,383.54 L553.19,385.62 L553.72,387.75 L554.25,389.92 L554.78,392.12 L555.31,394.35 L555.84,396.61 L556.37,398.88 L556.89,401.16 L557.42,403.45 L557.95,405.74 L558.48,408.02 L559.01,410.3 L559.54,412.56 L560.07,414.81 L560.6,417.03 L561.13,419.23 L561.66,421.39 L562.19,423.53 L562.72,425.62 L563.25,427.68 L563.78,429.7 L564.31,431.67 L564.84,433.59 L565.37,435.46 L565.89,437.29 L566.42,439.06 L566.95,440.77 L567.48,442.44 L568.01,444.04 L568.54,445.6 L569.07,447.09 L569.6,448.53 L570.13,449.92 L570.66,451.24 L571.19,452.52 L571.72,453.74 L572.25,454.9 L572.78,456.01 L573.31,457.07 L573.84,458.07 L574.36,459.03 L574.89,459.94 L575.42,460.8 L575.95,461.61 L576.48,462.38 L577.01,463.11 L577.54,463.79 L578.07,464.43 L578.6,465.04 L579.13,465.61 L579.66,466.14 L580.19,466.64 L580.72,467.1 L581.25,467.54 L581.78,467.95 L582.3,468.32 L582.83,468.68 L583.36,469 L583.89,469.31 L584.42,469.59 L584.95,469.85 L585.48,470.09 L586.01,470.31 L586.54,470.52 L587.07,470.7 L587.6,470.88 L588.13,471.04 L588.66,471.18 L589.19,471.32 L589.72,471.44 L590.25,471.55 L590.77,471.65 L591.3,471.75 L591.83,471.83 L592.36,471.91 L592.89,471.98 L593.42,472.04 L593.95,472.1 L594.48,472.15 L595.01,472.2 L595.54,472.24 L596.07,472.28 L596.6,472.32 L597.13,472.35 L597.66,472.37 L598.19,472.4 L598.72,472.42 L599.25,472.44 L599.77,472.46 L600.3,472.48 L600.83,472.49 L601.36,472.5 L601.89,472.51 L602.42,472.53 L602.95,472.53 L603.48,472.54 L604.01,472.55 L604.54,472.56 L605.07,472.56 L605.6,472.57 L606.13,472.57 L606.66,472.57 L607.19,472.58 L607.72,472.58 L608.24,472.58 L608.77,472.59 L609.3,472.59 L609.83,472.59 L610.36,472.59 L610.89,472.59 L611.42,472.59 L611.95,472.59 L612.48,472.59 L613.01,472.6 L613.54,472.6 L614.07,472.6 L614.6,472.6 L615.13,472.6 L615.66,472.6 L616.18,472.6 L616.71,472.6 L617.24,472.6 L617.77,472.6 L618.3,472.6 L618.83,472.6 L619.36,472.6 L619.89,472.6 L620.42,472.6 L620.95,472.6 L621.48,472.6 L622.01,472.6 L622.54,472.6 L623.07,472.6 L623.6,472.6 L624.13,472.6 L624.65,472.6 L625.18,472.6 L625.71,472.6 L626.24,472.6 L626.77,472.6 L627.3,472.6 L627.83,472.6 L628.36,472.6 L628.89,472.6 L629.42,472.6 L629.95,472.6 L630.48,472.6 L631.01,472.6 L631.54,472.6 L632.07,472.6 L632.6,472.6 L633.12,472.6 L633.65,472.6 L634.18,472.6 L634.71,472.6 L635.24,472.6 L635.77,472.6 L636.3,472.6 L636.83,472.6 L637.36,472.6 L637.89,472.6 L638.42,472.6 L638.95,472.6 L639.48,472.6 L640.01,472.6 L640.54,472.6 L641.07,472.6 L641.6,472.6 L642.12,472.6 L642.65,472.6 L643.18,472.6 L643.71,472.6 L644.24,472.6 L644.77,472.6 L645.3,472.6 L645.83,472.6 L646.36,472.6 L646.89,472.6 L647.42,472.6 L647.95,472.6 L648.48,472.6 L649.01,472.6 L649.54,472.6 L650.07,472.6 L650.59,472.6 L651.12,472.6 L651.65,472.6 L652.18,472.6 L652.71,472.6 L653.24,472.6 L653.77,472.6 L654.3,472.6 L654.83,472.6 L655.36,472.6 L655.89,472.6 L656.42,472.6 L656.95,472.6 L657.48,472.6 L658.01,472.6 L658.53,472.6 L659.06,472.6 L659.59,472.6 L660.12,472.6 L660.65,472.6 L661.18,472.6 L661.71,472.6 L662.24,472.6 L662.77,472.6 L663.3,472.6 L663.83,472.6 L664.36,472.6 L664.89,472.6 L665.42,472.6 L665.95,472.6 L666.48,472.6 L667,472.6 L667.53,472.6 L668.06,472.6 L668.59,472.6 L669.12,472.6 L669.65,472.6 L670.18,472.6 L670.71,472.6 L671.24,472.6 L671.77,472.6 L672.3,472.6 L672.83,472.6 L673.36,472.6 L673.89,472.6 L674.42,472.6 L674.95,472.6 L675.48,472.6 L676,472.6 L676.53,472.6 L677.06,472.6 L677.59,472.6 L678.12,472.6 L678.65,472.6 L679.18,472.6 L679.71,472.6 L680.24,472.6 L680.77,472.6 L681.3,472.6 L681.83,472.6 L682.36,472.6 L682.89,472.6 L683.42,472.6 L683.94,472.6 L684.47,472.6 L685,472.6 L685.53,472.6 L686.06,472.6 L686.59,472.6 L687.12,472.6 L687.65,472.6 L688.18,472.6 L688.71,472.6 L689.24,472.6 L689.77,472.6 L690.3,472.6 L690.83,472.6 L691.36,472.6 L691.89,472.6 L692.41,472.6 L692.94,472.6 L693.47,472.6 L694,472.6 L694.53,472.6 L695.06,472.6 L695.59,472.6 L696.12,472.6 L696.65,472.6 L697.18,472.6 L697.71,472.6 L698.24,472.6 L698.77,472.6 L699.3,472.6 L699.83,472.6 L700.36,472.6 L700.88,472.6 L701.41,472.6 L701.94,472.6 L702.47,472.6 L703,472.6 L703.53,472.6 L704.06,472.6 L704.59,472.6 L705.12,472.6 L705.65,472.6 L706.18,472.6 L706.71,472.6 L707.24,472.6 L707.77,472.6 L708.3,472.6 L708.83,472.6 L709.36,472.6 L709.88,472.6 L710.41,472.6 L710.94,472.6 L711.47,472.6 L712,472.6 L712.53,472.6 L713.06,472.6 L713.59,472.6 L714.12,472.6 L714.65,472.6 L715.18,472.6 L715.71,472.6 L716.24,472.6 L716.77,472.6 L717.3,472.6 L717.83,472.6 L718.35,472.6 L718.88,472.6 L719.41,472.6 L719.94,472.6 L720.47,472.6 L721,472.6 L721.53,472.6 L722.06,472.6 L722.59,472.6 L723.12,472.6 L723.65,472.6 L724.18,472.6 L724.71,472.6 L725.24,472.6 L725.77,472.6 L726.29,472.6 L726.82,472.6 L727.35,472.6 L727.88,472.6 L728.41,472.6 L728.94,472.6 L729.47,472.6 L730,472.6 L730.53,472.6 L731.06,472.6 L731.59,472.6 L732.12,472.6 L732.65,472.6 L733.18,472.6 L733.71,472.6 L734.24,472.6 L734.76,472.6 L735.29,472.6 L735.82,472.6 L736.35,472.6 L736.88,472.6 L737.41,472.6 L737.94,472.6 L738.47,472.6 L739,472.6M484.9,472.57 L485.43,472.57 L485.96,472.56 L486.49,472.56 L487.02,472.56 L487.55,472.55 L488.08,472.55 L488.61,472.54 L489.13,472.54 L489.66,472.53 L490.19,472.53 L490.72,472.52 L491.25,472.51 L491.78,472.5 L492.31,472.5 L492.84,472.49 L493.37,472.48 L493.9,472.47 L494.43,472.46 L494.96,472.44 L495.49,472.43 L496.02,472.42 L496.55,472.4 L497.08,472.38 L497.6,472.37 L498.13,472.35 L498.66,472.33 L499.19,472.3 L499.72,472.28 L500.25,472.26 L500.78,472.23 L501.31,472.2 L501.84,472.17 L502.37,472.13 L502.9,472.1 L503.43,472.06 L503.96,472.02 L504.49,471.98 L505.02,471.93 L505.55,471.88 L506.07,471.83 L506.6,471.77 L507.13,471.71 L507.66,471.65 L508.19,471.58 L508.72,471.5 L509.25,471.43 L509.78,471.34 L510.31,471.26 L510.84,471.17 L511.37,471.07 L511.9,470.96 L512.43,470.85 L512.96,470.74 L513.49,470.61 L514.02,470.48 L514.54,470.34 L515.07,470.2 L515.6,470.04 L516.13,469.88 L516.66,469.71 L517.19,469.53 L517.72,469.34 L518.25,469.14 L518.78,468.93 L519.31,468.7 L519.84,468.47 L520.37,468.22 L520.9,467.96 L521.43,467.69 L521.96,467.41 L522.49,467.11 L523.01,466.8 L523.54,466.47 L524.07,466.13 L524.6,465.77 L525.13,465.4 L525.66,465.01 L526.19,464.6 L526.72,464.17 L527.25,463.72 L527.78,463.26 L528.31,462.78 L528.84,462.27 L529.37,461.75 L529.9,461.21 L530.43,460.64 L530.96,460.05 L531.49,459.44 L532.01,458.81 L532.54,458.15 L533.07,457.47 L533.6,456.76 L534.13,456.03 L534.66,455.28 L535.19,454.5 L535.72,453.69 L536.25,452.85 L536.78,451.99 L537.31,451.11 L537.84,450.19 L538.37,449.25 L538.9,448.28 L539.43,447.29 L539.95,446.26 L540.48,445.21 L541.01,444.13 L541.54,443.02 L542.07,441.88 L542.6,440.71 L543.13,439.52 L543.66,438.3 L544.19,437.05 L544.72,435.77 L545.25,434.47 L545.78,433.13 L546.31,431.78 L546.84,430.39 L547.37,428.98 L547.9,427.55 L548.42,426.09 L548.95,424.61 L549.48,423.1 L550.01,421.58 L550.54,420.03 L551.07,418.46 L551.6,416.87 L552.13,415.26 L552.66,413.64 L553.19,411.99 L553.72,410.34 L554.25,408.67 L554.78,406.98 L555.31,405.29 L555.84,403.58 L556.37,401.87 L556.89,400.15 L557.42,398.42 L557.95,396.69 L558.48,394.96 L559.01,393.23 L559.54,391.5 L560.07,389.77 L560.6,388.04 L561.13,386.33 L561.66,384.62 L562.19,382.92 L562.72,381.23 L563.25,379.55 L563.78,377.89 L564.31,376.25 L564.84,374.63 L565.37,373.03 L565.89,371.45 L566.42,369.9 L566.95,368.38 L567.48,366.88 L568.01,365.42 L568.54,363.99 L569.07,362.59 L569.6,361.23 L570.13,359.91 L570.66,358.63 L571.19,357.39 L571.72,356.19 L572.25,355.04 L572.78,353.94 L573.31,352.88 L573.84,351.88 L574.36,350.92 L574.89,350.02 L575.42,349.17 L575.95,348.38 L576.48,347.64 L577.01,346.96 L577.54,346.33 L578.07,345.77 L578.6,345.27 L579.13,344.82 L579.66,344.44 L580.19,344.12 L580.72,343.86 L581.25,343.67 L581.78,343.54 L582.3,343.47 L582.83,343.46 L583.36,343.52 L583.89,343.64 L584.42,343.82 L584.95,344.06 L585.48,344.37 L586.01,344.74 L586.54,345.17 L587.07,345.67 L587.6,346.22 L588.13,346.83 L588.66,347.5 L589.19,348.22 L589.72,349.01 L590.25,349.84 L590.77,350.74 L591.3,351.68 L591.83,352.68 L592.36,353.72 L592.89,354.82 L593.42,355.96 L593.95,357.15 L594.48,358.38 L595.01,359.65 L595.54,360.96 L596.07,362.32 L596.6,363.71 L597.13,365.13 L597.66,366.59 L598.19,368.08 L598.72,369.6 L599.25,371.14 L599.77,372.71 L600.3,374.31 L600.83,375.93 L601.36,377.56 L601.89,379.22 L602.42,380.89 L602.95,382.58 L603.48,384.27 L604.01,385.98 L604.54,387.7 L605.07,389.42 L605.6,391.15 L606.13,392.88 L606.66,394.62 L607.19,396.35 L607.72,398.08 L608.24,399.81 L608.77,401.53 L609.3,403.24 L609.83,404.95 L610.36,406.65 L610.89,408.33 L611.42,410 L611.95,411.66 L612.48,413.31 L613.01,414.94 L613.54,416.55 L614.07,418.14 L614.6,419.72 L615.13,421.27 L615.66,422.8 L616.18,424.31 L616.71,425.8 L617.24,427.26 L617.77,428.7 L618.3,430.11 L618.83,431.5 L619.36,432.87 L619.89,434.2 L620.42,435.51 L620.95,436.79 L621.48,438.05 L622.01,439.28 L622.54,440.48 L623.07,441.65 L623.6,442.79 L624.13,443.91 L624.65,444.99 L625.18,446.05 L625.71,447.08 L626.24,448.09 L626.77,449.06 L627.3,450.01 L627.83,450.93 L628.36,451.82 L628.89,452.68 L629.42,453.52 L629.95,454.34 L630.48,455.12 L631.01,455.88 L631.54,456.62 L632.07,457.33 L632.6,458.01 L633.12,458.68 L633.65,459.31 L634.18,459.93 L634.71,460.52 L635.24,461.09 L635.77,461.64 L636.3,462.17 L636.83,462.68 L637.36,463.17 L637.89,463.63 L638.42,464.08 L638.95,464.51 L639.48,464.92 L640.01,465.32 L640.54,465.7 L641.07,466.06 L641.6,466.4 L642.12,466.73 L642.65,467.05 L643.18,467.35 L643.71,467.64 L644.24,467.91 L644.77,468.17 L645.3,468.42 L645.83,468.66 L646.36,468.88 L646.89,469.1 L647.42,469.3 L647.95,469.49 L648.48,469.67 L649.01,469.85 L649.54,470.01 L650.07,470.17 L650.59,470.32 L651.12,470.46 L651.65,470.59 L652.18,470.71 L652.71,470.83 L653.24,470.94 L653.77,471.05 L654.3,471.15 L654.83,471.24 L655.36,471.33 L655.89,471.41 L656.42,471.49 L656.95,471.56 L657.48,471.63 L658.01,471.7 L658.53,471.76 L659.06,471.82 L659.59,471.87 L660.12,471.92 L660.65,471.97 L661.18,472.01 L661.71,472.05 L662.24,472.09 L662.77,472.13 L663.3,472.16 L663.83,472.19 L664.36,472.22 L664.89,472.25 L665.42,472.28 L665.95,472.3 L666.48,472.32 L667,472.34 L667.53,472.36 L668.06,472.38 L668.59,472.4 L669.12,472.41 L669.65,472.43 L670.18,472.44 L670.71,472.45 L671.24,472.46 L671.77,472.47 L672.3,472.48 L672.83,472.49 L673.36,472.5 L673.89,472.51 L674.42,472.52 L674.95,472.52 L675.48,472.53 L676,472.54 L676.53,472.54 L677.06,472.55 L677.59,472.55 L678.12,472.56 L678.65,472.56 L679.18,472.56 L679.71,472.57 L680.24,472.57 L680.77,472.57 L681.3,472.57 L681.83,472.58 L682.36,472.58 L682.89,472.58 L683.42,472.58 L683.94,472.58 L684.47,472.58 L685,472.59 L685.53,472.59 L686.06,472.59 L686.59,472.59 L687.12,472.59 L687.65,472.59 L688.18,472.59 L688.71,472.59 L689.24,472.59 L689.77,472.59 L690.3,472.59 L690.83,472.6 L691.36,472.6 L691.89,472.6 L692.41,472.6 L692.94,472.6 L693.47,472.6 L694,472.6 L694.53,472.6 L695.06,472.6 L695.59,472.6 L696.12,472.6 L696.65,472.6 L697.18,472.6 L697.71,472.6 L698.24,472.6 L698.77,472.6 L699.3,472.6 L699.83,472.6 L700.36,472.6 L700.88,472.6 L701.41,472.6 L701.94,472.6 L702.47,472.6 L703,472.6 L703.53,472.6 L704.06,472.6 L704.59,472.6 L705.12,472.6 L705.65,472.6 L706.18,472.6 L706.71,472.6 L707.24,472.6 L707.77,472.6 L708.3,472.6 L708.83,472.6 L709.36,472.6 L709.88,472.6 L710.41,472.6 L710.94,472.6 L711.47,472.6 L712,472.6 L712.53,472.6 L713.06,472.6 L713.59,472.6 L714.12,472.6 L714.65,472.6 L715.18,472.6 L715.71,472.6 L716.24,472.6 L716.77,472.6 L717.3,472.6 L717.83,472.6 L718.35,472.6 L718.88,472.6 L719.41,472.6 L719.94,472.6 L720.47,472.6 L721,472.6 L721.53,472.6 L722.06,472.6 L722.59,472.6 L723.12,472.6 L723.65,472.6 L724.18,472.6 L724.71,472.6 L725.24,472.6 L725.77,472.6 L726.29,472.6 L726.82,472.6 L727.35,472.6 L727.88,472.6 L728.41,472.6 L728.94,472.6 L729.47,472.6 L730,472.6 L730.53,472.6 L731.06,472.6 L731.59,472.6 L732.12,472.6 L732.65,472.6 L733.18,472.6 L733.71,472.6 L734.24,472.6 L734.76,472.6 L735.29,472.6 L735.82,472.6 L736.35,472.6 L736.88,472.6 L737.41,472.6 L737.94,472.6 L738.47,472.6 L739,472.6M484.9,472.6 L485.43,472.6 L485.96,472.6 L486.49,472.6 L487.02,472.6 L487.55,472.6 L488.08,472.6 L488.61,472.6 L489.13,472.6 L489.66,472.6 L490.19,472.6 L490.72,472.6 L491.25,472.6 L491.78,472.6 L492.31,472.6 L492.84,472.6 L493.37,472.6 L493.9,472.6 L494.43,472.6 L494.96,472.6 L495.49,472.6 L496.02,472.6 L496.55,472.6 L497.08,472.6 L497.6,472.6 L498.13,472.6 L498.66,472.6 L499.19,472.6 L499.72,472.6 L500.25,472.6 L500.78,472.6 L501.31,472.6 L501.84,472.6 L502.37,472.6 L502.9,472.6 L503.43,472.6 L503.96,472.6 L504.49,472.6 L505.02,472.6 L505.55,472.6 L506.07,472.6 L506.6,472.6 L507.13,472.6 L507.66,472.6 L508.19,472.6 L508.72,472.6 L509.25,472.6 L509.78,472.6 L510.31,472.6 L510.84,472.6 L511.37,472.6 L511.9,472.6 L512.43,472.6 L512.96,472.6 L513.49,472.6 L514.02,472.6 L514.54,472.6 L515.07,472.6 L515.6,472.6 L516.13,472.6 L516.66,472.6 L517.19,472.6 L517.72,472.6 L518.25,472.6 L518.78,472.6 L519.31,472.6 L519.84,472.6 L520.37,472.6 L520.9,472.6 L521.43,472.6 L521.96,472.6 L522.49,472.6 L523.01,472.6 L523.54,472.6 L524.07,472.6 L524.6,472.6 L525.13,472.6 L525.66,472.6 L526.19,472.6 L526.72,472.6 L527.25,472.6 L527.78,472.6 L528.31,472.6 L528.84,472.6 L529.37,472.6 L529.9,472.6 L530.43,472.6 L530.96,472.6 L531.49,472.6 L532.01,472.6 L532.54,472.6 L533.07,472.6 L533.6,472.6 L534.13,472.6 L534.66,472.6 L535.19,472.6 L535.72,472.6 L536.25,472.6 L536.78,472.6 L537.31,472.6 L537.84,472.6 L538.37,472.6 L538.9,472.6 L539.43,472.6 L539.95,472.6 L540.48,472.6 L541.01,472.6 L541.54,472.6 L542.07,472.6 L542.6,472.6 L543.13,472.6 L543.66,472.6 L544.19,472.6 L544.72,472.6 L545.25,472.6 L545.78,472.6 L546.31,472.6 L546.84,472.6 L547.37,472.6 L547.9,472.6 L548.42,472.6 L548.95,472.6 L549.48,472.6 L550.01,472.6 L550.54,472.6 L551.07,472.6 L551.6,472.6 L552.13,472.6 L552.66,472.6 L553.19,472.6 L553.72,472.6 L554.25,472.6 L554.78,472.6 L555.31,472.6 L555.84,472.6 L556.37,472.6 L556.89,472.6 L557.42,472.6 L557.95,472.6 L558.48,472.6 L559.01,472.6 L559.54,472.6 L560.07,472.6 L560.6,472.6 L561.13,472.6 L561.66,472.6 L562.19,472.6 L562.72,472.6 L563.25,472.6 L563.78,472.6 L564.31,472.6 L564.84,472.6 L565.37,472.6 L565.89,472.6 L566.42,472.6 L566.95,472.6 L567.48,472.6 L568.01,472.6 L568.54,472.6 L569.07,472.6 L569.6,472.6 L570.13,472.6 L570.66,472.6 L571.19,472.6 L571.72,472.6 L572.25,472.6 L572.78,472.6 L573.31,472.6 L573.84,472.6 L574.36,472.6 L574.89,472.6 L575.42,472.6 L575.95,472.6 L576.48,472.6 L577.01,472.59 L577.54,472.59 L578.07,472.59 L578.6,472.58 L579.13,472.57 L579.66,472.56 L580.19,472.55 L580.72,472.53 L581.25,472.51 L581.78,472.48 L582.3,472.44 L582.83,472.38 L583.36,472.32 L583.89,472.24 L584.42,472.14 L584.95,472.01 L585.48,471.86 L586.01,471.68 L586.54,471.46 L587.07,471.21 L587.6,470.9 L588.13,470.55 L588.66,470.15 L589.19,469.69 L589.72,469.18 L590.25,468.61 L590.77,467.98 L591.3,467.3 L591.83,466.56 L592.36,465.78 L592.89,464.97 L593.42,464.12 L593.95,463.26 L594.48,462.4 L595.01,461.54 L595.54,460.72 L596.07,459.94 L596.6,459.22 L597.13,458.57 L597.66,458.02 L598.19,457.56 L598.72,457.23 L599.25,457.01 L599.77,456.92 L600.3,456.96 L600.83,457.12 L601.36,457.42 L601.89,457.82 L602.42,458.34 L602.95,458.95 L603.48,459.64 L604.01,460.4 L604.54,461.21 L605.07,462.05 L605.6,462.91 L606.13,463.78 L606.66,464.63 L607.19,465.46 L607.72,466.26 L608.24,467.01 L608.77,467.71 L609.3,468.36 L609.83,468.96 L610.36,469.5 L610.89,469.98 L611.42,470.4 L611.95,470.77 L612.48,471.09 L613.01,471.36 L613.54,471.6 L614.07,471.79 L614.6,471.96 L615.13,472.09 L615.66,472.2 L616.18,472.29 L616.71,472.36 L617.24,472.42 L617.77,472.46 L618.3,472.49 L618.83,472.52 L619.36,472.54 L619.89,472.56 L620.42,472.57 L620.95,472.58 L621.48,472.58 L622.01,472.59 L622.54,472.59 L623.07,472.59 L623.6,472.6 L624.13,472.6 L624.65,472.6 L625.18,472.6 L625.71,472.6 L626.24,472.6 L626.77,472.6 L627.3,472.6 L627.83,472.6 L628.36,472.6 L628.89,472.6 L629.42,472.6 L629.95,472.6 L630.48,472.6 L631.01,472.6 L631.54,472.6 L632.07,472.6 L632.6,472.6 L633.12,472.6 L633.65,472.6 L634.18,472.6 L634.71,472.6 L635.24,472.6 L635.77,472.6 L636.3,472.6 L636.83,472.6 L637.36,472.6 L637.89,472.6 L638.42,472.6 L638.95,472.6 L639.48,472.6 L640.01,472.6 L640.54,472.6 L641.07,472.6 L641.6,472.6 L642.12,472.6 L642.65,472.6 L643.18,472.6 L643.71,472.6 L644.24,472.6 L644.77,472.6 L645.3,472.6 L645.83,472.6 L646.36,472.6 L646.89,472.6 L647.42,472.6 L647.95,472.6 L648.48,472.6 L649.01,472.6 L649.54,472.6 L650.07,472.6 L650.59,472.6 L651.12,472.6 L651.65,472.6 L652.18,472.6 L652.71,472.6 L653.24,472.6 L653.77,472.6 L654.3,472.6 L654.83,472.6 L655.36,472.6 L655.89,472.6 L656.42,472.6 L656.95,472.6 L657.48,472.6 L658.01,472.6 L658.53,472.6 L659.06,472.6 L659.59,472.6 L660.12,472.6 L660.65,472.6 L661.18,472.6 L661.71,472.6 L662.24,472.6 L662.77,472.6 L663.3,472.6 L663.83,472.6 L664.36,472.6 L664.89,472.6 L665.42,472.6 L665.95,472.6 L666.48,472.6 L667,472.6 L667.53,472.6 L668.06,472.6 L668.59,472.6 L669.12,472.6 L669.65,472.6 L670.18,472.6 L670.71,472.6 L671.24,472.6 L671.77,472.6 L672.3,472.6 L672.83,472.6 L673.36,472.6 L673.89,472.6 L674.42,472.6 L674.95,472.6 L675.48,472.6 L676,472.6 L676.53,472.6 L677.06,472.6 L677.59,472.6 L678.12,472.6 L678.65,472.6 L679.18,472.6 L679.71,472.6 L680.24,472.6 L680.77,472.6 L681.3,472.6 L681.83,472.6 L682.36,472.6 L682.89,472.6 L683.42,472.6 L683.94,472.6 L684.47,472.6 L685,472.6 L685.53,472.6 L686.06,472.6 L686.59,472.6 L687.12,472.6 L687.65,472.6 L688.18,472.6 L688.71,472.6 L689.24,472.6 L689.77,472.6 L690.3,472.6 L690.83,472.6 L691.36,472.6 L691.89,472.6 L692.41,472.6 L692.94,472.6 L693.47,472.6 L694,472.6 L694.53,472.6 L695.06,472.6 L695.59,472.6 L696.12,472.6 L696.65,472.6 L697.18,472.6 L697.71,472.6 L698.24,472.6 L698.77,472.6 L699.3,472.6 L699.83,472.6 L700.36,472.6 L700.88,472.6 L701.41,472.6 L701.94,472.6 L702.47,472.6 L703,472.6 L703.53,472.6 L704.06,472.6 L704.59,472.6 L705.12,472.6 L705.65,472.6 L706.18,472.6 L706.71,472.6 L707.24,472.6 L707.77,472.6 L708.3,472.6 L708.83,472.6 L709.36,472.6 L709.88,472.6 L710.41,472.6 L710.94,472.6 L711.47,472.6 L712,472.6 L712.53,472.6 L713.06,472.6 L713.59,472.6 L714.12,472.6 L714.65,472.6 L715.18,472.6 L715.71,472.6 L716.24,472.6 L716.77,472.6 L717.3,472.6 L717.83,472.6 L718.35,472.6 L718.88,472.6 L719.41,472.6 L719.94,472.6 L720.47,472.6 L721,472.6 L721.53,472.6 L722.06,472.6 L722.59,472.6 L723.12,472.6 L723.65,472.6 L724.18,472.6 L724.71,472.6 L725.24,472.6 L725.77,472.6 L726.29,472.6 L726.82,472.6 L727.35,472.6 L727.88,472.6 L728.41,472.6 L728.94,472.6 L729.47,472.6 L730,472.6 L730.53,472.6 L731.06,472.6 L731.59,472.6 L732.12,472.6 L732.65,472.6 L733.18,472.6 L733.71,472.6 L734.24,472.6 L734.76,472.6 L735.29,472.6 L735.82,472.6 L736.35,472.6 L736.88,472.6 L737.41,472.6 L737.94,472.6 L738.47,472.6 L739,472.6M484.9,472.6 L485.43,472.6 L485.96,472.6 L486.49,472.6 L487.02,472.6 L487.55,472.6 L488.08,472.6 L488.61,472.6 L489.13,472.6 L489.66,472.6 L490.19,472.6 L490.72,472.6 L491.25,472.6 L491.78,472.6 L492.31,472.6 L492.84,472.6 L493.37,472.6 L493.9,472.6 L494.43,472.6 L494.96,472.6 L495.49,472.6 L496.02,472.6 L496.55,472.6 L497.08,472.6 L497.6,472.6 L498.13,472.6 L498.66,472.6 L499.19,472.6 L499.72,472.6 L500.25,472.6 L500.78,472.6 L501.31,472.6 L501.84,472.6 L502.37,472.6 L502.9,472.6 L503.43,472.6 L503.96,472.6 L504.49,472.6 L505.02,472.6 L505.55,472.6 L506.07,472.6 L506.6,472.6 L507.13,472.6 L507.66,472.6 L508.19,472.6 L508.72,472.6 L509.25,472.6 L509.78,472.6 L510.31,472.6 L510.84,472.6 L511.37,472.6 L511.9,472.6 L512.43,472.6 L512.96,472.6 L513.49,472.6 L514.02,472.6 L514.54,472.6 L515.07,472.6 L515.6,472.6 L516.13,472.6 L516.66,472.6 L517.19,472.6 L517.72,472.6 L518.25,472.6 L518.78,472.6 L519.31,472.59 L519.84,472.59 L520.37,472.59 L520.9,472.59 L521.43,472.59 L521.96,472.59 L522.49,472.59 L523.01,472.59 L523.54,472.59 L524.07,472.59 L524.6,472.59 L525.13,472.59 L525.66,472.58 L526.19,472.58 L526.72,472.58 L527.25,472.58 L527.78,472.58 L528.31,472.58 L528.84,472.57 L529.37,472.57 L529.9,472.57 L530.43,472.57 L530.96,472.56 L531.49,472.56 L532.01,472.56 L532.54,472.55 L533.07,472.55 L533.6,472.54 L534.13,472.54 L534.66,472.53 L535.19,472.53 L535.72,472.52 L536.25,472.52 L536.78,472.51 L537.31,472.5 L537.84,472.49 L538.37,472.49 L538.9,472.48 L539.43,472.47 L539.95,472.46 L540.48,472.44 L541.01,472.43 L541.54,472.42 L542.07,472.4 L542.6,472.39 L543.13,472.37 L543.66,472.36 L544.19,472.34 L544.72,472.32 L545.25,472.3 L545.78,472.27 L546.31,472.25 L546.84,472.22 L547.37,472.19 L547.9,472.16 L548.42,472.13 L548.95,472.1 L549.48,472.06 L550.01,472.02 L550.54,471.98 L551.07,471.94 L551.6,471.89 L552.13,471.84 L552.66,471.79 L553.19,471.73 L553.72,471.67 L554.25,471.61 L554.78,471.55 L555.31,471.47 L555.84,471.4 L556.37,471.32 L556.89,471.24 L557.42,471.15 L557.95,471.05 L558.48,470.95 L559.01,470.85 L559.54,470.74 L560.07,470.62 L560.6,470.5 L561.13,470.37 L561.66,470.23 L562.19,470.08 L562.72,469.93 L563.25,469.77 L563.78,469.6 L564.31,469.42 L564.84,469.23 L565.37,469.04 L565.89,468.83 L566.42,468.61 L566.95,468.39 L567.48,468.15 L568.01,467.9 L568.54,467.63 L569.07,467.36 L569.6,467.07 L570.13,466.77 L570.66,466.46 L571.19,466.13 L571.72,465.78 L572.25,465.43 L572.78,465.05 L573.31,464.66 L573.84,464.25 L574.36,463.83 L574.89,463.39 L575.42,462.93 L575.95,462.45 L576.48,461.95 L577.01,461.44 L577.54,460.9 L578.07,460.34 L578.6,459.76 L579.13,459.16 L579.66,458.54 L580.19,457.89 L580.72,457.22 L581.25,456.53 L581.78,455.82 L582.3,455.08 L582.83,454.31 L583.36,453.52 L583.89,452.71 L584.42,451.86 L584.95,451 L585.48,450.1 L586.01,449.18 L586.54,448.23 L587.07,447.25 L587.6,446.25 L588.13,445.21 L588.66,444.15 L589.19,443.06 L589.72,441.94 L590.25,440.79 L590.77,439.62 L591.3,438.41 L591.83,437.18 L592.36,435.91 L592.89,434.62 L593.42,433.3 L593.95,431.95 L594.48,430.57 L595.01,429.17 L595.54,427.73 L596.07,426.27 L596.6,424.78 L597.13,423.27 L597.66,421.72 L598.19,420.16 L598.72,418.56 L599.25,416.95 L599.77,415.3 L600.3,413.64 L600.83,411.95 L601.36,410.24 L601.89,408.51 L602.42,406.76 L602.95,404.99 L603.48,403.21 L604.01,401.4 L604.54,399.58 L605.07,397.75 L605.6,395.9 L606.13,394.05 L606.66,392.18 L607.19,390.3 L607.72,388.41 L608.24,386.52 L608.77,384.62 L609.3,382.72 L609.83,380.81 L610.36,378.91 L610.89,377.01 L611.42,375.11 L611.95,373.21 L612.48,371.32 L613.01,369.44 L613.54,367.57 L614.07,365.71 L614.6,363.87 L615.13,362.04 L615.66,360.22 L616.18,358.43 L616.71,356.66 L617.24,354.91 L617.77,353.18 L618.3,351.48 L618.83,349.81 L619.36,348.17 L619.89,346.56 L620.42,344.98 L620.95,343.44 L621.48,341.94 L622.01,340.48 L622.54,339.05 L623.07,337.67 L623.6,336.34 L624.13,335.04 L624.65,333.8 L625.18,332.6 L625.71,331.46 L626.24,330.36 L626.77,329.32 L627.3,328.33 L627.83,327.4 L628.36,326.52 L628.89,325.7 L629.42,324.94 L629.95,324.24 L630.48,323.6 L631.01,323.02 L631.54,322.5 L632.07,322.05 L632.6,321.65 L633.12,321.32 L633.65,321.06 L634.18,320.86 L634.71,320.72 L635.24,320.65 L635.77,320.64 L636.3,320.7 L636.83,320.83 L637.36,321.01 L637.89,321.27 L638.42,321.58 L638.95,321.96 L639.48,322.41 L640.01,322.91 L640.54,323.48 L641.07,324.11 L641.6,324.8 L642.12,325.55 L642.65,326.35 L643.18,327.22 L643.71,328.14 L644.24,329.12 L644.77,330.15 L645.3,331.23 L645.83,332.37 L646.36,333.56 L646.89,334.79 L647.42,336.07 L647.95,337.4 L648.48,338.77 L649.01,340.19 L649.54,341.64 L650.07,343.14 L650.59,344.67 L651.12,346.24 L651.65,347.84 L652.18,349.48 L652.71,351.14 L653.24,352.84 L653.77,354.56 L654.3,356.3 L654.83,358.07 L655.36,359.86 L655.89,361.67 L656.42,363.5 L656.95,365.34 L657.48,367.2 L658.01,369.07 L658.53,370.94 L659.06,372.83 L659.59,374.73 L660.12,376.63 L660.65,378.53 L661.18,380.43 L661.71,382.34 L662.24,384.24 L662.77,386.14 L663.3,388.03 L663.83,389.92 L664.36,391.8 L664.89,393.67 L665.42,395.53 L665.95,397.38 L666.48,399.22 L667,401.04 L667.53,402.85 L668.06,404.64 L668.59,406.41 L669.12,408.16 L669.65,409.9 L670.18,411.61 L670.71,413.3 L671.24,414.97 L671.77,416.62 L672.3,418.24 L672.83,419.84 L673.36,421.41 L673.89,422.96 L674.42,424.48 L674.95,425.97 L675.48,427.44 L676,428.88 L676.53,430.29 L677.06,431.68 L677.59,433.03 L678.12,434.36 L678.65,435.66 L679.18,436.93 L679.71,438.17 L680.24,439.38 L680.77,440.56 L681.3,441.71 L681.83,442.84 L682.36,443.94 L682.89,445 L683.42,446.04 L683.94,447.05 L684.47,448.04 L685,448.99 L685.53,449.92 L686.06,450.82 L686.59,451.69 L687.12,452.54 L687.65,453.36 L688.18,454.16 L688.71,454.93 L689.24,455.67 L689.77,456.39 L690.3,457.09 L690.83,457.76 L691.36,458.41 L691.89,459.04 L692.41,459.64 L692.94,460.23 L693.47,460.79 L694,461.33 L694.53,461.85 L695.06,462.35 L695.59,462.83 L696.12,463.3 L696.65,463.74 L697.18,464.17 L697.71,464.58 L698.24,464.97 L698.77,465.35 L699.3,465.71 L699.83,466.06 L700.36,466.39 L700.88,466.71 L701.41,467.01 L701.94,467.3 L702.47,467.58 L703,467.84 L703.53,468.1 L704.06,468.34 L704.59,468.57 L705.12,468.79 L705.65,469 L706.18,469.19 L706.71,469.38 L707.24,469.56 L707.77,469.74 L708.3,469.9 L708.83,470.05 L709.36,470.2 L709.88,470.34 L710.41,470.47 L710.94,470.6 L711.47,470.71 L712,470.83 L712.53,470.93 L713.06,471.03 L713.59,471.13 L714.12,471.22 L714.65,471.3 L715.18,471.38 L715.71,471.46 L716.24,471.53 L716.77,471.6 L717.3,471.66 L717.83,471.72 L718.35,471.78 L718.88,471.83 L719.41,471.88 L719.94,471.93 L720.47,471.97 L721,472.02 L721.53,472.05 L722.06,472.09 L722.59,472.13 L723.12,472.16 L723.65,472.19 L724.18,472.22 L724.71,472.24 L725.24,472.27 L725.77,472.29 L726.29,472.31 L726.82,472.33 L727.35,472.35 L727.88,472.37 L728.41,472.39 L728.94,472.4 L729.47,472.42 L730,472.43 L730.53,472.44 L731.06,472.45 L731.59,472.46 L732.12,472.47 L732.65,472.48 L733.18,472.49 L733.71,472.5 L734.24,472.51 L734.76,472.52 L735.29,472.52 L735.82,472.53 L736.35,472.53 L736.88,472.54 L737.41,472.54 L737.94,472.55 L738.47,472.55 L739,472.56M484.9,472.6 L485.43,472.6 L485.96,472.6 L486.49,472.6 L487.02,472.6 L487.55,472.6 L488.08,472.6 L488.61,472.6 L489.13,472.6 L489.66,472.6 L490.19,472.6 L490.72,472.6 L491.25,472.6 L491.78,472.6 L492.31,472.6 L492.84,472.6 L493.37,472.6 L493.9,472.6 L494.43,472.6 L494.96,472.6 L495.49,472.6 L496.02,472.6 L496.55,472.6 L497.08,472.6 L497.6,472.6 L498.13,472.6 L498.66,472.6 L499.19,472.6 L499.72,472.6 L500.25,472.6 L500.78,472.6 L501.31,472.6 L501.84,472.6 L502.37,472.6 L502.9,472.6 L503.43,472.6 L503.96,472.6 L504.49,472.6 L505.02,472.6 L505.55,472.6 L506.07,472.6 L506.6,472.6 L507.13,472.6 L507.66,472.6 L508.19,472.6 L508.72,472.6 L509.25,472.6 L509.78,472.6 L510.31,472.6 L510.84,472.6 L511.37,472.6 L511.9,472.6 L512.43,472.6 L512.96,472.6 L513.49,472.6 L514.02,472.6 L514.54,472.6 L515.07,472.6 L515.6,472.6 L516.13,472.6 L516.66,472.6 L517.19,472.6 L517.72,472.6 L518.25,472.6 L518.78,472.6 L519.31,472.6 L519.84,472.6 L520.37,472.6 L520.9,472.6 L521.43,472.6 L521.96,472.6 L522.49,472.6 L523.01,472.6 L523.54,472.6 L524.07,472.6 L524.6,472.6 L525.13,472.6 L525.66,472.6 L526.19,472.6 L526.72,472.6 L527.25,472.6 L527.78,472.6 L528.31,472.6 L528.84,472.6 L529.37,472.6 L529.9,472.6 L530.43,472.6 L530.96,472.6 L531.49,472.6 L532.01,472.6 L532.54,472.6 L533.07,472.6 L533.6,472.6 L534.13,472.6 L534.66,472.6 L535.19,472.6 L535.72,472.6 L536.25,472.6 L536.78,472.6 L537.31,472.6 L537.84,472.6 L538.37,472.6 L538.9,472.6 L539.43,472.6 L539.95,472.6 L540.48,472.6 L541.01,472.6 L541.54,472.6 L542.07,472.6 L542.6,472.6 L543.13,472.6 L543.66,472.6 L544.19,472.6 L544.72,472.6 L545.25,472.6 L545.78,472.6 L546.31,472.6 L546.84,472.6 L547.37,472.6 L547.9,472.6 L548.42,472.6 L548.95,472.6 L549.48,472.6 L550.01,472.6 L550.54,472.6 L551.07,472.6 L551.6,472.6 L552.13,472.6 L552.66,472.6 L553.19,472.6 L553.72,472.6 L554.25,472.6 L554.78,472.6 L555.31,472.6 L555.84,472.6 L556.37,472.6 L556.89,472.6 L557.42,472.6 L557.95,472.6 L558.48,472.6 L559.01,472.6 L559.54,472.6 L560.07,472.6 L560.6,472.6 L561.13,472.6 L561.66,472.6 L562.19,472.6 L562.72,472.6 L563.25,472.6 L563.78,472.6 L564.31,472.6 L564.84,472.6 L565.37,472.6 L565.89,472.6 L566.42,472.6 L566.95,472.6 L567.48,472.6 L568.01,472.6 L568.54,472.6 L569.07,472.6 L569.6,472.6 L570.13,472.6 L570.66,472.6 L571.19,472.6 L571.72,472.6 L572.25,472.6 L572.78,472.6 L573.31,472.6 L573.84,472.6 L574.36,472.6 L574.89,472.6 L575.42,472.6 L575.95,472.6 L576.48,472.6 L577.01,472.6 L577.54,472.6 L578.07,472.6 L578.6,472.6 L579.13,472.6 L579.66,472.6 L580.19,472.6 L580.72,472.6 L581.25,472.6 L581.78,472.6 L582.3,472.6 L582.83,472.6 L583.36,472.6 L583.89,472.6 L584.42,472.6 L584.95,472.6 L585.48,472.6 L586.01,472.6 L586.54,472.6 L587.07,472.6 L587.6,472.6 L588.13,472.6 L588.66,472.6 L589.19,472.6 L589.72,472.6 L590.25,472.6 L590.77,472.6 L591.3,472.6 L591.83,472.6 L592.36,472.6 L592.89,472.6 L593.42,472.6 L593.95,472.6 L594.48,472.6 L595.01,472.6 L595.54,472.6 L596.07,472.6 L596.6,472.6 L597.13,472.6 L597.66,472.6 L598.19,472.6 L598.72,472.6 L599.25,472.6 L599.77,472.6 L600.3,472.6 L600.83,472.6 L601.36,472.6 L601.89,472.6 L602.42,472.6 L602.95,472.6 L603.48,472.6 L604.01,472.6 L604.54,472.6 L605.07,472.6 L605.6,472.6 L606.13,472.6 L606.66,472.6 L607.19,472.6 L607.72,472.6 L608.24,472.6 L608.77,472.6 L609.3,472.6 L609.83,472.6 L610.36,472.6 L610.89,472.6 L611.42,472.6 L611.95,472.6 L612.48,472.6 L613.01,472.6 L613.54,472.6 L614.07,472.6 L614.6,472.6 L615.13,472.6 L615.66,472.6 L616.18,472.6 L616.71,472.6 L617.24,472.59 L617.77,472.59 L618.3,472.59 L618.83,472.59 L619.36,472.59 L619.89,472.59 L620.42,472.59 L620.95,472.58 L621.48,472.58 L622.01,472.58 L622.54,472.57 L623.07,472.57 L623.6,472.57 L624.13,472.56 L624.65,472.55 L625.18,472.55 L625.71,472.54 L626.24,472.53 L626.77,472.52 L627.3,472.51 L627.83,472.49 L628.36,472.48 L628.89,472.46 L629.42,472.44 L629.95,472.42 L630.48,472.4 L631.01,472.37 L631.54,472.34 L632.07,472.31 L632.6,472.27 L633.12,472.23 L633.65,472.18 L634.18,472.13 L634.71,472.07 L635.24,472 L635.77,471.93 L636.3,471.85 L636.83,471.77 L637.36,471.67 L637.89,471.57 L638.42,471.45 L638.95,471.32 L639.48,471.19 L640.01,471.04 L640.54,470.87 L641.07,470.69 L641.6,470.5 L642.12,470.29 L642.65,470.07 L643.18,469.82 L643.71,469.56 L644.24,469.27 L644.77,468.97 L645.3,468.64 L645.83,468.29 L646.36,467.92 L646.89,467.52 L647.42,467.09 L647.95,466.64 L648.48,466.16 L649.01,465.65 L649.54,465.12 L650.07,464.55 L650.59,463.95 L651.12,463.33 L651.65,462.67 L652.18,461.98 L652.71,461.26 L653.24,460.51 L653.77,459.73 L654.3,458.92 L654.83,458.08 L655.36,457.21 L655.89,456.32 L656.42,455.39 L656.95,454.44 L657.48,453.47 L658.01,452.47 L658.53,451.46 L659.06,450.42 L659.59,449.37 L660.12,448.31 L660.65,447.23 L661.18,446.15 L661.71,445.06 L662.24,443.96 L662.77,442.87 L663.3,441.78 L663.83,440.7 L664.36,439.63 L664.89,438.58 L665.42,437.54 L665.95,436.53 L666.48,435.54 L667,434.58 L667.53,433.65 L668.06,432.76 L668.59,431.9 L669.12,431.1 L669.65,430.33 L670.18,429.62 L670.71,428.96 L671.24,428.36 L671.77,427.81 L672.3,427.32 L672.83,426.9 L673.36,426.54 L673.89,426.25 L674.42,426.02 L674.95,425.86 L675.48,425.77 L676,425.75 L676.53,425.8 L677.06,425.92 L677.59,426.1 L678.12,426.36 L678.65,426.68 L679.18,427.06 L679.71,427.51 L680.24,428.02 L680.77,428.59 L681.3,429.22 L681.83,429.9 L682.36,430.63 L682.89,431.41 L683.42,432.24 L683.94,433.11 L684.47,434.02 L685,434.96 L685.53,435.93 L686.06,436.93 L686.59,437.95 L687.12,439 L687.65,440.06 L688.18,441.14 L688.71,442.22 L689.24,443.31 L689.77,444.4 L690.3,445.49 L690.83,446.58 L691.36,447.66 L691.89,448.74 L692.41,449.8 L692.94,450.84 L693.47,451.87 L694,452.88 L694.53,453.86 L695.06,454.83 L695.59,455.77 L696.12,456.68 L696.65,457.56 L697.18,458.42 L697.71,459.25 L698.24,460.05 L698.77,460.82 L699.3,461.56 L699.83,462.26 L700.36,462.94 L700.88,463.58 L701.41,464.2 L701.94,464.78 L702.47,465.34 L703,465.86 L703.53,466.36 L704.06,466.82 L704.59,467.27 L705.12,467.68 L705.65,468.07 L706.18,468.43 L706.71,468.77 L707.24,469.09 L707.77,469.39 L708.3,469.67 L708.83,469.92 L709.36,470.16 L709.88,470.38 L710.41,470.58 L710.94,470.77 L711.47,470.94 L712,471.1 L712.53,471.24 L713.06,471.38 L713.59,471.5 L714.12,471.61 L714.65,471.71 L715.18,471.8 L715.71,471.89 L716.24,471.96 L716.77,472.03 L717.3,472.09 L717.83,472.15 L718.35,472.2 L718.88,472.24 L719.41,472.28 L719.94,472.32 L720.47,472.35 L721,472.38 L721.53,472.41 L722.06,472.43 L722.59,472.45 L723.12,472.47 L723.65,472.49 L724.18,472.5 L724.71,472.51 L725.24,472.52 L725.77,472.53 L726.29,472.54 L726.82,472.55 L727.35,472.56 L727.88,472.56 L728.41,472.57 L728.94,472.57 L729.47,472.58 L730,472.58 L730.53,472.58 L731.06,472.58 L731.59,472.59 L732.12,472.59 L732.65,472.59 L733.18,472.59 L733.71,472.59 L734.24,472.59 L734.76,472.6 L735.29,472.6 L735.82,472.6 L736.35,472.6 L736.88,472.6 L737.41,472.6 L737.94,472.6 L738.47,472.6 L739,472.6" fill="none" stroke="#3636ff" stroke-width="1.1"/>
<g fill="#fff" stroke="#2a2a2a" stroke-width="0.7"><circle cx="484.9" cy="471.9" r="2.7"/><circle cx="486.17" cy="468.86" r="2.7"/><circle cx="487.44" cy="466.78" r="2.7"/><circle cx="488.71" cy="464.23" r="2.7"/><circle cx="489.98" cy="460.28" r="2.7"/><circle cx="491.25" cy="455" r="2.7"/><circle cx="492.52" cy="449.35" r="2.7"/><circle cx="493.79" cy="443.49" r="2.7"/><circle cx="495.06" cy="437.85" r="2.7"/><circle cx="496.33" cy="432.4" r="2.7"/><circle cx="497.6" cy="427.19" r="2.7"/><circle cx="498.88" cy="423.83" r="2.7"/><circle cx="500.15" cy="420.47" r="2.7"/><circle cx="501.42" cy="417.8" r="2.7"/><circle cx="502.69" cy="415.31" r="2.7"/><circle cx="503.96" cy="412.98" r="2.7"/><circle cx="505.23" cy="410.77" r="2.7"/><circle cx="506.5" cy="408.31" r="2.7"/><circle cx="507.77" cy="405.56" r="2.7"/><circle cx="509.04" cy="402.81" r="2.7"/><circle cx="510.31" cy="399.73" r="2.7"/><circle cx="511.58" cy="396.55" r="2.7"/><circle cx="512.85" cy="393.2" r="2.7"/><circle cx="514.12" cy="385.79" r="2.7"/><circle cx="515.39" cy="380.03" r="2.7"/><circle cx="516.66" cy="372.27" r="2.7"/><circle cx="517.93" cy="363.22" r="2.7"/><circle cx="519.2" cy="354.53" r="2.7"/><circle cx="520.47" cy="346.49" r="2.7"/><circle cx="521.74" cy="339.22" r="2.7"/><circle cx="523.01" cy="333.01" r="2.7"/><circle cx="524.29" cy="326.49" r="2.7"/><circle cx="525.56" cy="321.33" r="2.7"/><circle cx="526.83" cy="317.97" r="2.7"/><circle cx="528.1" cy="314.97" r="2.7"/><circle cx="529.37" cy="313.1" r="2.7"/><circle cx="530.64" cy="311.28" r="2.7"/><circle cx="531.91" cy="310.45" r="2.7"/><circle cx="533.18" cy="309.63" r="2.7"/><circle cx="534.45" cy="308.87" r="2.7"/><circle cx="535.72" cy="308.6" r="2.7"/><circle cx="536.99" cy="308.34" r="2.7"/><circle cx="538.26" cy="308.07" r="2.7"/><circle cx="539.53" cy="308.34" r="2.7"/><circle cx="540.8" cy="308.81" r="2.7"/><circle cx="542.07" cy="309.27" r="2.7"/><circle cx="543.34" cy="310.21" r="2.7"/><circle cx="544.61" cy="311.62" r="2.7"/><circle cx="545.88" cy="313.03" r="2.7"/><circle cx="547.15" cy="314.72" r="2.7"/><circle cx="548.42" cy="316.61" r="2.7"/><circle cx="549.7" cy="318.5" r="2.7"/><circle cx="550.97" cy="320.2" r="2.7"/><circle cx="552.24" cy="321.81" r="2.7"/><circle cx="553.51" cy="323.43" r="2.7"/><circle cx="554.78" cy="324.69" r="2.7"/><circle cx="556.05" cy="325.86" r="2.7"/><circle cx="557.32" cy="327.02" r="2.7"/><circle cx="558.59" cy="328.18" r="2.7"/><circle cx="559.86" cy="329.27" r="2.7"/><circle cx="561.13" cy="330.35" r="2.7"/><circle cx="562.4" cy="331.24" r="2.7"/><circle cx="563.67" cy="331.7" r="2.7"/><circle cx="564.94" cy="332.16" r="2.7"/><circle cx="566.21" cy="332.62" r="2.7"/><circle cx="567.48" cy="332.55" r="2.7"/><circle cx="568.75" cy="332.14" r="2.7"/><circle cx="570.02" cy="331.74" r="2.7"/><circle cx="571.29" cy="331.33" r="2.7"/><circle cx="572.56" cy="330.28" r="2.7"/><circle cx="573.83" cy="329.18" r="2.7"/><circle cx="575.11" cy="328.07" r="2.7"/><circle cx="576.38" cy="326.92" r="2.7"/><circle cx="577.65" cy="325.65" r="2.7"/><circle cx="578.92" cy="324.38" r="2.7"/><circle cx="580.19" cy="323.11" r="2.7"/><circle cx="581.46" cy="321.93" r="2.7"/><circle cx="582.73" cy="320.82" r="2.7"/><circle cx="584" cy="319.71" r="2.7"/><circle cx="585.27" cy="318.6" r="2.7"/><circle cx="586.54" cy="317.09" r="2.7"/><circle cx="587.81" cy="315.5" r="2.7"/><circle cx="589.08" cy="313.9" r="2.7"/><circle cx="590.35" cy="312.26" r="2.7"/><circle cx="591.62" cy="310.2" r="2.7"/><circle cx="592.89" cy="308.15" r="2.7"/><circle cx="594.16" cy="306.09" r="2.7"/><circle cx="595.43" cy="304.04" r="2.7"/><circle cx="596.7" cy="301.98" r="2.7"/><circle cx="597.97" cy="300.12" r="2.7"/><circle cx="599.24" cy="299.55" r="2.7"/><circle cx="600.52" cy="299.71" r="2.7"/><circle cx="601.79" cy="300.43" r="2.7"/><circle cx="603.06" cy="301.95" r="2.7"/><circle cx="604.33" cy="303.55" r="2.7"/><circle cx="605.6" cy="305.1" r="2.7"/><circle cx="606.87" cy="306.37" r="2.7"/><circle cx="608.14" cy="307.64" r="2.7"/><circle cx="609.41" cy="308.62" r="2.7"/><circle cx="610.68" cy="309.16" r="2.7"/><circle cx="611.95" cy="309.71" r="2.7"/><circle cx="613.22" cy="309.64" r="2.7"/><circle cx="614.49" cy="309.23" r="2.7"/><circle cx="615.76" cy="308.83" r="2.7"/><circle cx="617.03" cy="308.42" r="2.7"/><circle cx="618.3" cy="307.97" r="2.7"/><circle cx="619.57" cy="307.51" r="2.7"/><circle cx="620.84" cy="307.05" r="2.7"/><circle cx="622.11" cy="306.62" r="2.7"/><circle cx="623.38" cy="306.3" r="2.7"/><circle cx="624.65" cy="305.97" r="2.7"/><circle cx="625.93" cy="305.65" r="2.7"/><circle cx="627.2" cy="305.5" r="2.7"/><circle cx="628.47" cy="305.5" r="2.7"/><circle cx="629.74" cy="305.5" r="2.7"/><circle cx="631.01" cy="305.85" r="2.7"/><circle cx="632.28" cy="306.28" r="2.7"/><circle cx="633.55" cy="306.74" r="2.7"/><circle cx="634.82" cy="307.76" r="2.7"/><circle cx="636.09" cy="308.79" r="2.7"/><circle cx="637.36" cy="309.95" r="2.7"/><circle cx="638.63" cy="311.66" r="2.7"/><circle cx="639.9" cy="313.36" r="2.7"/><circle cx="641.17" cy="315.07" r="2.7"/><circle cx="642.44" cy="316.77" r="2.7"/><circle cx="643.71" cy="318.47" r="2.7"/><circle cx="644.98" cy="320.18" r="2.7"/><circle cx="646.25" cy="322.18" r="2.7"/><circle cx="647.52" cy="324.29" r="2.7"/><circle cx="648.79" cy="326.4" r="2.7"/><circle cx="650.06" cy="328.51" r="2.7"/><circle cx="651.34" cy="330.76" r="2.7"/><circle cx="652.61" cy="333.1" r="2.7"/><circle cx="653.88" cy="335.45" r="2.7"/><circle cx="655.15" cy="337.79" r="2.7"/><circle cx="656.42" cy="340.23" r="2.7"/><circle cx="657.69" cy="342.78" r="2.7"/><circle cx="658.96" cy="345.32" r="2.7"/><circle cx="660.23" cy="347.86" r="2.7"/><circle cx="661.5" cy="350.4" r="2.7"/><circle cx="662.77" cy="352.94" r="2.7"/><circle cx="664.04" cy="355.48" r="2.7"/><circle cx="665.31" cy="358.02" r="2.7"/><circle cx="666.58" cy="360.6" r="2.7"/><circle cx="667.85" cy="363.4" r="2.7"/><circle cx="669.12" cy="366.2" r="2.7"/><circle cx="670.39" cy="369" r="2.7"/><circle cx="671.66" cy="371.78" r="2.7"/><circle cx="672.93" cy="374.56" r="2.7"/><circle cx="674.2" cy="377.33" r="2.7"/><circle cx="675.47" cy="380.14" r="2.7"/><circle cx="676.75" cy="383.12" r="2.7"/><circle cx="678.02" cy="386.1" r="2.7"/><circle cx="679.29" cy="389.08" r="2.7"/><circle cx="680.56" cy="392.53" r="2.7"/><circle cx="681.83" cy="396.09" r="2.7"/><circle cx="683.1" cy="399.65" r="2.7"/><circle cx="684.37" cy="403.21" r="2.7"/><circle cx="685.64" cy="408.11" r="2.7"/><circle cx="686.91" cy="413.04" r="2.7"/><circle cx="688.18" cy="417.84" r="2.7"/><circle cx="689.45" cy="422.3" r="2.7"/><circle cx="690.72" cy="426.77" r="2.7"/><circle cx="691.99" cy="430.8" r="2.7"/><circle cx="693.26" cy="434.65" r="2.7"/><circle cx="694.53" cy="438.47" r="2.7"/><circle cx="695.8" cy="441.97" r="2.7"/><circle cx="697.07" cy="445.47" r="2.7"/><circle cx="698.34" cy="448.6" r="2.7"/><circle cx="699.61" cy="451.35" r="2.7"/><circle cx="700.88" cy="454.1" r="2.7"/><circle cx="702.16" cy="456.76" r="2.7"/><circle cx="703.43" cy="459.04" r="2.7"/><circle cx="704.7" cy="461.32" r="2.7"/><circle cx="705.97" cy="463.45" r="2.7"/><circle cx="707.24" cy="464.59" r="2.7"/><circle cx="708.51" cy="465.74" r="2.7"/><circle cx="709.78" cy="466.88" r="2.7"/><circle cx="711.05" cy="467.89" r="2.7"/><circle cx="712.32" cy="468.38" r="2.7"/><circle cx="713.59" cy="468.86" r="2.7"/><circle cx="714.86" cy="469.34" r="2.7"/><circle cx="716.13" cy="469.75" r="2.7"/><circle cx="717.4" cy="469.93" r="2.7"/><circle cx="718.67" cy="470.12" r="2.7"/><circle cx="719.94" cy="470.3" r="2.7"/><circle cx="721.21" cy="470.48" r="2.7"/><circle cx="722.48" cy="470.67" r="2.7"/><circle cx="723.75" cy="470.85" r="2.7"/><circle cx="725.02" cy="470.92" r="2.7"/><circle cx="726.29" cy="470.94" r="2.7"/><circle cx="727.57" cy="470.97" r="2.7"/><circle cx="728.84" cy="470.99" r="2.7"/><circle cx="730.11" cy="471.01" r="2.7"/><circle cx="731.38" cy="471.04" r="2.7"/><circle cx="732.65" cy="471.06" r="2.7"/><circle cx="733.92" cy="471.09" r="2.7"/><circle cx="735.19" cy="471.11" r="2.7"/><circle cx="736.46" cy="471.13" r="2.7"/><circle cx="737.73" cy="471.16" r="2.7"/><circle cx="739" cy="471.18" r="2.7"/></g>
<g fill="#dde6e6" fill-opacity="0.7"><circle cx="484.9" cy="471.9" r="2.1"/><circle cx="486.17" cy="468.86" r="2.1"/><circle cx="487.44" cy="466.78" r="2.1"/><circle cx="488.71" cy="464.23" r="2.1"/><circle cx="489.98" cy="460.28" r="2.1"/><circle cx="491.25" cy="455" r="2.1"/><circle cx="492.52" cy="449.35" r="2.1"/><circle cx="493.79" cy="443.49" r="2.1"/><circle cx="495.06" cy="437.85" r="2.1"/><circle cx="496.33" cy="432.4" r="2.1"/><circle cx="497.6" cy="427.19" r="2.1"/><circle cx="498.88" cy="423.83" r="2.1"/><circle cx="500.15" cy="420.47" r="2.1"/><circle cx="501.42" cy="417.8" r="2.1"/><circle cx="502.69" cy="415.31" r="2.1"/><circle cx="503.96" cy="412.98" r="2.1"/><circle cx="505.23" cy="410.77" r="2.1"/><circle cx="506.5" cy="408.31" r="2.1"/><circle cx="507.77" cy="405.56" r="2.1"/><circle cx="509.04" cy="402.81" r="2.1"/><circle cx="510.31" cy="399.73" r="2.1"/><circle cx="511.58" cy="396.55" r="2.1"/><circle cx="512.85" cy="393.2" r="2.1"/><circle cx="514.12" cy="385.79" r="2.1"/><circle cx="515.39" cy="380.03" r="2.1"/><circle cx="516.66" cy="372.27" r="2.1"/><circle cx="517.93" cy="363.22" r="2.1"/><circle cx="519.2" cy="354.53" r="2.1"/><circle cx="520.47" cy="346.49" r="2.1"/><circle cx="521.74" cy="339.22" r="2.1"/><circle cx="523.01" cy="333.01" r="2.1"/><circle cx="524.29" cy="326.49" r="2.1"/><circle cx="525.56" cy="321.33" r="2.1"/><circle cx="526.83" cy="317.97" r="2.1"/><circle cx="528.1" cy="314.97" r="2.1"/><circle cx="529.37" cy="313.1" r="2.1"/><circle cx="530.64" cy="311.28" r="2.1"/><circle cx="531.91" cy="310.45" r="2.1"/><circle cx="533.18" cy="309.63" r="2.1"/><circle cx="534.45" cy="308.87" r="2.1"/><circle cx="535.72" cy="308.6" r="2.1"/><circle cx="536.99" cy="308.34" r="2.1"/><circle cx="538.26" cy="308.07" r="2.1"/><circle cx="539.53" cy="308.34" r="2.1"/><circle cx="540.8" cy="308.81" r="2.1"/><circle cx="542.07" cy="309.27" r="2.1"/><circle cx="543.34" cy="310.21" r="2.1"/><circle cx="544.61" cy="311.62" r="2.1"/><circle cx="545.88" cy="313.03" r="2.1"/><circle cx="547.15" cy="314.72" r="2.1"/><circle cx="548.42" cy="316.61" r="2.1"/><circle cx="549.7" cy="318.5" r="2.1"/><circle cx="550.97" cy="320.2" r="2.1"/><circle cx="552.24" cy="321.81" r="2.1"/><circle cx="553.51" cy="323.43" r="2.1"/><circle cx="554.78" cy="324.69" r="2.1"/><circle cx="556.05" cy="325.86" r="2.1"/><circle cx="557.32" cy="327.02" r="2.1"/><circle cx="558.59" cy="328.18" r="2.1"/><circle cx="559.86" cy="329.27" r="2.1"/><circle cx="561.13" cy="330.35" r="2.1"/><circle cx="562.4" cy="331.24" r="2.1"/><circle cx="563.67" cy="331.7" r="2.1"/><circle cx="564.94" cy="332.16" r="2.1"/><circle cx="566.21" cy="332.62" r="2.1"/><circle cx="567.48" cy="332.55" r="2.1"/><circle cx="568.75" cy="332.14" r="2.1"/><circle cx="570.02" cy="331.74" r="2.1"/><circle cx="571.29" cy="331.33" r="2.1"/><circle cx="572.56" cy="330.28" r="2.1"/><circle cx="573.83" cy="329.18" r="2.1"/><circle cx="575.11" cy="328.07" r="2.1"/><circle cx="576.38" cy="326.92" r="2.1"/><circle cx="577.65" cy="325.65" r="2.1"/><circle cx="578.92" cy="324.38" r="2.1"/><circle cx="580.19" cy="323.11" r="2.1"/><circle cx="581.46" cy="321.93" r="2.1"/><circle cx="582.73" cy="320.82" r="2.1"/><circle cx="584" cy="319.71" r="2.1"/><circle cx="585.27" cy="318.6" r="2.1"/><circle cx="586.54" cy="317.09" r="2.1"/><circle cx="587.81" cy="315.5" r="2.1"/><circle cx="589.08" cy="313.9" r="2.1"/><circle cx="590.35" cy="312.26" r="2.1"/><circle cx="591.62" cy="310.2" r="2.1"/><circle cx="592.89" cy="308.15" r="2.1"/><circle cx="594.16" cy="306.09" r="2.1"/><circle cx="595.43" cy="304.04" r="2.1"/><circle cx="596.7" cy="301.98" r="2.1"/><circle cx="597.97" cy="300.12" r="2.1"/><circle cx="599.24" cy="299.55" r="2.1"/><circle cx="600.52" cy="299.71" r="2.1"/><circle cx="601.79" cy="300.43" r="2.1"/><circle cx="603.06" cy="301.95" r="2.1"/><circle cx="604.33" cy="303.55" r="2.1"/><circle cx="605.6" cy="305.1" r="2.1"/><circle cx="606.87" cy="306.37" r="2.1"/><circle cx="608.14" cy="307.64" r="2.1"/><circle cx="609.41" cy="308.62" r="2.1"/><circle cx="610.68" cy="309.16" r="2.1"/><circle cx="611.95" cy="309.71" r="2.1"/><circle cx="613.22" cy="309.64" r="2.1"/><circle cx="614.49" cy="309.23" r="2.1"/><circle cx="615.76" cy="308.83" r="2.1"/><circle cx="617.03" cy="308.42" r="2.1"/><circle cx="618.3" cy="307.97" r="2.1"/><circle cx="619.57" cy="307.51" r="2.1"/><circle cx="620.84" cy="307.05" r="2.1"/><circle cx="622.11" cy="306.62" r="2.1"/><circle cx="623.38" cy="306.3" r="2.1"/><circle cx="624.65" cy="305.97" r="2.1"/><circle cx="625.93" cy="305.65" r="2.1"/><circle cx="627.2" cy="305.5" r="2.1"/><circle cx="628.47" cy="305.5" r="2.1"/><circle cx="629.74" cy="305.5" r="2.1"/><circle cx="631.01" cy="305.85" r="2.1"/><circle cx="632.28" cy="306.28" r="2.1"/><circle cx="633.55" cy="306.74" r="2.1"/><circle cx="634.82" cy="307.76" r="2.1"/><circle cx="636.09" cy="308.79" r="2.1"/><circle cx="637.36" cy="309.95" r="2.1"/><circle cx="638.63" cy="311.66" r="2.1"/><circle cx="639.9" cy="313.36" r="2.1"/><circle cx="641.17" cy="315.07" r="2.1"/><circle cx="642.44" cy="316.77" r="2.1"/><circle cx="643.71" cy="318.47" r="2.1"/><circle cx="644.98" cy="320.18" r="2.1"/><circle cx="646.25" cy="322.18" r="2.1"/><circle cx="647.52" cy="324.29" r="2.1"/><circle cx="648.79" cy="326.4" r="2.1"/><circle cx="650.06" cy="328.51" r="2.1"/><circle cx="651.34" cy="330.76" r="2.1"/><circle cx="652.61" cy="333.1" r="2.1"/><circle cx="653.88" cy="335.45" r="2.1"/><circle cx="655.15" cy="337.79" r="2.1"/><circle cx="656.42" cy="340.23" r="2.1"/><circle cx="657.69" cy="342.78" r="2.1"/><circle cx="658.96" cy="345.32" r="2.1"/><circle cx="660.23" cy="347.86" r="2.1"/><circle cx="661.5" cy="350.4" r="2.1"/><circle cx="662.77" cy="352.94" r="2.1"/><circle cx="664.04" cy="355.48" r="2.1"/><circle cx="665.31" cy="358.02" r="2.1"/><circle cx="666.58" cy="360.6" r="2.1"/><circle cx="667.85" cy="363.4" r="2.1"/><circle cx="669.12" cy="366.2" r="2.1"/><circle cx="670.39" cy="369" r="2.1"/><circle cx="671.66" cy="371.78" r="2.1"/><circle cx="672.93" cy="374.56" r="2.1"/><circle cx="674.2" cy="377.33" r="2.1"/><circle cx="675.47" cy="380.14" r="2.1"/><circle cx="676.75" cy="383.12" r="2.1"/><circle cx="678.02" cy="386.1" r="2.1"/><circle cx="679.29" cy="389.08" r="2.1"/><circle cx="680.56" cy="392.53" r="2.1"/><circle cx="681.83" cy="396.09" r="2.1"/><circle cx="683.1" cy="399.65" r="2.1"/><circle cx="684.37" cy="403.21" r="2.1"/><circle cx="685.64" cy="408.11" r="2.1"/><circle cx="686.91" cy="413.04" r="2.1"/><circle cx="688.18" cy="417.84" r="2.1"/><circle cx="689.45" cy="422.3" r="2.1"/><circle cx="690.72" cy="426.77" r="2.1"/><circle cx="691.99" cy="430.8" r="2.1"/><circle cx="693.26" cy="434.65" r="2.1"/><circle cx="694.53" cy="438.47" r="2.1"/><circle cx="695.8" cy="441.97" r="2.1"/><circle cx="697.07" cy="445.47" r="2.1"/><circle cx="698.34" cy="448.6" r="2.1"/><circle cx="699.61" cy="451.35" r="2.1"/><circle cx="700.88" cy="454.1" r="2.1"/><circle cx="702.16" cy="456.76" r="2.1"/><circle cx="703.43" cy="459.04" r="2.1"/><circle cx="704.7" cy="461.32" r="2.1"/><circle cx="705.97" cy="463.45" r="2.1"/><circle cx="707.24" cy="464.59" r="2.1"/><circle cx="708.51" cy="465.74" r="2.1"/><circle cx="709.78" cy="466.88" r="2.1"/><circle cx="711.05" cy="467.89" r="2.1"/><circle cx="712.32" cy="468.38" r="2.1"/><circle cx="713.59" cy="468.86" r="2.1"/><circle cx="714.86" cy="469.34" r="2.1"/><circle cx="716.13" cy="469.75" r="2.1"/><circle cx="717.4" cy="469.93" r="2.1"/><circle cx="718.67" cy="470.12" r="2.1"/><circle cx="719.94" cy="470.3" r="2.1"/><circle cx="721.21" cy="470.48" r="2.1"/><circle cx="722.48" cy="470.67" r="2.1"/><circle cx="723.75" cy="470.85" r="2.1"/><circle cx="725.02" cy="470.92" r="2.1"/><circle cx="726.29" cy="470.94" r="2.1"/><circle cx="727.57" cy="470.97" r="2.1"/><circle cx="728.84" cy="470.99" r="2.1"/><circle cx="730.11" cy="471.01" r="2.1"/><circle cx="731.38" cy="471.04" r="2.1"/><circle cx="732.65" cy="471.06" r="2.1"/><circle cx="733.92" cy="471.09" r="2.1"/><circle cx="735.19" cy="471.11" r="2.1"/><circle cx="736.46" cy="471.13" r="2.1"/><circle cx="737.73" cy="471.16" r="2.1"/><circle cx="739" cy="471.18" r="2.1"/></g>
<path d="M484.9,471.9C485.38,471.55 486.85,470.92 487.8,469.8C488.75,468.68 489.83,466.9 490.6,465.2C491.37,463.5 491.78,461.92 492.4,459.6C493.02,457.28 493.68,454.07 494.3,451.3C494.92,448.53 495.48,445.78 496.1,443C496.72,440.22 497.38,437.23 498,434.6C498.62,431.97 499.03,429.67 499.8,427.2C500.57,424.73 501.67,421.95 502.6,419.8C503.53,417.65 504.48,416 505.4,414.3C506.32,412.6 507.18,411.62 508.1,409.6C509.02,407.58 510.12,404.88 510.9,402.2C511.68,399.52 512.18,396.7 512.8,393.5C513.42,390.3 514.1,385.5 514.6,383C515.1,380.5 515.3,381.42 515.8,378.5C516.3,375.58 516.98,369.83 517.6,365.5C518.22,361.17 518.88,356.52 519.5,352.5C520.12,348.48 520.68,344.8 521.3,341.4C521.92,338 522.58,335.2 523.2,332.1C523.82,329 524.23,325.58 525,322.8C525.77,320.02 526.87,317.32 527.8,315.4C528.73,313.48 529.52,312.38 530.6,311.3C531.68,310.22 532.97,309.45 534.3,308.9C535.63,308.35 537.2,307.9 538.6,308C540,308.1 541.4,308.57 542.7,309.5C544,310.43 545.17,312 546.4,313.6C547.63,315.2 548.87,317.4 550.1,319.1C551.33,320.8 552.4,322.3 553.8,323.8C555.2,325.3 557.13,326.88 558.5,328.1C559.87,329.32 560.63,330.32 562,331.1C563.37,331.88 565.13,332.77 566.7,332.8C568.27,332.83 569.83,332.23 571.4,331.3C572.97,330.37 574.53,328.67 576.1,327.2C577.67,325.73 579.23,323.97 580.8,322.5C582.37,321.03 583.93,320.07 585.5,318.4C587.07,316.73 588.63,314.75 590.2,312.5C591.77,310.25 593.63,306.95 594.9,304.9C596.17,302.85 596.98,301.13 597.8,300.2C598.62,299.27 599.12,299.25 599.8,299.3C600.48,299.35 600.97,299.57 601.9,300.5C602.83,301.43 604.23,303.58 605.4,304.9C606.57,306.22 607.73,307.57 608.9,308.4C610.07,309.23 611.03,309.9 612.4,309.9C613.77,309.9 615.53,308.93 617.1,308.4C618.67,307.87 620.23,307.18 621.8,306.7C623.37,306.22 625.13,305.7 626.5,305.5C627.87,305.3 628.83,305.3 630,305.5C631.17,305.7 632.32,306.02 633.5,306.7C634.68,307.38 635.92,308.33 637.1,309.6C638.28,310.87 639.23,312.47 640.6,314.3C641.97,316.13 643.63,318.08 645.3,320.6C646.97,323.12 648.85,326.33 650.6,329.4C652.35,332.47 654.05,335.63 655.8,339C657.55,342.37 659.33,346.07 661.1,349.6C662.87,353.13 664.78,356.82 666.4,360.2C668.02,363.58 669.33,366.68 670.8,369.9C672.27,373.12 673.85,376.22 675.2,379.5C676.55,382.78 677.7,385.63 678.9,389.6C680.1,393.57 681.25,398.82 682.4,403.3C683.55,407.78 684.68,412.37 685.8,416.5C686.92,420.63 688,424.5 689.1,428.1C690.2,431.7 691.3,434.92 692.4,438.1C693.5,441.28 694.45,444.17 695.7,447.2C696.95,450.23 698.38,453.53 699.9,456.3C701.42,459.07 703.15,461.8 704.8,463.8C706.45,465.8 708.13,467.2 709.8,468.3C711.47,469.4 712.58,469.85 714.8,470.4C717.02,470.95 719.07,471.35 723.1,471.6C727.13,471.85 736.35,471.85 739,471.9" fill="none" stroke="#f01818" stroke-width="1.25" stroke-linejoin="round"/>
<rect x="905.5" y="494" width="1.5" height="4" fill="#111"/>
<path d="M668,345.2H739" stroke="#e6e6e6" stroke-width="1"/>
<g font-size="12.8" letter-spacing="0.4" fill="#111" stroke="#111" stroke-width="0.3"><text x="199.3" y="430">376</text><text x="229" y="430">394</text><text x="242.8" y="342.8">413</text><text x="287.6" y="308.2">451</text><text x="302.6" y="447.4">469</text><text x="337.1" y="396.7">500</text><text x="385.3" y="441.7">540</text></g>
<g font-size="12.8" letter-spacing="0.4" fill="#111" stroke="#111" stroke-width="0.3"><text x="490.9" y="437.6">376</text><text x="510.7" y="392">394</text><text x="529.7" y="354.2">413</text><text x="575.9" y="335.8">451</text><text x="595.6" y="454.6">469</text><text x="626.7" y="314">500</text><text x="666" y="416.7">540</text></g>
<text transform="translate(295,211) scale(0.88,1)" font-size="14.2" font-weight="bold" fill="#111">A</text>
<text transform="translate(582.2,211) scale(0.83,1)" font-size="14.2" font-weight="bold" fill="#111">B</text>
<text transform="translate(870,210.8) scale(0.86,1)" font-size="14.2" font-weight="bold" fill="#111">C</text>
<text transform="translate(432.8,458.9) scale(1.0,1)" font-size="13.0" font-weight="bold" fill="#111">D</text>
<text transform="translate(724,458.8) scale(0.83,1)" font-size="13.8" font-weight="bold" fill="#111">E</text>
<g font-size="10.5" font-weight="bold" fill="#111" stroke="#111" stroke-width="0.2"><text x="473.6" y="248" text-anchor="middle">Wavelength (nm)</text><text x="326.5" y="500.8" text-anchor="middle">Wavelength (nm)</text><text x="612.2" y="503" text-anchor="middle">Wavelength (nm)</text><text transform="translate(28.2,116.2) rotate(-90)" text-anchor="middle">Fluorescence intensity (a.u.)</text><text transform="translate(174.8,369) rotate(-90)" text-anchor="middle">Fluorescence intensity (a.u.)</text></g>
</svg>
</body></html>
